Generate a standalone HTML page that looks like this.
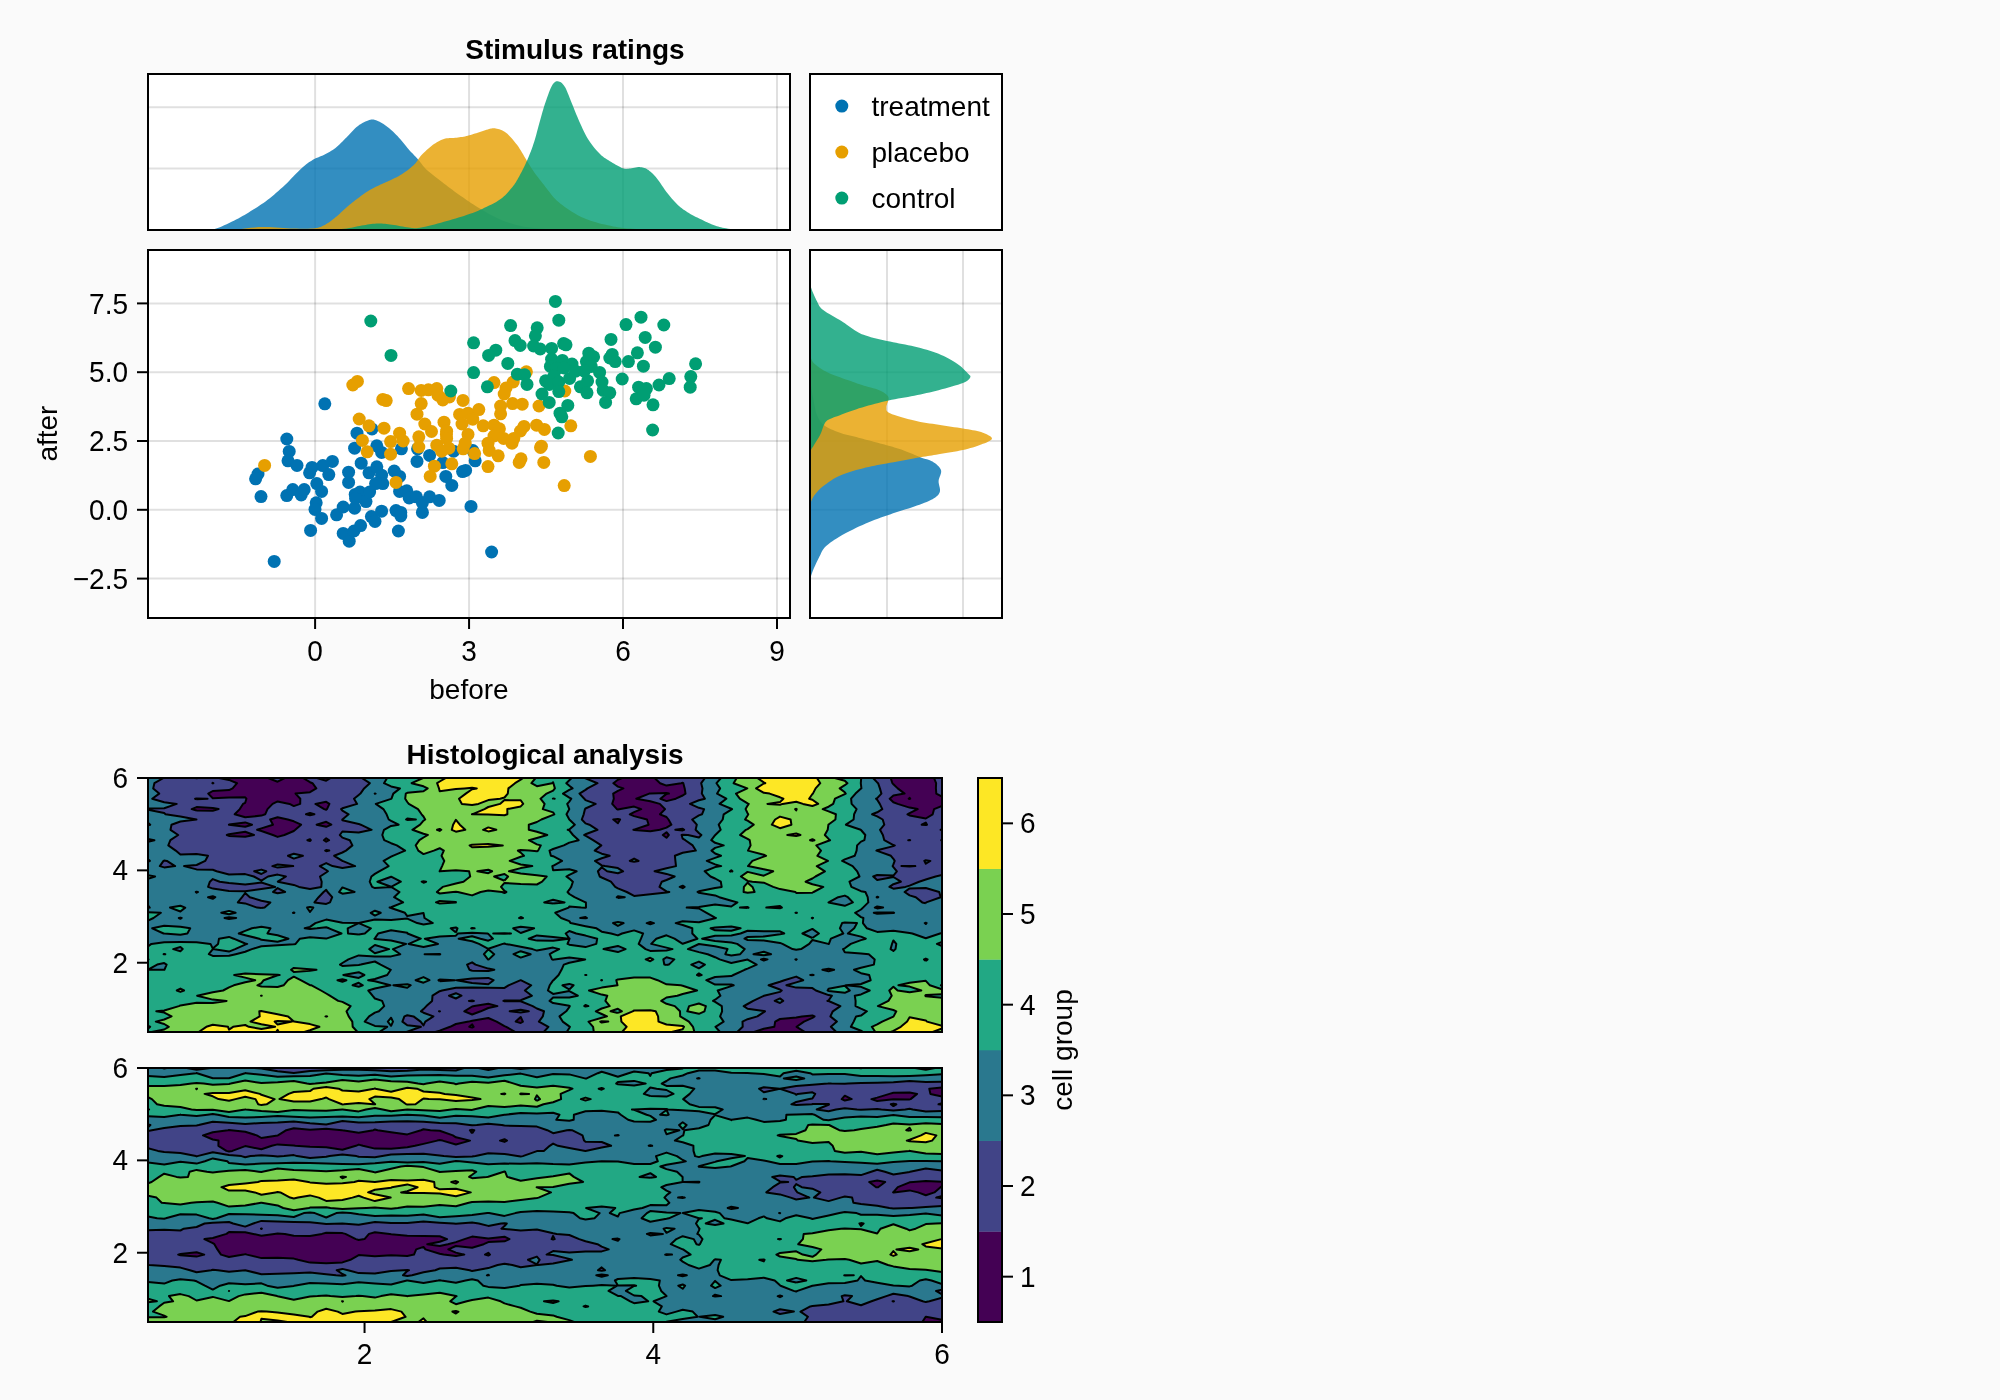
<!DOCTYPE html>
<html><head><meta charset="utf-8"><style>
html,body{margin:0;padding:0;background:#fafafa;}
body{width:2000px;height:1400px;overflow:hidden;}
svg{display:block;}
text{font-family:"Liberation Sans",sans-serif;fill:#000;}
svg{will-change:transform;}
</style></head><body>
<svg width="2000" height="1400" viewBox="0 0 2000 1400">
<rect width="2000" height="1400" fill="#fafafa"/>
<rect x="148" y="74" width="642" height="156" fill="#fff"/>
<rect x="810" y="74" width="192" height="156" fill="#fff"/>
<rect x="148" y="250" width="642" height="368" fill="#fff"/>
<rect x="810" y="250" width="192" height="368" fill="#fff"/>
<line x1="315.10" y1="250" x2="315.10" y2="618" stroke="rgba(0,0,0,0.12)" stroke-width="2"/>
<line x1="315.10" y1="74" x2="315.10" y2="230" stroke="rgba(0,0,0,0.12)" stroke-width="2"/>
<line x1="469.06" y1="250" x2="469.06" y2="618" stroke="rgba(0,0,0,0.12)" stroke-width="2"/>
<line x1="469.06" y1="74" x2="469.06" y2="230" stroke="rgba(0,0,0,0.12)" stroke-width="2"/>
<line x1="623.02" y1="250" x2="623.02" y2="618" stroke="rgba(0,0,0,0.12)" stroke-width="2"/>
<line x1="623.02" y1="74" x2="623.02" y2="230" stroke="rgba(0,0,0,0.12)" stroke-width="2"/>
<line x1="776.98" y1="250" x2="776.98" y2="618" stroke="rgba(0,0,0,0.12)" stroke-width="2"/>
<line x1="776.98" y1="74" x2="776.98" y2="230" stroke="rgba(0,0,0,0.12)" stroke-width="2"/>
<line x1="148" y1="578.60" x2="790" y2="578.60" stroke="rgba(0,0,0,0.12)" stroke-width="2"/>
<line x1="810" y1="578.60" x2="1002" y2="578.60" stroke="rgba(0,0,0,0.12)" stroke-width="2"/>
<line x1="148" y1="509.80" x2="790" y2="509.80" stroke="rgba(0,0,0,0.12)" stroke-width="2"/>
<line x1="810" y1="509.80" x2="1002" y2="509.80" stroke="rgba(0,0,0,0.12)" stroke-width="2"/>
<line x1="148" y1="441.00" x2="790" y2="441.00" stroke="rgba(0,0,0,0.12)" stroke-width="2"/>
<line x1="810" y1="441.00" x2="1002" y2="441.00" stroke="rgba(0,0,0,0.12)" stroke-width="2"/>
<line x1="148" y1="372.20" x2="790" y2="372.20" stroke="rgba(0,0,0,0.12)" stroke-width="2"/>
<line x1="810" y1="372.20" x2="1002" y2="372.20" stroke="rgba(0,0,0,0.12)" stroke-width="2"/>
<line x1="148" y1="303.40" x2="790" y2="303.40" stroke="rgba(0,0,0,0.12)" stroke-width="2"/>
<line x1="810" y1="303.40" x2="1002" y2="303.40" stroke="rgba(0,0,0,0.12)" stroke-width="2"/>
<line x1="148" y1="168.6" x2="790" y2="168.6" stroke="rgba(0,0,0,0.12)" stroke-width="2"/>
<line x1="148" y1="107.3" x2="790" y2="107.3" stroke="rgba(0,0,0,0.12)" stroke-width="2"/>
<line x1="887.0" y1="250" x2="887.0" y2="618" stroke="rgba(0,0,0,0.12)" stroke-width="2"/>
<line x1="963.0" y1="250" x2="963.0" y2="618" stroke="rgba(0,0,0,0.12)" stroke-width="2"/>
<defs><clipPath id="ctop"><rect x="148" y="74" width="642" height="156"/></clipPath><clipPath id="cright"><rect x="810" y="250" width="192" height="368"/></clipPath></defs><g clip-path="url(#ctop)">
<path d="M200 230L200.00 230.00L201.10 229.96L202.54 229.97L204.24 229.98L206.15 229.96L208.21 229.88L210.36 229.70L212.55 229.38L214.70 228.90L216.90 228.22L219.24 227.38L221.67 226.41L224.16 225.33L226.67 224.19L229.16 223.01L231.58 221.84L233.90 220.70L236.12 219.58L238.29 218.44L240.41 217.28L242.49 216.09L244.56 214.89L246.63 213.65L248.70 212.39L250.80 211.10L252.91 209.79L255.02 208.47L257.13 207.13L259.24 205.76L261.36 204.35L263.47 202.90L265.58 201.38L267.70 199.80L269.82 198.15L271.95 196.44L274.07 194.67L276.20 192.86L278.33 191.00L280.45 189.10L282.58 187.16L284.70 185.20L286.86 183.13L289.06 180.92L291.29 178.62L293.51 176.31L295.68 174.05L297.77 171.90L299.76 169.93L301.60 168.20L303.28 166.72L304.82 165.42L306.25 164.28L307.60 163.26L308.91 162.33L310.21 161.47L311.53 160.63L312.90 159.80L314.31 159.02L315.72 158.33L317.14 157.72L318.55 157.15L319.96 156.59L321.37 156.02L322.79 155.40L324.20 154.70L325.61 153.96L327.03 153.21L328.44 152.45L329.86 151.65L331.27 150.81L332.68 149.91L334.09 148.95L335.50 147.90L336.90 146.75L338.30 145.51L339.70 144.20L341.10 142.83L342.50 141.43L343.90 140.01L345.30 138.59L346.70 137.20L348.11 135.78L349.52 134.29L350.93 132.77L352.34 131.25L353.76 129.77L355.17 128.36L356.59 127.06L358.00 125.90L359.44 124.86L360.93 123.90L362.44 123.02L363.93 122.23L365.39 121.52L366.79 120.91L368.10 120.40L369.30 120.00L370.34 119.70L371.24 119.51L372.03 119.43L372.78 119.43L373.51 119.53L374.27 119.71L375.12 119.97L376.10 120.30L377.20 120.71L378.36 121.22L379.59 121.81L380.87 122.48L382.18 123.23L383.51 124.05L384.86 124.94L386.20 125.90L387.56 126.93L388.94 128.05L390.35 129.25L391.77 130.51L393.21 131.84L394.65 133.22L396.08 134.64L397.50 136.10L398.93 137.65L400.38 139.31L401.83 141.05L403.29 142.83L404.72 144.61L406.13 146.34L407.49 147.98L408.80 149.50L410.04 150.88L411.23 152.16L412.38 153.36L413.49 154.52L414.59 155.65L415.68 156.79L416.78 157.96L417.90 159.20L418.98 160.47L419.97 161.74L420.93 163.01L421.91 164.31L422.94 165.63L424.09 167.00L425.39 168.42L426.90 169.90L428.64 171.47L430.59 173.12L432.69 174.84L434.91 176.59L437.18 178.36L439.47 180.12L441.73 181.84L443.90 183.50L446.02 185.11L448.13 186.71L450.24 188.29L452.36 189.84L454.47 191.38L456.58 192.91L458.69 194.41L460.80 195.90L462.87 197.36L464.89 198.78L466.89 200.17L468.89 201.55L470.95 202.93L473.07 204.32L475.31 205.74L477.70 207.20L480.25 208.74L482.95 210.35L485.76 212.02L488.64 213.68L491.57 215.31L494.52 216.87L497.44 218.31L500.30 219.60L503.12 220.75L505.95 221.79L508.78 222.75L511.60 223.62L514.42 224.41L517.25 225.13L520.08 225.79L522.90 226.40L525.75 226.93L528.62 227.36L531.51 227.71L534.39 228.01L537.25 228.25L540.07 228.47L542.82 228.68L545.50 228.90L548.22 229.11L551.05 229.30L553.90 229.46L556.66 229.61L559.25 229.73L561.57 229.84L563.52 229.92L565.00 230.00L565 230Z" fill="#0072b2" fill-opacity="0.8"/>
<path d="M235 230L235.00 230.00L237.08 229.73L239.83 229.34L243.10 228.86L246.75 228.36L250.62 227.86L254.55 227.42L258.39 227.09L262.00 226.90L265.49 226.88L269.05 226.99L272.65 227.19L276.26 227.46L279.83 227.75L283.34 228.02L286.74 228.25L290.00 228.40L293.19 228.49L296.36 228.58L299.47 228.65L302.49 228.69L305.39 228.70L308.11 228.66L310.63 228.56L312.90 228.40L314.87 228.19L316.54 227.94L317.99 227.64L319.27 227.29L320.47 226.88L321.65 226.41L322.87 225.85L324.20 225.20L325.61 224.45L327.03 223.61L328.44 222.68L329.86 221.68L331.27 220.63L332.68 219.54L334.09 218.42L335.50 217.30L336.90 216.14L338.30 214.90L339.70 213.63L341.10 212.32L342.50 211.00L343.90 209.70L345.30 208.42L346.70 207.20L348.11 206.01L349.52 204.85L350.93 203.70L352.34 202.56L353.76 201.45L355.17 200.35L356.59 199.26L358.00 198.20L359.41 197.14L360.82 196.10L362.24 195.06L363.65 194.04L365.06 193.05L366.48 192.09L367.89 191.17L369.30 190.30L370.71 189.48L372.12 188.71L373.54 187.98L374.95 187.28L376.36 186.60L377.78 185.93L379.19 185.27L380.60 184.60L382.01 183.94L383.43 183.31L384.84 182.69L386.25 182.08L387.66 181.47L389.07 180.84L390.49 180.19L391.90 179.50L393.31 178.80L394.72 178.09L396.14 177.38L397.55 176.64L398.96 175.88L400.37 175.07L401.79 174.22L403.20 173.30L404.64 172.31L406.13 171.25L407.64 170.13L409.13 168.98L410.59 167.80L411.99 166.62L413.30 165.44L414.50 164.30L415.53 163.18L416.41 162.08L417.18 160.98L417.90 159.88L418.62 158.76L419.39 157.63L420.27 156.48L421.30 155.30L422.50 154.06L423.81 152.74L425.21 151.39L426.67 150.03L428.16 148.68L429.67 147.40L431.16 146.19L432.60 145.10L434.01 144.10L435.43 143.15L436.84 142.26L438.25 141.43L439.66 140.68L441.07 140.00L442.49 139.40L443.90 138.90L445.31 138.52L446.73 138.28L448.14 138.14L449.56 138.07L450.97 138.03L452.38 138.00L453.79 137.93L455.20 137.80L456.60 137.63L458.00 137.46L459.40 137.28L460.80 137.09L462.20 136.89L463.60 136.66L465.00 136.40L466.40 136.10L467.81 135.76L469.22 135.37L470.63 134.96L472.04 134.52L473.46 134.06L474.87 133.60L476.29 133.15L477.70 132.70L479.14 132.24L480.63 131.75L482.14 131.24L483.63 130.73L485.09 130.25L486.49 129.80L487.80 129.41L489.00 129.10L490.04 128.84L490.94 128.60L491.73 128.41L492.47 128.26L493.20 128.17L493.97 128.16L494.82 128.23L495.80 128.40L496.91 128.64L498.09 128.93L499.33 129.29L500.62 129.73L501.95 130.27L503.30 130.94L504.65 131.74L506.00 132.70L507.37 133.85L508.78 135.18L510.22 136.66L511.67 138.25L513.11 139.93L514.52 141.65L515.89 143.38L517.20 145.10L518.45 146.84L519.65 148.67L520.82 150.55L521.96 152.45L523.07 154.35L524.16 156.23L525.23 158.06L526.30 159.80L527.32 161.44L528.28 163.01L529.20 164.52L530.11 166.00L531.04 167.48L532.01 168.99L533.06 170.56L534.20 172.20L535.45 173.94L536.79 175.74L538.19 177.60L539.64 179.48L541.12 181.37L542.60 183.26L544.07 185.10L545.50 186.90L546.87 188.65L548.17 190.39L549.45 192.10L550.74 193.79L552.08 195.47L553.49 197.13L555.02 198.77L556.70 200.40L558.55 202.03L560.54 203.68L562.65 205.33L564.84 206.95L567.08 208.53L569.32 210.04L571.54 211.47L573.70 212.80L575.78 214.02L577.80 215.14L579.79 216.19L581.80 217.17L583.85 218.10L585.98 218.99L588.22 219.85L590.60 220.70L593.19 221.54L595.99 222.36L598.91 223.15L601.91 223.91L604.90 224.62L607.82 225.27L610.61 225.87L613.20 226.40L615.52 226.85L617.62 227.21L619.56 227.52L621.45 227.77L623.35 227.99L625.36 228.19L627.55 228.39L630.00 228.60L632.90 228.82L636.26 229.04L639.87 229.25L643.55 229.44L647.10 229.61L650.32 229.77L653.02 229.90L655.00 230.00L655 230Z" fill="#e69f00" fill-opacity="0.8"/>
<path d="M325 230L325.00 230.00L326.71 229.89L329.01 229.75L331.75 229.59L334.79 229.40L337.95 229.19L341.10 228.95L344.06 228.69L346.70 228.40L349.07 228.07L351.34 227.68L353.52 227.25L355.64 226.81L357.71 226.36L359.73 225.93L361.72 225.54L363.70 225.20L365.65 224.90L367.54 224.60L369.39 224.33L371.21 224.07L373.00 223.86L374.78 223.69L376.54 223.56L378.30 223.50L380.03 223.50L381.69 223.56L383.33 223.67L384.96 223.82L386.60 224.01L388.29 224.22L390.05 224.45L391.90 224.70L393.89 224.99L396.03 225.35L398.25 225.74L400.50 226.16L402.73 226.56L404.90 226.94L406.94 227.26L408.80 227.50L410.39 227.70L411.70 227.90L412.86 228.07L413.96 228.20L415.12 228.26L416.44 228.23L418.03 228.08L420.00 227.80L422.39 227.36L425.11 226.76L428.09 226.04L431.24 225.24L434.48 224.38L437.73 223.50L440.89 222.63L443.90 221.80L446.83 220.99L449.78 220.16L452.73 219.32L455.66 218.46L458.51 217.61L461.28 216.76L463.92 215.92L466.40 215.10L468.68 214.32L470.77 213.59L472.71 212.89L474.57 212.18L476.40 211.45L478.25 210.68L480.16 209.83L482.20 208.90L484.40 207.87L486.72 206.78L489.12 205.62L491.53 204.42L493.91 203.17L496.20 201.90L498.35 200.60L500.30 199.30L502.07 197.96L503.71 196.57L505.23 195.14L506.66 193.69L507.99 192.23L509.25 190.79L510.45 189.37L511.60 188.00L512.65 186.73L513.56 185.56L514.38 184.44L515.14 183.32L515.89 182.15L516.65 180.87L517.48 179.44L518.40 177.80L519.43 175.92L520.55 173.85L521.71 171.63L522.90 169.29L524.09 166.90L525.25 164.49L526.37 162.11L527.40 159.80L528.36 157.56L529.28 155.33L530.16 153.12L531.01 150.89L531.83 148.65L532.64 146.38L533.42 144.07L534.20 141.70L534.96 139.26L535.68 136.75L536.38 134.20L537.07 131.62L537.75 129.03L538.42 126.45L539.10 123.90L539.80 121.40L540.50 118.93L541.19 116.47L541.89 114.02L542.58 111.59L543.28 109.18L544.00 106.81L544.74 104.48L545.50 102.20L546.30 99.89L547.13 97.51L547.98 95.13L548.85 92.80L549.72 90.59L550.57 88.56L551.40 86.78L552.20 85.30L552.95 84.12L553.67 83.18L554.37 82.46L555.05 81.92L555.73 81.57L556.43 81.36L557.15 81.28L557.90 81.30L558.69 81.43L559.50 81.68L560.33 82.08L561.18 82.61L562.04 83.30L562.89 84.16L563.75 85.19L564.60 86.40L565.44 87.84L566.27 89.52L567.09 91.39L567.92 93.42L568.77 95.56L569.62 97.76L570.50 99.99L571.40 102.20L572.33 104.44L573.27 106.79L574.23 109.20L575.21 111.66L576.21 114.13L577.22 116.60L578.25 119.03L579.30 121.40L580.35 123.74L581.41 126.08L582.48 128.42L583.56 130.74L584.68 133.02L585.83 135.25L587.04 137.41L588.30 139.50L589.64 141.54L591.04 143.55L592.51 145.53L594.01 147.44L595.52 149.27L597.04 151.00L598.54 152.62L600.00 154.10L601.43 155.42L602.85 156.59L604.27 157.63L605.67 158.57L607.08 159.46L608.48 160.30L609.89 161.14L611.30 162.00L612.74 162.90L614.23 163.81L615.74 164.70L617.24 165.57L618.70 166.37L620.10 167.10L621.41 167.71L622.60 168.20L623.63 168.54L624.52 168.75L625.30 168.86L626.02 168.88L626.73 168.84L627.49 168.77L628.33 168.68L629.30 168.60L630.42 168.48L631.66 168.27L632.97 168.01L634.32 167.73L635.69 167.47L637.03 167.25L638.31 167.12L639.50 167.10L640.59 167.16L641.61 167.26L642.58 167.42L643.52 167.63L644.46 167.92L645.40 168.31L646.38 168.79L647.40 169.40L648.46 170.11L649.52 170.90L650.59 171.78L651.69 172.76L652.81 173.84L653.96 175.04L655.16 176.35L656.40 177.80L657.70 179.44L659.06 181.31L660.47 183.33L661.91 185.45L663.36 187.60L664.82 189.72L666.27 191.74L667.70 193.60L669.11 195.34L670.53 197.04L671.94 198.70L673.35 200.29L674.76 201.83L676.18 203.30L677.59 204.69L679.00 206.00L680.41 207.22L681.83 208.34L683.24 209.39L684.66 210.37L686.07 211.30L687.48 212.19L688.89 213.05L690.30 213.90L691.70 214.72L693.10 215.49L694.50 216.23L695.90 216.93L697.30 217.60L698.70 218.27L700.10 218.93L701.50 219.60L702.91 220.28L704.32 220.96L705.73 221.64L707.14 222.30L708.56 222.95L709.97 223.57L711.39 224.15L712.80 224.70L714.18 225.21L715.52 225.68L716.84 226.13L718.16 226.54L719.53 226.94L720.95 227.31L722.47 227.66L724.10 228.00L725.98 228.33L728.12 228.64L730.42 228.93L732.76 229.21L735.00 229.45L737.04 229.67L738.74 229.85L740.00 230.00L740 230Z" fill="#009e73" fill-opacity="0.8"/>
</g><g clip-path="url(#cright)">
<path d="M810 380L810.00 380.00L810.27 381.58L810.63 383.71L811.06 386.25L811.53 389.06L812.03 391.99L812.54 394.88L813.04 397.60L813.50 400.00L813.91 402.15L814.30 404.22L814.66 406.21L815.04 408.12L815.44 409.95L815.89 411.71L816.40 413.39L817.00 415.00L817.64 416.51L818.29 417.93L818.96 419.26L819.71 420.52L820.54 421.72L821.50 422.87L822.61 424.00L823.90 425.10L825.41 426.18L827.11 427.23L828.98 428.23L830.96 429.20L833.03 430.12L835.13 431.00L837.24 431.82L839.30 432.60L841.36 433.31L843.45 433.93L845.58 434.50L847.74 435.03L849.91 435.54L852.08 436.04L854.25 436.55L856.40 437.10L858.55 437.67L860.70 438.24L862.85 438.82L865.00 439.39L867.15 439.97L869.30 440.55L871.45 441.12L873.60 441.70L875.76 442.27L877.95 442.85L880.14 443.43L882.33 444.00L884.50 444.57L886.62 445.15L888.70 445.72L890.70 446.30L892.61 446.86L894.45 447.41L896.22 447.95L897.96 448.49L899.68 449.04L901.41 449.62L903.18 450.24L905.00 450.90L906.89 451.63L908.85 452.42L910.84 453.26L912.84 454.12L914.82 454.97L916.76 455.81L918.63 456.59L920.40 457.30L922.10 457.91L923.74 458.42L925.34 458.88L926.88 459.32L928.37 459.77L929.81 460.28L931.18 460.88L932.50 461.60L933.81 462.45L935.13 463.37L936.43 464.37L937.66 465.44L938.77 466.55L939.73 467.71L940.48 468.89L941.00 470.10L941.20 471.35L941.08 472.66L940.74 474.01L940.26 475.40L939.72 476.81L939.20 478.22L938.80 479.62L938.60 481.00L938.64 482.39L938.85 483.81L939.16 485.25L939.51 486.68L939.81 488.08L940.01 489.43L940.03 490.71L939.80 491.90L939.37 492.98L938.83 493.98L938.16 494.90L937.36 495.77L936.41 496.62L935.29 497.46L933.99 498.31L932.50 499.20L930.79 500.11L928.86 501.01L926.74 501.91L924.46 502.81L922.05 503.72L919.53 504.63L916.94 505.56L914.30 506.50L911.55 507.45L908.65 508.40L905.63 509.37L902.53 510.34L899.38 511.32L896.22 512.33L893.08 513.35L890.00 514.40L886.96 515.46L883.92 516.52L880.89 517.59L877.85 518.69L874.81 519.82L871.77 520.99L868.74 522.21L865.70 523.50L862.60 524.88L859.43 526.34L856.21 527.87L853.02 529.43L849.89 531.01L846.88 532.58L844.03 534.12L841.40 535.60L838.95 537.04L836.62 538.46L834.42 539.86L832.36 541.25L830.43 542.62L828.66 543.97L827.05 545.29L825.60 546.60L824.40 547.81L823.47 548.89L822.74 549.91L822.14 550.92L821.60 552.01L821.05 553.22L820.40 554.63L819.60 556.30L818.61 558.30L817.48 560.59L816.27 563.09L815.04 565.71L813.86 568.37L812.76 570.98L811.83 573.45L811.10 575.70L810.60 577.83L810.28 579.97L810.10 582.06L810.02 584.06L810.01 585.91L810.02 587.55L810.03 588.93L810.00 590.00L810 590Z" fill="#0072b2" fill-opacity="0.8"/>
<path d="M810 345L810.00 345.00L810.05 346.09L810.08 347.59L810.12 349.38L810.17 351.34L810.28 353.36L810.45 355.32L810.72 357.11L811.10 358.60L811.57 359.81L812.11 360.87L812.72 361.80L813.41 362.64L814.18 363.44L815.05 364.22L816.02 365.03L817.10 365.90L818.27 366.81L819.50 367.71L820.82 368.61L822.24 369.51L823.78 370.42L825.46 371.33L827.29 372.26L829.30 373.20L831.60 374.19L834.24 375.22L837.09 376.29L840.05 377.36L843.00 378.40L845.84 379.39L848.44 380.30L850.70 381.10L852.56 381.78L854.12 382.35L855.45 382.83L856.66 383.27L857.84 383.68L859.08 384.11L860.47 384.57L862.10 385.10L864.03 385.68L866.18 386.28L868.48 386.89L870.84 387.53L873.19 388.18L875.43 388.86L877.50 389.57L879.30 390.30L880.90 391.05L882.40 391.81L883.79 392.59L885.05 393.39L886.16 394.24L887.10 395.13L887.85 396.08L888.40 397.10L888.64 398.23L888.55 399.49L888.22 400.82L887.74 402.19L887.23 403.56L886.77 404.88L886.46 406.11L886.40 407.20L886.44 408.15L886.42 408.98L886.43 409.73L886.56 410.43L886.89 411.10L887.51 411.78L888.52 412.51L890.00 413.30L892.05 414.18L894.62 415.11L897.60 416.09L900.86 417.07L904.28 418.04L907.74 418.96L911.12 419.83L914.30 420.60L917.34 421.28L920.38 421.88L923.41 422.42L926.45 422.93L929.49 423.40L932.52 423.86L935.56 424.32L938.60 424.80L941.68 425.29L944.82 425.76L947.98 426.23L951.13 426.69L954.23 427.14L957.25 427.59L960.15 428.05L962.90 428.50L965.52 428.94L968.05 429.34L970.49 429.73L972.84 430.13L975.08 430.55L977.21 431.01L979.22 431.52L981.10 432.10L982.96 432.77L984.85 433.51L986.68 434.31L988.37 435.14L989.83 436.00L990.98 436.86L991.73 437.70L992.00 438.50L991.73 439.28L990.98 440.06L989.83 440.84L988.37 441.61L986.68 442.38L984.85 443.13L982.96 443.87L981.10 444.60L979.22 445.32L977.21 446.03L975.08 446.72L972.84 447.41L970.49 448.09L968.05 448.74L965.52 449.38L962.90 450.00L960.11 450.60L957.11 451.18L953.97 451.75L950.75 452.30L947.53 452.83L944.39 453.34L941.39 453.83L938.60 454.30L936.12 454.72L933.91 455.08L931.86 455.41L929.88 455.73L927.85 456.05L925.66 456.40L923.22 456.81L920.40 457.30L917.14 457.87L913.51 458.52L909.63 459.21L905.58 459.94L901.49 460.68L897.46 461.42L893.59 462.13L890.00 462.80L886.67 463.42L883.50 463.99L880.44 464.54L877.47 465.09L874.54 465.65L871.63 466.24L868.70 466.89L865.70 467.60L862.60 468.38L859.40 469.22L856.16 470.10L852.94 471.02L849.79 471.96L846.79 472.93L843.97 473.91L841.40 474.90L839.09 475.91L836.98 476.94L835.04 478.00L833.24 479.07L831.56 480.16L829.96 481.25L828.42 482.33L826.90 483.40L825.42 484.45L824.03 485.50L822.71 486.53L821.47 487.57L820.29 488.62L819.17 489.69L818.11 490.78L817.10 491.90L816.13 493.03L815.22 494.15L814.36 495.29L813.56 496.44L812.82 497.64L812.17 498.89L811.59 500.20L811.10 501.60L810.72 503.19L810.45 505.00L810.28 506.94L810.18 508.91L810.12 510.79L810.08 512.51L810.05 513.94L810.00 515.00L810 515Z" fill="#e69f00" fill-opacity="0.8"/>
<path d="M810 275L810.00 275.00L810.00 275.80L809.95 276.82L809.88 278.04L809.84 279.41L809.84 280.91L809.93 282.50L810.14 284.14L810.50 285.80L811.04 287.59L811.73 289.57L812.55 291.68L813.45 293.84L814.39 295.99L815.34 298.05L816.26 299.94L817.10 301.60L817.80 303.00L818.38 304.18L818.89 305.22L819.43 306.16L820.05 307.06L820.84 307.98L821.86 308.97L823.20 310.10L824.94 311.36L827.04 312.71L829.40 314.12L831.92 315.55L834.48 316.98L836.99 318.39L839.33 319.74L841.40 321.00L843.21 322.19L844.87 323.35L846.42 324.47L847.88 325.55L849.30 326.59L850.70 327.60L852.12 328.57L853.60 329.50L855.03 330.38L856.35 331.20L857.61 331.97L858.89 332.71L860.27 333.43L861.82 334.14L863.60 334.86L865.70 335.60L868.15 336.36L870.92 337.13L873.92 337.91L877.09 338.68L880.35 339.43L883.64 340.18L886.88 340.90L890.00 341.60L893.04 342.25L896.08 342.85L899.11 343.41L902.15 343.97L905.19 344.54L908.23 345.13L911.26 345.78L914.30 346.50L917.38 347.28L920.52 348.10L923.68 348.96L926.83 349.85L929.93 350.78L932.95 351.75L935.85 352.76L938.60 353.80L941.22 354.90L943.75 356.06L946.19 357.26L948.54 358.50L950.78 359.76L952.91 361.02L954.92 362.27L956.80 363.50L958.57 364.75L960.24 366.05L961.79 367.37L963.23 368.69L964.55 369.96L965.74 371.15L966.79 372.25L967.70 373.20L968.48 373.99L969.15 374.63L969.68 375.16L970.09 375.62L970.35 376.04L970.46 376.47L970.41 376.95L970.20 377.50L969.87 378.11L969.46 378.73L968.93 379.36L968.23 380.01L967.31 380.69L966.15 381.39L964.69 382.13L962.90 382.90L960.68 383.73L958.02 384.63L955.03 385.58L951.81 386.54L948.46 387.51L945.07 388.46L941.75 389.36L938.60 390.20L935.57 390.98L932.56 391.72L929.56 392.43L926.55 393.11L923.53 393.77L920.49 394.42L917.41 395.06L914.30 395.70L911.14 396.32L907.95 396.90L904.72 397.46L901.48 398.01L898.21 398.58L894.94 399.17L891.67 399.80L888.40 400.50L885.11 401.25L881.77 402.05L878.41 402.89L875.06 403.75L871.72 404.64L868.44 405.55L865.22 406.47L862.10 407.40L859.00 408.37L855.89 409.40L852.79 410.47L849.77 411.54L846.86 412.60L844.12 413.61L841.58 414.56L839.30 415.40L837.28 416.13L835.48 416.78L833.86 417.35L832.42 417.88L831.13 418.39L829.96 418.89L828.89 419.42L827.90 420.00L827.04 420.59L826.37 421.14L825.84 421.70L825.41 422.26L825.04 422.87L824.69 423.53L824.33 424.26L823.90 425.10L823.46 426.04L823.07 427.06L822.70 428.15L822.33 429.31L821.93 430.51L821.50 431.75L820.99 433.02L820.40 434.30L819.68 435.66L818.84 437.13L817.92 438.66L816.96 440.22L816.01 441.75L815.10 443.20L814.29 444.53L813.60 445.70L813.04 446.63L812.55 447.34L812.13 447.91L811.77 448.41L811.45 448.93L811.18 449.55L810.93 450.35L810.70 451.40L810.50 452.81L810.35 454.56L810.25 456.52L810.17 458.56L810.11 460.55L810.07 462.37L810.04 463.90L810.00 465.00L810 465Z" fill="#009e73" fill-opacity="0.8"/>
</g>
<defs><clipPath id="cmain"><rect x="148" y="250" width="642" height="368"/></clipPath></defs><g clip-path="url(#cmain)"><g fill="#0072b2"><circle cx="286.8" cy="439" r="6.5"/><circle cx="289.2" cy="451.4" r="6.5"/><circle cx="288" cy="460.8" r="6.5"/><circle cx="297" cy="465.4" r="6.5"/><circle cx="258" cy="474" r="6.5"/><circle cx="255.6" cy="478.8" r="6.5"/><circle cx="261" cy="496.6" r="6.5"/><circle cx="274.2" cy="561.4" r="6.5"/><circle cx="309.6" cy="472.8" r="6.5"/><circle cx="312" cy="467.4" r="6.5"/><circle cx="322.8" cy="465.6" r="6.5"/><circle cx="332.4" cy="461.4" r="6.5"/><circle cx="328.8" cy="474.6" r="6.5"/><circle cx="316.8" cy="483.6" r="6.5"/><circle cx="321.6" cy="491.4" r="6.5"/><circle cx="286.8" cy="495.6" r="6.5"/><circle cx="292.8" cy="489.6" r="6.5"/><circle cx="301.2" cy="495" r="6.5"/><circle cx="304.2" cy="489.6" r="6.5"/><circle cx="316.2" cy="502.8" r="6.5"/><circle cx="315" cy="509.4" r="6.5"/><circle cx="321.6" cy="518.4" r="6.5"/><circle cx="310.6" cy="530.4" r="6.5"/><circle cx="348.6" cy="472.2" r="6.5"/><circle cx="348.6" cy="482.4" r="6.5"/><circle cx="336.6" cy="514.8" r="6.5"/><circle cx="343.2" cy="507" r="6.5"/><circle cx="354.6" cy="508.2" r="6.5"/><circle cx="355.2" cy="494.4" r="6.5"/><circle cx="360" cy="492" r="6.5"/><circle cx="366" cy="501.6" r="6.5"/><circle cx="369.6" cy="492" r="6.5"/><circle cx="361.2" cy="463.2" r="6.5"/><circle cx="369" cy="472.8" r="6.5"/><circle cx="376.8" cy="466.8" r="6.5"/><circle cx="381.6" cy="475.2" r="6.5"/><circle cx="382.8" cy="483.6" r="6.5"/><circle cx="375.6" cy="483.6" r="6.5"/><circle cx="343.2" cy="533.4" r="6.5"/><circle cx="349.2" cy="541.2" r="6.5"/><circle cx="354" cy="531" r="6.5"/><circle cx="360.6" cy="525.6" r="6.5"/><circle cx="371.4" cy="516.6" r="6.5"/><circle cx="375" cy="521.4" r="6.5"/><circle cx="381.6" cy="511.2" r="6.5"/><circle cx="396" cy="510.6" r="6.5"/><circle cx="400.8" cy="512.4" r="6.5"/><circle cx="400.8" cy="516" r="6.5"/><circle cx="398.4" cy="531" r="6.5"/><circle cx="394.2" cy="471" r="6.5"/><circle cx="399.6" cy="476.4" r="6.5"/><circle cx="399.6" cy="491.4" r="6.5"/><circle cx="406.8" cy="490.8" r="6.5"/><circle cx="409.2" cy="498" r="6.5"/><circle cx="416.4" cy="496.8" r="6.5"/><circle cx="422.4" cy="512.4" r="6.5"/><circle cx="429.6" cy="496.8" r="6.5"/><circle cx="439.2" cy="500.4" r="6.5"/><circle cx="422.4" cy="502.8" r="6.5"/><circle cx="445.8" cy="476.4" r="6.5"/><circle cx="451.8" cy="485.4" r="6.5"/><circle cx="462.6" cy="471.6" r="6.5"/><circle cx="465.6" cy="470.4" r="6.5"/><circle cx="471" cy="506.4" r="6.5"/><circle cx="417" cy="461.4" r="6.5"/><circle cx="429.6" cy="455.4" r="6.5"/><circle cx="442.8" cy="462.6" r="6.5"/><circle cx="475.2" cy="460.8" r="6.5"/><circle cx="357" cy="433.2" r="6.5"/><circle cx="372" cy="429" r="6.5"/><circle cx="354.6" cy="448.2" r="6.5"/><circle cx="376.8" cy="445.8" r="6.5"/><circle cx="381.6" cy="452.4" r="6.5"/><circle cx="401.4" cy="448.8" r="6.5"/><circle cx="417.6" cy="448.8" r="6.5"/><circle cx="453.6" cy="451.2" r="6.5"/><circle cx="472.8" cy="450.6" r="6.5"/><circle cx="324.8" cy="403.8" r="6.5"/><circle cx="491.6" cy="552" r="6.5"/><circle cx="355.6" cy="498.5" r="6.5"/></g><g fill="#e69f00"><circle cx="352.8" cy="385" r="6.5"/><circle cx="357.4" cy="381.4" r="6.5"/><circle cx="382.8" cy="399.4" r="6.5"/><circle cx="386.2" cy="400.6" r="6.5"/><circle cx="408.6" cy="388.6" r="6.5"/><circle cx="421.2" cy="390.4" r="6.5"/><circle cx="428.4" cy="389.8" r="6.5"/><circle cx="436.8" cy="388.6" r="6.5"/><circle cx="438" cy="395.2" r="6.5"/><circle cx="442.8" cy="400" r="6.5"/><circle cx="449.4" cy="397" r="6.5"/><circle cx="463" cy="400.4" r="6.5"/><circle cx="421.2" cy="403.6" r="6.5"/><circle cx="417" cy="414.2" r="6.5"/><circle cx="359.2" cy="419" r="6.5"/><circle cx="369" cy="425.8" r="6.5"/><circle cx="384" cy="428.2" r="6.5"/><circle cx="424.8" cy="424" r="6.5"/><circle cx="444" cy="422.2" r="6.5"/><circle cx="459.6" cy="414.4" r="6.5"/><circle cx="468" cy="413.2" r="6.5"/><circle cx="472.8" cy="419.2" r="6.5"/><circle cx="478.8" cy="409.6" r="6.5"/><circle cx="462" cy="424" r="6.5"/><circle cx="264.6" cy="465.4" r="6.5"/><circle cx="362.4" cy="440.4" r="6.5"/><circle cx="367.2" cy="451.8" r="6.5"/><circle cx="390.6" cy="441.6" r="6.5"/><circle cx="399.6" cy="433.2" r="6.5"/><circle cx="403.2" cy="441" r="6.5"/><circle cx="390.6" cy="454.2" r="6.5"/><circle cx="396" cy="482.4" r="6.5"/><circle cx="418.8" cy="436.8" r="6.5"/><circle cx="418.8" cy="447" r="6.5"/><circle cx="436.8" cy="445.2" r="6.5"/><circle cx="434.4" cy="466.2" r="6.5"/><circle cx="430.2" cy="476.4" r="6.5"/><circle cx="446.4" cy="434.4" r="6.5"/><circle cx="448.8" cy="448.2" r="6.5"/><circle cx="451.8" cy="463.8" r="6.5"/><circle cx="468" cy="434.4" r="6.5"/><circle cx="463.2" cy="448.8" r="6.5"/><circle cx="474.6" cy="453.6" r="6.5"/><circle cx="441.6" cy="451.2" r="6.5"/><circle cx="526.4" cy="371.8" r="6.5"/><circle cx="494" cy="382.6" r="6.5"/><circle cx="513.2" cy="382" r="6.5"/><circle cx="506" cy="388" r="6.5"/><circle cx="504.2" cy="394" r="6.5"/><circle cx="500.6" cy="406" r="6.5"/><circle cx="500.6" cy="413.8" r="6.5"/><circle cx="512.6" cy="403.6" r="6.5"/><circle cx="522.2" cy="404.2" r="6.5"/><circle cx="539" cy="406" r="6.5"/><circle cx="564.8" cy="391" r="6.5"/><circle cx="483.2" cy="425.8" r="6.5"/><circle cx="494" cy="425.2" r="6.5"/><circle cx="499.4" cy="428.8" r="6.5"/><circle cx="524" cy="426.4" r="6.5"/><circle cx="536.6" cy="425.2" r="6.5"/><circle cx="544.4" cy="429.4" r="6.5"/><circle cx="570.8" cy="425.8" r="6.5"/><circle cx="520.5" cy="431" r="6.5"/><circle cx="446.6" cy="431.2" r="6.5"/><circle cx="446.6" cy="438.4" r="6.5"/><circle cx="494" cy="436" r="6.5"/><circle cx="503.6" cy="438.4" r="6.5"/><circle cx="513.8" cy="438.4" r="6.5"/><circle cx="512" cy="443.2" r="6.5"/><circle cx="488" cy="443.2" r="6.5"/><circle cx="465.2" cy="443.2" r="6.5"/><circle cx="489.2" cy="450.4" r="6.5"/><circle cx="498.2" cy="455.8" r="6.5"/><circle cx="541.4" cy="446.2" r="6.5"/><circle cx="540.5" cy="447.5" r="6.5"/><circle cx="521" cy="458.8" r="6.5"/><circle cx="519.2" cy="462.4" r="6.5"/><circle cx="543.8" cy="462.4" r="6.5"/><circle cx="590.4" cy="456.4" r="6.5"/><circle cx="488" cy="466.6" r="6.5"/><circle cx="564.2" cy="485.6" r="6.5"/><circle cx="431.5" cy="431.5" r="6.5"/></g><g fill="#009e73"><circle cx="370.8" cy="321" r="6.5"/><circle cx="391" cy="355.4" r="6.5"/><circle cx="450.8" cy="391" r="6.5"/><circle cx="555.4" cy="301.4" r="6.5"/><circle cx="558.8" cy="320.2" r="6.5"/><circle cx="510.6" cy="325.6" r="6.5"/><circle cx="537.2" cy="327.8" r="6.5"/><circle cx="535.4" cy="335.8" r="6.5"/><circle cx="473.6" cy="342.8" r="6.5"/><circle cx="515" cy="340.6" r="6.5"/><circle cx="520.2" cy="345.4" r="6.5"/><circle cx="533.6" cy="346" r="6.5"/><circle cx="540.2" cy="349" r="6.5"/><circle cx="551.6" cy="348.4" r="6.5"/><circle cx="563.6" cy="343.6" r="6.5"/><circle cx="566" cy="344.8" r="6.5"/><circle cx="495.8" cy="350.2" r="6.5"/><circle cx="488.6" cy="355.4" r="6.5"/><circle cx="507.8" cy="363.4" r="6.5"/><circle cx="473.6" cy="372.6" r="6.5"/><circle cx="517.4" cy="374.2" r="6.5"/><circle cx="524.6" cy="374.8" r="6.5"/><circle cx="527" cy="384.4" r="6.5"/><circle cx="487.4" cy="386.8" r="6.5"/><circle cx="551.6" cy="359.2" r="6.5"/><circle cx="562.4" cy="360.4" r="6.5"/><circle cx="550.4" cy="366.4" r="6.5"/><circle cx="556.4" cy="368.8" r="6.5"/><circle cx="572" cy="364" r="6.5"/><circle cx="575.6" cy="371.2" r="6.5"/><circle cx="588.8" cy="353.2" r="6.5"/><circle cx="593.6" cy="356.8" r="6.5"/><circle cx="586.4" cy="361.6" r="6.5"/><circle cx="591.2" cy="366.4" r="6.5"/><circle cx="599.6" cy="372.4" r="6.5"/><circle cx="611" cy="339.4" r="6.5"/><circle cx="612.2" cy="354.4" r="6.5"/><circle cx="609.8" cy="358" r="6.5"/><circle cx="615.2" cy="361.6" r="6.5"/><circle cx="626" cy="324.6" r="6.5"/><circle cx="641" cy="317.2" r="6.5"/><circle cx="663.8" cy="325" r="6.5"/><circle cx="645.2" cy="337.4" r="6.5"/><circle cx="655.4" cy="347.2" r="6.5"/><circle cx="637.4" cy="352.8" r="6.5"/><circle cx="628.4" cy="361.6" r="6.5"/><circle cx="643.4" cy="366.2" r="6.5"/><circle cx="695.6" cy="363.8" r="6.5"/><circle cx="690.8" cy="376.6" r="6.5"/><circle cx="690.2" cy="387.2" r="6.5"/><circle cx="669.2" cy="378.6" r="6.5"/><circle cx="659" cy="385" r="6.5"/><circle cx="622.2" cy="379" r="6.5"/><circle cx="638.6" cy="387.2" r="6.5"/><circle cx="646.4" cy="388.6" r="6.5"/><circle cx="636.2" cy="398.8" r="6.5"/><circle cx="644" cy="395.2" r="6.5"/><circle cx="653" cy="404.8" r="6.5"/><circle cx="545.6" cy="380.8" r="6.5"/><circle cx="554" cy="376" r="6.5"/><circle cx="549.2" cy="384.4" r="6.5"/><circle cx="558.8" cy="382" r="6.5"/><circle cx="569.6" cy="378.4" r="6.5"/><circle cx="580.4" cy="386.8" r="6.5"/><circle cx="587.6" cy="380.8" r="6.5"/><circle cx="587" cy="392.8" r="6.5"/><circle cx="602" cy="382" r="6.5"/><circle cx="603.2" cy="390.4" r="6.5"/><circle cx="609.8" cy="392.8" r="6.5"/><circle cx="605.6" cy="402.4" r="6.5"/><circle cx="542" cy="394" r="6.5"/><circle cx="549.2" cy="402.4" r="6.5"/><circle cx="558.8" cy="391.6" r="6.5"/><circle cx="567.8" cy="405.4" r="6.5"/><circle cx="560" cy="413.2" r="6.5"/><circle cx="561.8" cy="416.8" r="6.5"/><circle cx="558.2" cy="433" r="6.5"/><circle cx="652.6" cy="430" r="6.5"/><circle cx="564" cy="368" r="6.5"/><circle cx="584.3" cy="371.1" r="6.5"/></g></g>
<rect x="148" y="74" width="642" height="156" fill="none" stroke="#000" stroke-width="2"/>
<rect x="810" y="74" width="192" height="156" fill="none" stroke="#000" stroke-width="2"/>
<rect x="148" y="250" width="642" height="368" fill="none" stroke="#000" stroke-width="2"/>
<rect x="810" y="250" width="192" height="368" fill="none" stroke="#000" stroke-width="2"/>
<line x1="315.10" y1="618" x2="315.10" y2="629" stroke="#000" stroke-width="2"/>
<text transform="translate(315.1 660.5) scale(1 1.05)" font-size="28" text-anchor="middle" font-weight="normal" >0</text>
<line x1="469.06" y1="618" x2="469.06" y2="629" stroke="#000" stroke-width="2"/>
<text transform="translate(469.1 660.5) scale(1 1.05)" font-size="28" text-anchor="middle" font-weight="normal" >3</text>
<line x1="623.02" y1="618" x2="623.02" y2="629" stroke="#000" stroke-width="2"/>
<text transform="translate(623.0 660.5) scale(1 1.05)" font-size="28" text-anchor="middle" font-weight="normal" >6</text>
<line x1="776.98" y1="618" x2="776.98" y2="629" stroke="#000" stroke-width="2"/>
<text transform="translate(777.0 660.5) scale(1 1.05)" font-size="28" text-anchor="middle" font-weight="normal" >9</text>
<line x1="137" y1="578.60" x2="148" y2="578.60" stroke="#000" stroke-width="2"/>
<text transform="translate(128 588.8) scale(1 1.05)" font-size="28" text-anchor="end" font-weight="normal" >−2.5</text>
<line x1="137" y1="509.80" x2="148" y2="509.80" stroke="#000" stroke-width="2"/>
<text transform="translate(128 520.0) scale(1 1.05)" font-size="28" text-anchor="end" font-weight="normal" >0.0</text>
<line x1="137" y1="441.00" x2="148" y2="441.00" stroke="#000" stroke-width="2"/>
<text transform="translate(128 451.2) scale(1 1.05)" font-size="28" text-anchor="end" font-weight="normal" >2.5</text>
<line x1="137" y1="372.20" x2="148" y2="372.20" stroke="#000" stroke-width="2"/>
<text transform="translate(128 382.4) scale(1 1.05)" font-size="28" text-anchor="end" font-weight="normal" >5.0</text>
<line x1="137" y1="303.40" x2="148" y2="303.40" stroke="#000" stroke-width="2"/>
<text transform="translate(128 313.6) scale(1 1.05)" font-size="28" text-anchor="end" font-weight="normal" >7.5</text>
<text transform="translate(469 699.4) scale(1 1.0)" font-size="28" text-anchor="middle" font-weight="normal" >before</text>
<text transform="translate(56.6 433.6) rotate(-90)" font-size="28" text-anchor="middle">after</text>
<text transform="translate(575 58.6) scale(1 1.0)" font-size="28" text-anchor="middle" font-weight="bold" >Stimulus ratings</text>
<circle cx="841.8" cy="106.1" r="6.5" fill="#0072b2"/>
<text transform="translate(871.5 116.2) scale(1 1.0)" font-size="28" text-anchor="start" font-weight="normal" >treatment</text>
<circle cx="841.8" cy="152.1" r="6.5" fill="#e69f00"/>
<text transform="translate(871.5 162.2) scale(1 1.0)" font-size="28" text-anchor="start" font-weight="normal" >placebo</text>
<circle cx="841.8" cy="198.1" r="6.5" fill="#009e73"/>
<text transform="translate(871.5 208.2) scale(1 1.0)" font-size="28" text-anchor="start" font-weight="normal" >control</text>
<defs><clipPath id="c1"><rect x="148" y="778" width="794" height="254"/></clipPath><clipPath id="c2"><rect x="148" y="1068" width="794" height="254"/></clipPath></defs>
<g clip-path="url(#c1)">
<path d="M439.7 1032.0L455.9 1032.0L472.1 1032.0L488.3 1032.0L504.5 1032.0L515.4 1032.0L506.2 1026.8L504.5 1026.1L496.6 1021.6L488.3 1018.0L472.1 1020.8L468.6 1021.6L455.9 1024.0L450.1 1026.8L439.7 1030.6L435.4 1032.0ZM469.3 1026.8L472.1 1024.4L473.6 1026.8L472.1 1027.6ZM763.8 1032.0L780.0 1032.0L796.2 1032.0L805.0 1032.0L796.6 1026.8L804.0 1021.6L812.4 1017.9L814.6 1016.4L812.4 1015.4L802.0 1016.4L796.2 1017.4L780.0 1019.0L775.2 1021.6L774.3 1026.8L763.8 1028.8L754.1 1032.0ZM520.7 1023.0L522.9 1021.6L520.7 1017.0L515.7 1021.6ZM472.1 1014.5L480.7 1011.3L488.3 1008.0L497.4 1006.1L488.3 1003.8L474.3 1006.1L472.1 1006.5L464.3 1011.3ZM326.2 841.7L329.1 840.2L326.2 838.2L323.9 840.2ZM909.6 840.3L910.2 840.2L909.6 840.1L908.2 840.2ZM229.0 835.9L245.2 836.8L254.0 835.0L245.2 831.8L229.0 834.2L226.8 835.0ZM277.6 836.9L284.4 835.0L293.8 831.0L295.3 829.8L301.1 824.7L293.8 821.3L287.8 819.5L277.6 817.3L270.2 819.5L273.0 824.7L261.4 828.4L257.1 829.8L261.4 831.0L272.9 835.0ZM666.5 837.8L668.8 835.0L666.5 832.2L662.8 835.0ZM634.1 829.9L650.3 831.2L659.8 829.8L666.5 827.6L671.4 824.7L668.5 819.5L666.5 817.0L660.0 814.3L665.1 809.1L659.8 803.9L650.3 801.3L636.3 798.7L649.2 793.6L650.3 793.4L666.5 793.1L668.9 793.6L666.5 793.9L660.4 798.7L666.5 801.1L675.8 798.7L682.7 795.5L685.5 793.6L684.7 788.4L683.3 783.2L682.7 782.8L681.1 783.2L666.5 785.6L660.1 783.2L654.6 778.0L650.3 778.0L634.1 778.0L622.1 778.0L617.9 779.7L613.4 783.2L617.9 786.6L623.4 788.4L617.9 790.8L613.2 793.6L613.8 798.7L612.2 803.9L616.9 809.1L617.9 809.6L620.5 809.1L634.1 806.6L641.2 809.1L634.1 812.1L629.8 814.3L634.1 816.1L647.0 819.5L648.6 824.7L634.1 829.6L633.4 829.8ZM682.7 830.4L684.1 829.8L682.7 828.7L675.3 829.8ZM942.0 830.3L942.0 829.8L942.0 829.5L940.6 829.8ZM229.0 824.7L245.2 826.8L252.0 824.7L245.2 822.4L229.0 824.6L228.9 824.7ZM326.2 826.8L331.3 824.7L326.2 821.8L316.6 824.7ZM925.8 825.1L927.0 824.7L925.8 822.6L921.7 824.7ZM617.9 823.2L620.1 819.5L617.9 819.0L613.3 819.5ZM245.2 817.3L261.4 815.6L265.2 814.3L267.5 809.1L272.6 803.9L277.6 801.4L289.6 803.9L293.8 806.1L300.2 803.9L300.3 798.7L295.5 793.6L310.0 792.2L316.3 788.4L312.5 783.2L310.0 782.2L303.0 778.0L293.8 778.0L284.7 778.0L277.6 781.7L268.2 778.0L261.4 778.0L245.2 778.0L229.0 778.0L219.1 778.0L229.0 779.9L237.1 783.2L232.6 788.4L229.0 790.1L212.8 791.0L208.2 793.6L212.8 798.3L229.0 797.4L245.2 797.3L246.4 798.7L245.2 802.8L243.0 803.9L239.8 809.1L234.7 814.3ZM310.0 815.2L314.4 814.3L310.0 813.0L306.0 814.3ZM909.6 815.5L925.8 818.5L932.7 814.3L934.1 809.1L942.0 805.9L942.0 803.9L942.0 798.7L942.0 796.6L936.3 793.6L935.9 788.4L936.1 783.2L934.0 778.0L925.8 778.0L909.6 778.0L893.4 778.0L890.7 778.0L892.4 783.2L893.4 784.3L897.7 788.4L904.6 793.6L893.4 795.6L889.7 798.7L893.4 802.3L897.6 803.9L909.6 807.6L917.7 809.1L909.6 813.1L907.5 814.3ZM908.7 798.7L909.6 797.9L910.2 798.7L909.6 799.0ZM196.6 810.5L212.8 810.8L218.6 809.1L212.8 808.1L196.6 807.1L191.7 809.1ZM326.2 809.8L327.0 809.1L329.4 803.9L326.2 801.8L315.4 803.9L324.2 809.1ZM196.6 799.3L207.6 798.7L196.6 798.4L195.1 798.7ZM212.8 783.4L213.4 783.2L212.8 782.7L212.4 783.2ZM196.6 778.2L198.5 778.0L196.6 778.0L195.3 778.0ZM326.2 780.7L330.7 778.0L326.2 778.0L316.9 778.0Z" fill="#440154" stroke="#440154" stroke-width="0.6"/>
<path d="M407.3 1032.0L423.5 1032.0L435.4 1032.0L439.7 1030.6L450.1 1026.8L455.9 1024.0L468.6 1021.6L472.1 1020.8L488.3 1018.0L496.6 1021.6L504.5 1026.1L506.2 1026.8L515.4 1032.0L520.7 1032.0L536.9 1032.0L543.8 1032.0L548.4 1026.8L538.9 1021.6L542.8 1016.4L544.0 1011.3L536.9 1008.5L532.7 1006.1L520.7 1001.2L504.5 1001.2L503.4 1000.9L504.5 1000.5L520.7 1000.2L531.9 995.7L524.9 990.5L531.2 985.3L520.7 980.2L508.5 985.3L504.5 987.9L488.3 987.7L472.1 987.4L455.9 987.7L442.1 990.5L439.7 991.2L432.5 995.7L432.1 1000.9L426.4 1006.1L423.5 1009.1L421.0 1011.3L423.5 1012.7L433.4 1016.4L425.3 1021.6L423.5 1025.4L420.6 1021.6L413.5 1016.4L407.3 1015.3L404.4 1016.4L402.4 1021.6L407.3 1025.2L420.9 1026.8L407.3 1031.7L406.7 1032.0ZM515.7 1021.6L520.7 1017.0L522.9 1021.6L520.7 1023.0ZM439.0 1011.3L439.7 1011.2L439.9 1011.3L439.7 1011.4ZM464.3 1011.3L472.1 1006.5L474.3 1006.1L488.3 1003.8L497.4 1006.1L488.3 1008.0L480.7 1011.3L472.1 1014.5ZM509.7 1011.3L520.7 1009.8L528.8 1011.3L520.7 1012.5ZM468.9 1000.9L472.1 1000.4L473.9 1000.9L472.1 1001.3ZM449.0 995.7L455.9 993.2L461.5 995.7L455.9 998.5ZM472.1 1027.6L473.6 1026.8L472.1 1024.4L469.3 1026.8ZM747.6 1032.0L754.1 1032.0L763.8 1028.8L774.3 1026.8L775.2 1021.6L780.0 1019.0L796.2 1017.4L802.0 1016.4L812.4 1015.4L814.6 1016.4L812.4 1017.9L804.0 1021.6L796.6 1026.8L805.0 1032.0L812.4 1032.0L828.6 1032.0L836.3 1032.0L830.9 1026.8L836.9 1021.6L830.4 1016.4L832.8 1011.3L840.4 1006.1L828.6 1001.0L827.4 1000.9L828.6 1000.4L831.9 995.7L828.6 995.1L815.9 990.5L812.4 988.1L796.2 987.6L786.4 985.3L796.2 982.4L803.2 980.2L796.2 976.6L784.3 980.2L780.0 981.7L768.6 985.3L780.0 989.5L781.7 990.5L780.0 991.9L764.0 995.7L763.8 995.8L753.2 1000.9L747.6 1004.0L743.7 1006.1L747.6 1008.8L763.8 1010.9L765.0 1011.3L763.8 1012.1L757.4 1016.4L747.6 1019.2L742.5 1021.6L742.7 1026.8L737.2 1032.0ZM774.7 1000.9L780.0 998.4L783.2 1000.9L780.0 1003.0ZM439.7 981.3L454.9 980.2L439.7 979.5L438.5 980.2ZM472.1 982.9L488.3 984.2L493.6 980.2L488.3 977.9L472.1 978.6L456.6 980.2ZM812.4 975.3L813.6 975.0L812.4 974.7L810.2 975.0ZM472.1 970.8L488.3 971.0L494.3 969.8L488.3 968.6L475.5 964.6L472.1 962.3L467.1 964.6L469.5 969.8ZM763.8 960.6L767.5 959.4L763.8 958.7L761.0 959.4ZM650.3 924.2L653.9 923.1L650.3 922.0L646.7 923.1ZM180.4 918.8L181.7 918.0L180.4 917.6L178.8 918.0ZM229.0 919.0L236.2 918.0L229.0 917.3L224.5 918.0ZM293.8 913.1L294.4 912.8L293.8 912.4L292.9 912.8ZM149.7 907.6L148.0 905.5L148.0 907.6L148.0 908.0ZM261.4 908.1L264.6 907.6L270.4 902.4L261.4 900.7L249.8 897.2L245.2 893.0L242.1 897.2L237.8 902.4L245.2 903.4L257.1 907.6ZM877.2 908.4L883.1 907.6L877.2 906.4L874.8 907.6ZM326.2 903.9L330.0 902.4L332.2 897.2L327.6 892.0L326.2 889.9L323.6 892.0L318.6 897.2L314.4 902.4ZM925.8 903.2L926.2 902.4L940.7 897.2L939.2 892.0L925.8 888.0L909.6 888.4L904.6 892.0L909.6 895.4L915.8 897.2L922.2 902.4ZM212.8 898.8L215.3 897.2L212.8 896.3L208.0 897.2ZM617.9 898.1L624.8 897.2L617.9 896.3L616.8 897.2ZM877.2 897.6L878.3 897.2L877.2 896.7L876.7 897.2ZM196.6 892.7L197.9 892.0L196.6 891.7L195.8 892.0ZM277.6 893.3L285.1 892.0L277.6 888.1L273.0 892.0ZM634.1 895.9L650.3 894.2L666.5 892.5L669.3 892.0L666.5 891.4L659.5 886.9L661.8 881.7L666.5 880.0L674.7 876.5L666.5 873.9L654.6 871.3L666.5 868.3L676.0 866.1L675.4 860.9L674.9 855.8L682.7 852.7L695.8 850.6L692.7 845.4L685.3 840.2L682.7 838.7L681.6 835.0L682.7 834.7L688.0 835.0L698.9 837.5L701.4 835.0L698.9 833.0L695.6 829.8L696.8 824.7L692.2 819.5L698.9 815.4L702.0 814.3L704.1 809.1L698.9 807.8L690.0 803.9L698.9 800.3L704.9 798.7L701.8 793.6L702.5 788.4L701.2 783.2L705.0 778.0L698.9 778.0L682.7 778.0L666.5 778.0L654.6 778.0L660.1 783.2L666.5 785.6L681.1 783.2L682.7 782.8L683.3 783.2L684.7 788.4L685.5 793.6L682.7 795.5L675.8 798.7L666.5 801.1L660.4 798.7L666.5 793.9L668.9 793.6L666.5 793.1L650.3 793.4L649.2 793.6L636.3 798.7L650.3 801.3L659.8 803.9L665.1 809.1L660.0 814.3L666.5 817.0L668.5 819.5L671.4 824.7L666.5 827.6L659.8 829.8L650.3 831.2L634.1 829.9L633.4 829.8L634.1 829.6L648.6 824.7L647.0 819.5L634.1 816.1L629.8 814.3L634.1 812.1L641.2 809.1L634.1 806.6L620.5 809.1L617.9 809.6L616.9 809.1L612.2 803.9L613.8 798.7L613.2 793.6L617.9 790.8L623.4 788.4L617.9 786.6L613.4 783.2L617.9 779.7L622.1 778.0L617.9 778.0L601.7 778.0L585.5 778.0L584.8 778.0L585.5 778.4L597.5 783.2L587.5 788.4L585.5 789.9L579.5 793.6L584.3 798.7L585.5 800.1L595.7 803.9L585.5 808.5L585.0 809.1L583.7 814.3L581.8 819.5L585.5 823.4L589.4 824.7L597.5 829.8L585.5 834.3L584.2 835.0L585.5 835.7L593.1 840.2L601.3 845.4L594.7 850.6L601.7 853.7L609.7 855.8L601.7 858.2L595.0 860.9L601.7 865.4L605.0 866.1L617.9 868.1L623.1 871.3L617.9 873.2L607.1 871.3L601.7 867.3L597.9 871.3L599.7 876.5L601.7 877.5L610.9 881.7L615.2 886.9L617.9 888.3L626.8 892.0ZM629.8 860.9L634.1 858.6L638.6 860.9L634.1 861.8ZM662.8 835.0L666.5 832.2L668.8 835.0L666.5 837.8ZM675.3 829.8L682.7 828.7L684.1 829.8L682.7 830.4ZM613.3 819.5L617.9 819.0L620.1 819.5L617.9 823.2ZM212.8 888.6L229.0 890.9L245.2 891.3L261.4 889.0L275.1 886.9L261.4 882.5L245.2 884.6L229.0 883.1L219.7 881.7L212.8 879.1L209.9 881.7L208.1 886.9ZM310.0 888.9L321.3 886.9L321.7 881.7L320.0 876.5L326.2 872.5L327.9 871.3L326.2 870.0L319.8 866.1L326.2 863.1L332.5 866.1L342.4 867.9L355.1 866.1L342.5 860.9L342.4 860.9L334.2 855.8L342.4 852.5L346.0 850.6L352.4 845.4L349.8 840.2L342.4 837.6L339.8 835.0L342.4 831.5L358.7 832.5L371.6 829.8L360.7 824.7L358.7 823.9L342.4 820.3L342.3 819.5L342.4 819.4L348.6 814.3L342.4 810.7L341.1 809.1L342.4 808.3L357.1 803.9L354.0 798.7L358.7 795.0L360.4 793.6L364.1 788.4L369.8 783.2L361.8 778.0L358.7 778.0L342.4 778.0L330.7 778.0L326.2 780.7L316.9 778.0L310.0 778.0L303.0 778.0L310.0 782.2L312.5 783.2L316.3 788.4L310.0 792.2L295.5 793.6L300.3 798.7L300.2 803.9L293.8 806.1L289.6 803.9L277.6 801.4L272.6 803.9L267.5 809.1L265.2 814.3L261.4 815.6L245.2 817.3L234.7 814.3L239.8 809.1L243.0 803.9L245.2 802.8L246.4 798.7L245.2 797.3L229.0 797.4L212.8 798.3L208.2 793.6L212.8 791.0L229.0 790.1L232.6 788.4L237.1 783.2L229.0 779.9L219.1 778.0L212.8 778.0L198.5 778.0L196.6 778.2L195.3 778.0L180.4 778.0L164.2 778.0L163.6 778.0L154.4 783.2L153.2 788.4L159.2 793.6L152.2 798.7L164.2 802.3L176.7 803.9L164.2 808.3L148.0 808.4L148.0 809.1L148.0 809.7L164.2 813.1L165.5 814.3L180.4 816.4L196.5 819.5L180.4 821.5L171.5 824.7L170.5 829.8L178.2 835.0L170.4 840.2L168.3 845.4L175.7 850.6L180.4 854.6L196.6 854.1L208.0 855.8L205.2 860.9L196.6 865.0L184.1 866.1L196.6 869.4L212.8 869.8L216.6 871.3L229.0 874.5L245.2 874.1L253.8 876.5L261.4 880.6L268.0 876.5L277.6 874.6L285.9 876.5L277.8 881.7L293.8 884.9L299.0 886.9ZM254.2 871.3L261.4 869.6L266.2 871.3L261.4 874.0ZM272.4 866.1L277.6 864.5L293.2 866.1L277.6 867.6ZM288.0 855.8L293.8 853.8L302.9 855.8L293.8 858.6ZM325.2 850.6L326.2 850.1L329.3 850.6L326.2 851.2ZM307.4 840.2L310.0 839.2L310.8 840.2L310.0 841.0ZM323.9 840.2L326.2 838.2L329.1 840.2L326.2 841.7ZM226.8 835.0L229.0 834.2L245.2 831.8L254.0 835.0L245.2 836.8L229.0 835.9ZM272.9 835.0L261.4 831.0L257.1 829.8L261.4 828.4L273.0 824.7L270.2 819.5L277.6 817.3L287.8 819.5L293.8 821.3L301.1 824.7L295.3 829.8L293.8 831.0L284.4 835.0L277.6 836.9ZM228.9 824.7L229.0 824.6L245.2 822.4L252.0 824.7L245.2 826.8L229.0 824.7ZM316.6 824.7L326.2 821.8L331.3 824.7L326.2 826.8ZM306.0 814.3L310.0 813.0L314.4 814.3L310.0 815.2ZM191.7 809.1L196.6 807.1L212.8 808.1L218.6 809.1L212.8 810.8L196.6 810.5ZM324.2 809.1L315.4 803.9L326.2 801.8L329.4 803.9L327.0 809.1L326.2 809.8ZM195.1 798.7L196.6 798.4L207.6 798.7L196.6 799.3ZM212.4 783.2L212.8 782.7L213.4 783.2L212.8 783.4ZM682.7 888.2L684.6 886.9L682.7 885.7L679.7 886.9ZM893.4 888.7L905.4 886.9L909.6 885.6L919.1 881.7L925.8 879.5L935.6 876.5L942.0 875.0L942.0 871.3L942.0 866.1L942.0 860.9L942.0 855.8L942.0 850.6L942.0 845.4L942.0 840.4L941.2 840.2L942.0 839.9L942.0 835.0L942.0 830.3L940.6 829.8L942.0 829.5L942.0 824.7L942.0 819.5L942.0 814.3L942.0 809.1L942.0 805.9L934.1 809.1L932.7 814.3L925.8 818.5L909.6 815.5L907.5 814.3L909.6 813.1L917.7 809.1L909.6 807.6L897.6 803.9L893.4 802.3L889.7 798.7L893.4 795.6L904.6 793.6L897.7 788.4L893.4 784.3L892.4 783.2L890.7 778.0L877.2 778.0L873.0 778.0L877.2 782.4L878.1 783.2L879.9 788.4L881.4 793.6L877.2 798.1L876.1 798.7L877.2 799.8L879.8 803.9L882.3 809.1L877.2 812.3L872.1 814.3L877.2 816.4L882.7 819.5L884.3 824.7L880.0 829.8L882.9 835.0L884.3 840.2L893.4 845.1L894.8 845.4L893.4 846.1L877.2 850.2L876.4 850.6L877.2 850.9L890.9 855.8L893.4 858.8L894.7 860.9L893.4 864.4L892.6 866.1L893.4 867.1L896.9 871.3L893.4 875.6L877.2 875.0L873.2 876.5L877.2 880.0L893.4 877.0L900.9 881.7L893.4 884.2L889.4 886.9ZM901.4 866.1L909.6 865.9L915.3 866.1L909.6 866.5ZM924.3 860.9L925.8 860.2L930.3 860.9L925.8 863.7ZM908.2 840.2L909.6 840.1L910.2 840.2L909.6 840.3ZM921.7 824.7L925.8 822.6L927.0 824.7L925.8 825.1ZM164.2 867.4L175.1 866.1L166.9 860.9L164.2 860.5L163.5 860.9L159.8 866.1ZM154.4 840.2L148.0 839.0L148.0 840.2L148.0 841.9ZM150.2 824.7L148.0 822.6L148.0 824.7L148.0 825.4ZM909.6 799.0L910.2 798.7L909.6 797.9L908.7 798.7ZM942.0 796.6L942.0 793.6L942.0 788.4L942.0 783.2L942.0 778.0L934.0 778.0L936.1 783.2L935.9 788.4L936.3 793.6ZM277.6 781.7L284.7 778.0L277.6 778.0L268.2 778.0Z" fill="#414487" stroke="#414487" stroke-width="0.6"/>
<path d="M391.1 1032.0L406.7 1032.0L407.3 1031.7L420.9 1026.8L407.3 1025.2L402.4 1021.6L404.4 1016.4L407.3 1015.3L413.5 1016.4L420.6 1021.6L423.5 1025.4L425.3 1021.6L433.4 1016.4L423.5 1012.7L421.0 1011.3L423.5 1009.1L426.4 1006.1L432.1 1000.9L432.5 995.7L439.7 991.2L442.1 990.5L455.9 987.7L472.1 987.4L488.3 987.7L504.5 987.9L508.5 985.3L520.7 980.2L531.2 985.3L524.9 990.5L531.9 995.7L520.7 1000.2L504.5 1000.5L503.4 1000.9L504.5 1001.2L520.7 1001.2L532.7 1006.1L536.9 1008.5L544.0 1011.3L542.8 1016.4L538.9 1021.6L548.4 1026.8L543.8 1032.0L553.1 1032.0L566.7 1032.0L569.3 1028.0L569.9 1026.8L569.3 1026.4L562.7 1021.6L559.5 1016.4L566.2 1011.3L569.3 1007.2L569.8 1006.1L569.3 1005.8L553.1 1003.1L549.5 1000.9L553.1 997.5L569.3 997.5L577.8 995.7L569.3 991.1L553.1 993.9L547.9 990.5L549.7 985.3L553.1 980.4L553.5 980.2L558.6 975.0L561.5 969.8L563.8 964.6L569.3 962.7L585.2 959.4L569.3 957.4L554.6 959.4L553.1 959.8L552.0 959.4L549.7 954.2L553.1 952.2L559.2 949.1L553.1 947.6L545.3 949.1L536.9 950.6L532.4 949.1L520.7 946.7L505.6 943.9L504.5 943.5L502.8 943.9L488.3 948.8L479.0 943.9L472.1 941.2L458.7 938.7L472.1 936.3L480.5 938.7L488.3 940.7L492.9 938.7L488.3 933.9L487.4 933.5L472.1 932.8L457.9 933.5L455.9 935.7L439.7 936.4L424.9 938.7L438.0 943.9L423.5 946.9L408.7 943.9L420.8 938.7L407.5 933.5L407.3 932.7L391.1 930.2L378.2 933.5L374.9 938.4L374.5 938.7L374.9 939.1L391.1 940.6L406.1 943.9L393.0 949.1L400.3 954.2L391.1 956.4L374.9 956.5L358.7 955.4L348.4 959.4L342.4 963.0L340.0 964.6L342.4 965.9L358.7 965.0L360.8 964.6L374.9 961.5L380.6 964.6L390.8 969.8L387.2 975.0L374.9 979.0L368.1 980.2L374.9 981.2L390.4 985.3L374.9 988.5L368.3 990.5L372.5 995.7L374.9 998.5L382.1 1000.9L384.2 1006.1L378.9 1011.3L374.9 1012.6L369.1 1016.4L364.7 1021.6L374.9 1025.9L387.2 1026.8L379.2 1032.0ZM387.8 1021.6L391.1 1017.7L393.0 1021.6L391.1 1025.8ZM393.4 985.3L407.3 984.2L410.7 985.3L407.3 987.7ZM415.6 980.2L423.5 977.1L429.5 980.2L423.5 982.7ZM438.5 980.2L439.7 979.5L454.9 980.2L439.7 981.3ZM456.6 980.2L472.1 978.6L488.3 977.9L493.6 980.2L488.3 984.2L472.1 982.9ZM469.5 969.8L467.1 964.6L472.1 962.3L475.5 964.6L488.3 968.6L494.3 969.8L488.3 971.0L472.1 970.8ZM487.9 959.4L483.9 954.2L488.3 949.3L494.2 954.2L488.9 959.4L488.3 959.6ZM424.6 954.2L439.7 954.0L440.2 954.2L439.7 954.6ZM513.5 954.2L520.7 951.2L530.7 954.2L520.7 957.6ZM731.3 1032.0L737.2 1032.0L742.7 1026.8L742.5 1021.6L747.6 1019.2L757.4 1016.4L763.8 1012.1L765.0 1011.3L763.8 1010.9L747.6 1008.8L743.7 1006.1L747.6 1004.0L753.2 1000.9L763.8 995.8L764.0 995.7L780.0 991.9L781.7 990.5L780.0 989.5L768.6 985.3L780.0 981.7L784.3 980.2L796.2 976.6L803.2 980.2L796.2 982.4L786.4 985.3L796.2 987.6L812.4 988.1L815.9 990.5L828.6 995.1L831.9 995.7L828.6 1000.4L827.4 1000.9L828.6 1001.0L840.4 1006.1L832.8 1011.3L830.4 1016.4L836.9 1021.6L830.9 1026.8L836.3 1032.0L844.8 1032.0L861.0 1032.0L863.2 1032.0L861.0 1030.7L850.9 1026.8L853.7 1021.6L856.1 1016.4L861.0 1015.6L866.9 1011.3L861.0 1008.7L855.5 1006.1L855.6 1000.9L854.8 995.7L861.0 994.4L869.7 990.5L861.0 986.8L845.9 985.3L861.0 984.0L870.7 980.2L869.2 975.0L861.0 973.2L854.0 969.8L861.0 967.7L873.9 964.6L874.7 959.4L868.8 954.2L861.0 953.4L844.8 952.2L843.0 949.1L844.8 948.3L850.8 943.9L861.0 940.1L865.8 938.7L861.0 936.6L847.9 933.5L854.2 928.3L857.0 923.1L844.8 922.5L842.1 923.1L839.9 928.3L843.3 933.5L830.9 938.7L828.9 943.9L828.6 943.9L828.2 943.9L812.4 940.0L809.2 943.9L801.1 949.1L796.2 949.8L792.5 949.1L782.5 943.9L780.0 942.9L763.8 940.4L747.6 940.0L744.5 938.7L747.6 937.0L763.8 936.4L780.0 934.2L784.2 933.5L780.0 931.3L763.8 931.2L747.6 930.7L740.5 933.5L731.3 935.5L715.1 935.7L702.1 938.7L715.1 940.9L731.3 942.5L737.2 943.9L744.7 949.1L740.2 954.2L731.3 955.4L725.3 954.2L727.5 949.1L715.1 946.3L698.9 944.0L687.9 949.1L698.9 952.1L707.7 954.2L715.1 957.2L719.6 959.4L731.3 963.0L747.6 959.6L756.7 964.6L747.6 968.6L744.6 969.8L733.4 975.0L731.3 976.1L715.1 977.0L706.3 980.2L715.1 984.6L731.3 984.5L733.7 985.3L731.3 986.1L717.7 990.5L720.4 995.7L715.1 999.7L713.0 1000.9L715.1 1001.9L721.8 1006.1L722.1 1011.3L720.1 1016.4L723.6 1021.6L715.5 1026.8L720.0 1032.0ZM827.6 990.5L828.6 988.7L844.8 985.7L849.8 990.5L844.8 992.8L828.6 990.9ZM810.2 975.0L812.4 974.7L813.6 975.0L812.4 975.3ZM822.4 969.8L828.6 968.7L834.1 969.8L828.6 971.2ZM761.0 959.4L763.8 958.7L767.5 959.4L763.8 960.6ZM795.4 959.4L796.2 959.2L796.7 959.4L796.2 959.9ZM753.5 954.2L763.8 951.7L771.1 954.2L763.8 955.2ZM439.7 1011.4L439.9 1011.3L439.7 1011.2L439.0 1011.3ZM520.7 1012.5L528.8 1011.3L520.7 1009.8L509.7 1011.3ZM472.1 1001.3L473.9 1000.9L472.1 1000.4L468.9 1000.9ZM780.0 1003.0L783.2 1000.9L780.0 998.4L774.7 1000.9ZM455.9 998.5L461.5 995.7L455.9 993.2L449.0 995.7ZM358.7 986.7L362.8 985.3L358.7 982.8L352.6 985.3ZM569.3 989.5L573.6 985.3L569.3 983.9L562.5 985.3ZM942.0 985.7L942.0 985.3L942.0 984.4L940.9 985.3ZM601.7 980.4L602.0 980.2L601.7 980.0L601.2 980.2ZM358.7 977.9L364.4 975.0L358.7 972.2L343.3 975.0ZM698.9 975.7L701.7 975.0L698.9 973.4L696.9 975.0ZM164.2 969.8L164.4 969.8L166.6 964.6L164.2 963.1L157.2 964.6L148.0 969.7L148.0 969.8L148.0 969.8ZM666.5 965.1L668.9 964.6L674.3 959.4L666.5 957.2L663.3 959.4L664.3 964.6ZM698.9 968.3L704.9 964.6L698.9 961.6L691.3 964.6ZM148.5 959.4L148.0 959.3L148.0 959.4L148.0 959.7ZM925.8 961.1L927.6 959.4L925.8 958.6L924.0 959.4ZM164.2 954.5L165.3 954.2L164.2 953.9L163.6 954.2ZM212.8 955.9L229.0 955.8L235.7 954.2L245.2 951.8L251.8 949.1L261.4 946.2L277.6 945.3L293.8 944.3L295.6 943.9L299.9 938.7L310.0 937.2L326.2 938.6L341.5 933.5L329.0 928.3L326.2 927.3L317.0 928.3L310.0 928.9L304.7 928.3L310.0 926.9L315.4 923.1L326.2 919.6L342.4 922.8L358.7 923.0L374.9 919.5L391.1 919.9L407.3 918.6L417.2 923.1L423.5 924.5L432.8 923.1L424.5 918.0L423.5 913.0L407.3 916.1L404.9 912.8L391.1 908.0L389.6 907.6L391.1 907.3L403.1 902.4L394.1 897.2L399.5 892.0L391.1 886.9L374.9 888.1L372.1 886.9L369.7 881.7L371.4 876.5L374.9 873.9L379.2 871.3L388.7 866.1L383.6 860.9L391.1 856.7L392.8 855.8L405.1 850.6L396.8 845.4L391.1 843.2L384.2 840.2L382.3 835.0L384.0 829.8L391.1 825.9L398.6 824.7L391.1 820.9L388.7 819.5L386.6 814.3L383.4 809.1L375.8 803.9L391.1 798.9L391.5 798.7L393.3 793.6L400.0 788.4L391.1 786.4L384.0 783.2L387.1 778.0L374.9 778.0L361.8 778.0L369.8 783.2L364.1 788.4L360.4 793.6L358.7 795.0L354.0 798.7L357.1 803.9L342.4 808.3L341.1 809.1L342.4 810.7L348.6 814.3L342.4 819.4L342.3 819.5L342.4 820.3L358.7 823.9L360.7 824.7L371.6 829.8L358.7 832.5L342.4 831.5L339.8 835.0L342.4 837.6L349.8 840.2L352.4 845.4L346.0 850.6L342.4 852.5L334.2 855.8L342.4 860.9L342.5 860.9L355.1 866.1L342.4 867.9L332.5 866.1L326.2 863.1L319.8 866.1L326.2 870.0L327.9 871.3L326.2 872.5L320.0 876.5L321.7 881.7L321.3 886.9L310.0 888.9L299.0 886.9L293.8 884.9L277.8 881.7L285.9 876.5L277.6 874.6L268.0 876.5L261.4 880.6L253.8 876.5L245.2 874.1L229.0 874.5L216.6 871.3L212.8 869.8L196.6 869.4L184.1 866.1L196.6 865.0L205.2 860.9L208.0 855.8L196.6 854.1L180.4 854.6L175.7 850.6L168.3 845.4L170.4 840.2L178.2 835.0L170.5 829.8L171.5 824.7L180.4 821.5L196.5 819.5L180.4 816.4L165.5 814.3L164.2 813.1L148.0 809.7L148.0 814.3L148.0 819.5L148.0 822.6L150.2 824.7L148.0 825.4L148.0 829.8L148.0 835.0L148.0 839.0L154.4 840.2L148.0 841.9L148.0 845.4L148.0 850.6L148.0 855.8L148.0 859.4L149.9 860.9L148.0 861.9L148.0 866.1L148.0 871.3L148.0 875.3L155.1 876.5L148.0 878.7L148.0 881.7L148.0 886.9L148.0 892.0L148.0 897.2L148.0 902.4L148.0 905.5L149.7 907.6L148.0 908.0L148.0 912.3L160.9 912.8L153.5 918.0L148.0 920.7L148.0 923.1L148.0 928.3L148.0 933.5L148.0 938.7L148.0 943.9L148.0 946.4L151.4 943.9L164.2 942.2L180.4 942.1L196.6 942.2L210.5 943.9L212.8 948.6L218.1 943.9L219.0 938.7L229.0 936.9L233.7 938.7L245.2 943.5L247.2 943.9L245.2 944.6L235.1 949.1L229.0 951.6L212.8 949.1L208.8 954.2ZM259.2 938.7L245.2 935.2L238.8 933.5L245.2 930.9L251.9 928.3L261.4 926.7L270.5 928.3L267.4 933.5L277.6 935.3L288.5 938.7L277.6 941.7L261.4 939.8ZM163.6 933.5L152.2 928.3L164.2 925.8L180.4 926.7L190.2 928.3L187.4 933.5L180.4 934.8L164.2 933.6ZM178.8 918.0L180.4 917.6L181.7 918.0L180.4 918.8ZM224.5 918.0L229.0 917.3L236.2 918.0L229.0 919.0ZM221.3 912.8L229.0 910.9L235.6 912.8L229.0 914.2ZM292.9 912.8L293.8 912.4L294.4 912.8L293.8 913.1ZM370.7 912.8L374.9 910.7L380.7 912.8L374.9 915.6ZM170.0 907.6L180.4 905.8L185.2 907.6L180.4 911.5ZM257.1 907.6L245.2 903.4L237.8 902.4L242.1 897.2L245.2 893.0L249.8 897.2L261.4 900.7L270.4 902.4L264.6 907.6L261.4 908.1ZM307.1 907.6L310.0 907.0L313.3 907.6L310.0 912.0ZM314.4 902.4L318.6 897.2L323.6 892.0L326.2 889.9L327.6 892.0L332.2 897.2L330.0 902.4L326.2 903.9ZM208.0 897.2L212.8 896.3L215.3 897.2L212.8 898.8ZM195.8 892.0L196.6 891.7L197.9 892.0L196.6 892.7ZM273.0 892.0L277.6 888.1L285.1 892.0L277.6 893.3ZM339.1 892.0L342.4 887.4L354.6 892.0L342.4 893.7ZM208.1 886.9L209.9 881.7L212.8 879.1L219.7 881.7L229.0 883.1L245.2 884.6L261.4 882.5L275.1 886.9L261.4 889.0L245.2 891.3L229.0 890.9L212.8 888.6ZM159.8 866.1L163.5 860.9L164.2 860.5L166.9 860.9L175.1 866.1L164.2 867.4ZM374.7 793.6L374.9 793.4L375.6 793.6L374.9 793.8ZM180.4 951.2L182.7 949.1L180.4 947.0L173.2 949.1ZM374.9 953.2L389.0 949.1L374.9 945.0L369.3 949.1ZM617.9 952.1L625.6 949.1L617.9 945.9L603.5 949.1ZM650.3 950.9L666.5 950.4L672.5 949.1L666.5 947.6L651.2 943.9L656.3 938.7L666.5 935.3L674.5 938.7L682.7 943.8L697.4 938.7L692.3 933.5L692.3 928.3L682.7 925.0L675.7 923.1L682.7 921.3L698.9 922.3L715.1 918.2L715.9 918.0L715.1 917.7L706.6 912.8L698.9 908.5L686.7 907.6L698.9 906.9L715.1 904.4L731.3 906.5L737.4 902.4L731.3 900.7L719.3 897.2L715.1 895.4L698.9 892.8L697.6 892.0L698.9 891.3L715.1 888.0L721.7 886.9L720.8 881.7L715.1 878.5L710.5 876.5L704.7 871.3L715.1 867.1L721.2 866.1L715.1 864.4L706.8 860.9L715.1 857.9L721.0 855.8L715.1 853.5L711.5 850.6L715.1 847.9L723.7 845.4L715.1 842.8L711.3 840.2L715.1 835.2L715.3 835.0L720.7 829.8L718.7 824.7L722.7 819.5L723.7 814.3L731.3 809.6L732.1 809.1L731.3 808.7L719.6 803.9L726.3 798.7L717.1 793.6L720.1 788.4L716.5 783.2L721.0 778.0L715.1 778.0L705.0 778.0L701.2 783.2L702.5 788.4L701.8 793.6L704.9 798.7L698.9 800.3L690.0 803.9L698.9 807.8L704.1 809.1L702.0 814.3L698.9 815.4L692.2 819.5L696.8 824.7L695.6 829.8L698.9 833.0L701.4 835.0L698.9 837.5L688.0 835.0L682.7 834.7L681.6 835.0L682.7 838.7L685.3 840.2L692.7 845.4L695.8 850.6L682.7 852.7L674.9 855.8L675.4 860.9L676.0 866.1L666.5 868.3L654.6 871.3L666.5 873.9L674.7 876.5L666.5 880.0L661.8 881.7L659.5 886.9L666.5 891.4L669.3 892.0L666.5 892.5L650.3 894.2L634.1 895.9L626.8 892.0L617.9 888.3L615.2 886.9L610.9 881.7L601.7 877.5L599.7 876.5L597.9 871.3L601.7 867.3L607.1 871.3L617.9 873.2L623.1 871.3L617.9 868.1L605.0 866.1L601.7 865.4L595.0 860.9L601.7 858.2L609.7 855.8L601.7 853.7L594.7 850.6L601.3 845.4L593.1 840.2L585.5 835.7L584.2 835.0L585.5 834.3L597.5 829.8L589.4 824.7L585.5 823.4L581.8 819.5L583.7 814.3L585.0 809.1L585.5 808.5L595.7 803.9L585.5 800.1L584.3 798.7L579.5 793.6L585.5 789.9L587.5 788.4L597.5 783.2L585.5 778.4L584.8 778.0L571.7 778.0L569.3 780.3L566.3 783.2L569.3 785.8L572.6 788.4L569.3 789.9L563.0 793.6L569.3 797.6L571.3 798.7L569.3 801.6L567.2 803.9L569.3 809.1L566.5 814.3L569.3 819.4L569.3 819.5L574.8 824.7L569.3 829.4L567.7 829.8L569.3 830.4L573.0 835.0L578.7 840.2L569.3 842.6L563.8 845.4L553.1 849.0L549.5 850.6L550.9 855.8L553.1 856.2L562.1 860.9L553.1 865.8L552.3 866.1L553.1 870.2L569.3 869.3L576.6 871.3L569.3 874.8L566.4 876.5L569.3 878.6L572.9 881.7L571.2 886.9L569.3 889.7L567.5 892.0L569.3 894.0L574.5 897.2L585.5 902.3L585.9 902.4L586.0 907.6L585.5 907.8L581.2 907.6L569.3 906.4L568.7 907.6L555.2 912.8L561.1 918.0L569.3 921.1L570.6 923.1L585.5 926.2L596.5 928.3L601.7 931.7L611.1 933.5L617.9 935.4L622.0 933.5L634.1 930.4L643.1 933.5L641.0 938.7L638.7 943.9L645.6 949.1ZM613.1 923.1L617.9 922.1L623.6 923.1L617.9 925.9ZM646.7 923.1L650.3 922.0L653.9 923.1L650.3 924.2ZM580.2 918.0L585.5 917.0L587.0 918.0L585.5 918.3ZM616.8 897.2L617.9 896.3L624.8 897.2L617.9 898.1ZM679.7 886.9L682.7 885.7L684.6 886.9L682.7 888.2ZM893.4 950.9L895.5 949.1L896.3 943.9L893.4 940.5L892.0 943.9L890.6 949.1ZM925.8 949.1L925.8 949.1L925.8 949.1L925.8 949.1ZM569.3 944.7L585.5 947.1L596.3 943.9L597.2 938.7L585.5 935.6L576.2 933.5L569.3 931.0L565.7 933.5L569.3 938.5L569.6 938.7L569.3 939.4L567.5 943.9ZM942.0 946.2L942.0 943.9L942.0 942.0L936.9 943.9ZM536.9 940.6L553.1 940.8L568.9 938.7L553.1 937.1L536.9 935.4L528.7 938.7ZM358.7 934.5L364.8 933.5L370.9 928.3L358.7 923.2L347.7 928.3L348.0 933.5ZM504.5 933.8L511.0 933.5L504.5 933.2L493.2 933.5ZM812.4 938.0L818.9 933.5L812.4 928.9L802.4 933.5ZM925.8 938.2L940.0 933.5L942.0 933.0L942.0 928.3L942.0 923.1L942.0 918.0L942.0 912.8L942.0 907.6L942.0 902.4L942.0 897.2L942.0 892.0L942.0 886.9L942.0 881.7L942.0 876.5L942.0 875.0L935.6 876.5L925.8 879.5L919.1 881.7L909.6 885.6L905.4 886.9L893.4 888.7L889.4 886.9L893.4 884.2L900.9 881.7L893.4 877.0L877.2 880.0L873.2 876.5L877.2 875.0L893.4 875.6L896.9 871.3L893.4 867.1L892.6 866.1L893.4 864.4L894.7 860.9L893.4 858.8L890.9 855.8L877.2 850.9L876.4 850.6L877.2 850.2L893.4 846.1L894.8 845.4L893.4 845.1L884.3 840.2L882.9 835.0L880.0 829.8L884.3 824.7L882.7 819.5L877.2 816.4L872.1 814.3L877.2 812.3L882.3 809.1L879.8 803.9L877.2 799.8L876.1 798.7L877.2 798.1L881.4 793.6L879.9 788.4L878.1 783.2L877.2 782.4L873.0 778.0L861.2 778.0L861.0 780.9L860.8 783.2L861.0 784.9L861.4 788.4L861.0 788.6L855.5 793.6L851.1 798.7L851.6 803.9L856.6 809.1L854.1 814.3L853.6 819.5L845.9 824.7L860.7 829.8L861.0 830.0L865.3 835.0L864.4 840.2L861.0 841.6L857.1 845.4L856.6 850.6L854.7 855.8L844.8 859.4L842.1 860.9L844.8 862.1L852.6 866.1L857.2 871.3L859.5 876.5L849.5 881.7L851.4 886.9L861.0 891.2L865.4 892.0L867.7 897.2L868.3 902.4L863.0 907.6L861.0 909.5L855.1 912.8L861.0 917.1L863.4 918.0L862.9 923.1L866.9 928.3L877.2 931.9L893.4 930.8L909.6 932.9L912.3 933.5ZM924.7 923.1L925.8 922.8L926.6 923.1L925.8 924.0ZM873.8 912.8L877.2 912.5L893.4 912.4L894.1 912.8L893.4 913.0L877.2 913.8ZM874.8 907.6L877.2 906.4L883.1 907.6L877.2 908.4ZM922.2 902.4L915.8 897.2L909.6 895.4L904.6 892.0L909.6 888.4L925.8 888.0L939.2 892.0L940.7 897.2L926.2 902.4L925.8 903.2ZM876.7 897.2L877.2 896.7L878.3 897.2L877.2 897.6ZM455.9 932.6L457.5 928.3L455.9 927.4L450.7 928.3ZM520.7 933.0L534.1 928.3L520.7 926.8L513.2 928.3ZM715.1 930.3L731.3 930.7L740.6 928.3L731.3 926.6L715.1 927.5L710.6 928.3ZM520.7 918.4L522.9 918.0L520.7 917.0L519.0 918.0ZM812.4 918.4L813.1 918.0L812.4 917.8L811.8 918.0ZM747.6 908.1L748.5 907.6L747.6 907.0L740.0 907.6ZM553.1 903.6L564.6 902.4L553.1 899.8L544.2 902.4ZM828.6 902.5L844.8 905.8L852.9 902.4L847.9 897.2L844.8 895.6L838.2 897.2L828.6 902.4L828.5 902.4ZM391.1 886.8L400.8 881.7L391.1 876.7L377.4 881.7ZM261.4 874.0L266.2 871.3L261.4 869.6L254.2 871.3ZM731.3 871.9L732.4 871.3L731.3 870.3L730.0 871.3ZM277.6 867.6L293.2 866.1L277.6 864.5L272.4 866.1ZM909.6 866.5L915.3 866.1L909.6 865.9L901.4 866.1ZM634.1 861.8L638.6 860.9L634.1 858.6L629.8 860.9ZM925.8 863.7L930.3 860.9L925.8 860.2L924.3 860.9ZM293.8 858.6L302.9 855.8L293.8 853.8L288.0 855.8ZM326.2 851.2L329.3 850.6L326.2 850.1L325.2 850.6ZM310.0 841.0L310.8 840.2L310.0 839.2L307.4 840.2ZM942.0 840.4L942.0 840.2L942.0 839.9L941.2 840.2ZM164.2 808.3L176.7 803.9L164.2 802.3L152.2 798.7L159.2 793.6L153.2 788.4L154.4 783.2L163.6 778.0L148.0 778.0L148.0 783.2L148.0 788.4L148.0 793.6L148.0 798.7L148.0 803.9L148.0 808.4ZM553.1 798.8L554.7 798.7L553.1 798.6L552.9 798.7Z" fill="#2a788e" stroke="#2a788e" stroke-width="0.6"/>
<path d="M164.2 1029.5L168.8 1026.8L164.2 1024.0L155.8 1021.6L164.2 1019.5L171.6 1016.4L164.2 1012.6L156.3 1011.3L164.2 1010.5L178.9 1006.1L180.4 1005.4L196.6 1002.7L212.8 1003.1L226.6 1000.9L212.8 999.6L197.2 995.7L212.8 992.3L223.1 990.5L229.0 987.4L233.8 985.3L245.2 982.3L255.2 980.2L245.2 977.6L234.2 975.0L245.2 973.6L261.4 974.2L277.6 974.8L279.7 975.0L277.6 975.2L263.7 980.2L261.4 983.1L257.4 985.3L261.4 986.5L277.6 987.0L283.6 985.3L288.0 980.2L293.8 976.7L300.7 980.2L310.0 985.2L311.6 985.3L321.0 990.5L326.2 993.5L329.8 995.7L338.2 1000.9L342.4 1001.9L350.6 1006.1L346.5 1011.3L348.7 1016.4L352.3 1021.6L352.7 1026.8L357.5 1032.0L358.7 1032.0L374.9 1032.0L379.2 1032.0L387.2 1026.8L374.9 1025.9L364.7 1021.6L369.1 1016.4L374.9 1012.6L378.9 1011.3L384.2 1006.1L382.1 1000.9L374.9 998.5L372.5 995.7L368.3 990.5L374.9 988.5L390.4 985.3L374.9 981.2L368.1 980.2L374.9 979.0L387.2 975.0L390.8 969.8L380.6 964.6L374.9 961.5L360.8 964.6L358.7 965.0L342.4 965.9L340.0 964.6L342.4 963.0L348.4 959.4L358.7 955.4L374.9 956.5L391.1 956.4L400.3 954.2L393.0 949.1L406.1 943.9L391.1 940.6L374.9 939.1L374.5 938.7L374.9 938.4L378.2 933.5L391.1 930.2L407.3 932.7L407.5 933.5L420.8 938.7L408.7 943.9L423.5 946.9L438.0 943.9L424.9 938.7L439.7 936.4L455.9 935.7L457.9 933.5L472.1 932.8L487.4 933.5L488.3 933.9L492.9 938.7L488.3 940.7L480.5 938.7L472.1 936.3L458.7 938.7L472.1 941.2L479.0 943.9L488.3 948.8L502.8 943.9L504.5 943.5L505.6 943.9L520.7 946.7L532.4 949.1L536.9 950.6L545.3 949.1L553.1 947.6L559.2 949.1L553.1 952.2L549.7 954.2L552.0 959.4L553.1 959.8L554.6 959.4L569.3 957.4L585.2 959.4L569.3 962.7L563.8 964.6L561.5 969.8L558.6 975.0L553.5 980.2L553.1 980.4L549.7 985.3L547.9 990.5L553.1 993.9L569.3 991.1L577.8 995.7L569.3 997.5L553.1 997.5L549.5 1000.9L553.1 1003.1L569.3 1005.8L569.8 1006.1L569.3 1007.2L566.2 1011.3L559.5 1016.4L562.7 1021.6L569.3 1026.4L569.9 1026.8L569.3 1028.0L566.7 1032.0L569.3 1032.0L585.5 1032.0L593.8 1032.0L593.1 1026.8L588.5 1021.6L601.7 1017.8L607.0 1016.4L601.7 1014.0L595.8 1011.3L601.7 1008.5L609.7 1006.1L605.4 1000.9L607.3 995.7L601.7 994.6L589.0 990.5L601.7 987.6L617.5 985.3L616.3 980.2L617.9 979.4L634.1 977.6L650.3 977.6L657.6 980.2L666.5 984.3L680.8 985.3L682.7 985.7L697.1 990.5L682.7 994.0L677.3 995.7L666.5 997.5L661.2 1000.9L666.5 1003.8L674.8 1006.1L680.0 1011.3L680.2 1016.4L682.7 1017.8L688.9 1021.6L693.0 1026.8L694.4 1032.0L698.9 1032.0L715.1 1032.0L720.0 1032.0L715.5 1026.8L723.6 1021.6L720.1 1016.4L722.1 1011.3L721.8 1006.1L715.1 1001.9L713.0 1000.9L715.1 999.7L720.4 995.7L717.7 990.5L731.3 986.1L733.7 985.3L731.3 984.5L715.1 984.6L706.3 980.2L715.1 977.0L731.3 976.1L733.4 975.0L744.6 969.8L747.6 968.6L756.7 964.6L747.6 959.6L731.3 963.0L719.6 959.4L715.1 957.2L707.7 954.2L698.9 952.1L687.9 949.1L698.9 944.0L715.1 946.3L727.5 949.1L725.3 954.2L731.3 955.4L740.2 954.2L744.7 949.1L737.2 943.9L731.3 942.5L715.1 940.9L702.1 938.7L715.1 935.7L731.3 935.5L740.5 933.5L747.6 930.7L763.8 931.2L780.0 931.3L784.2 933.5L780.0 934.2L763.8 936.4L747.6 937.0L744.5 938.7L747.6 940.0L763.8 940.4L780.0 942.9L782.5 943.9L792.5 949.1L796.2 949.8L801.1 949.1L809.2 943.9L812.4 940.0L828.2 943.9L828.6 943.9L828.9 943.9L830.9 938.7L843.3 933.5L839.9 928.3L842.1 923.1L844.8 922.5L857.0 923.1L854.2 928.3L847.9 933.5L861.0 936.6L865.8 938.7L861.0 940.1L850.8 943.9L844.8 948.3L843.0 949.1L844.8 952.2L861.0 953.4L868.8 954.2L874.7 959.4L873.9 964.6L861.0 967.7L854.0 969.8L861.0 973.2L869.2 975.0L870.7 980.2L861.0 984.0L845.9 985.3L861.0 986.8L869.7 990.5L861.0 994.4L854.8 995.7L855.6 1000.9L855.5 1006.1L861.0 1008.7L866.9 1011.3L861.0 1015.6L856.1 1016.4L853.7 1021.6L850.9 1026.8L861.0 1030.7L863.2 1032.0L875.4 1032.0L871.8 1026.8L877.2 1024.4L882.2 1021.6L893.4 1016.6L893.6 1016.4L896.3 1011.3L893.4 1010.0L877.9 1006.1L888.4 1000.9L891.7 995.7L889.3 990.5L893.4 986.8L897.6 990.5L909.6 992.2L921.3 990.5L909.6 986.6L898.4 985.3L909.6 982.7L925.8 980.8L929.9 985.3L942.0 989.4L942.0 985.7L940.9 985.3L942.0 984.4L942.0 980.2L942.0 975.0L942.0 969.8L942.0 964.6L942.0 959.4L942.0 954.2L942.0 949.1L942.0 946.2L936.9 943.9L942.0 942.0L942.0 938.7L942.0 933.5L942.0 933.0L940.0 933.5L925.8 938.2L912.3 933.5L909.6 932.9L893.4 930.8L877.2 931.9L866.9 928.3L862.9 923.1L863.4 918.0L861.0 917.1L855.1 912.8L861.0 909.5L863.0 907.6L868.3 902.4L867.7 897.2L865.4 892.0L861.0 891.2L851.4 886.9L849.5 881.7L859.5 876.5L857.2 871.3L852.6 866.1L844.8 862.1L842.1 860.9L844.8 859.4L854.7 855.8L856.6 850.6L857.1 845.4L861.0 841.6L864.4 840.2L865.3 835.0L861.0 830.0L860.7 829.8L845.9 824.7L853.6 819.5L854.1 814.3L856.6 809.1L851.6 803.9L851.1 798.7L855.5 793.6L861.0 788.6L861.4 788.4L861.0 784.9L860.8 783.2L861.0 780.9L861.2 778.0L861.0 778.0L844.8 778.0L834.8 778.0L844.8 780.7L847.4 783.2L844.8 785.2L839.7 788.4L844.8 792.3L845.7 793.6L844.8 794.1L835.0 798.7L833.2 803.9L828.6 806.7L822.7 809.1L828.6 811.4L835.9 814.3L835.4 819.5L828.6 824.5L828.4 824.7L827.7 829.8L824.8 835.0L828.6 838.9L830.1 840.2L828.6 840.7L816.3 845.4L821.0 850.6L817.4 855.8L828.0 860.9L816.8 866.1L824.9 871.3L815.5 876.5L812.4 878.5L805.6 881.7L812.4 884.3L823.3 886.9L813.6 892.0L812.4 892.7L796.2 892.9L795.5 892.0L780.0 889.1L773.2 886.9L763.8 882.7L752.4 881.7L747.6 880.9L740.9 876.5L747.6 871.9L763.8 875.7L773.2 871.3L763.8 869.3L748.0 866.1L752.4 860.9L763.8 856.6L766.1 855.8L763.8 854.7L748.0 850.6L750.6 845.4L749.7 840.2L747.6 838.8L740.1 835.0L745.9 829.8L747.6 829.1L753.7 824.7L747.6 820.7L745.1 819.5L747.6 815.5L748.3 814.3L747.6 813.3L745.6 809.1L747.6 805.6L748.7 803.9L747.6 803.4L739.8 798.7L736.0 793.6L747.3 788.4L733.6 783.2L736.7 778.0L731.3 778.0L721.0 778.0L716.5 783.2L720.1 788.4L717.1 793.6L726.3 798.7L719.6 803.9L731.3 808.7L732.1 809.1L731.3 809.6L723.7 814.3L722.7 819.5L718.7 824.7L720.7 829.8L715.3 835.0L715.1 835.2L711.3 840.2L715.1 842.8L723.7 845.4L715.1 847.9L711.5 850.6L715.1 853.5L721.0 855.8L715.1 857.9L706.8 860.9L715.1 864.4L721.2 866.1L715.1 867.1L704.7 871.3L710.5 876.5L715.1 878.5L720.8 881.7L721.7 886.9L715.1 888.0L698.9 891.3L697.6 892.0L698.9 892.8L715.1 895.4L719.3 897.2L731.3 900.7L737.4 902.4L731.3 906.5L715.1 904.4L698.9 906.9L686.7 907.6L698.9 908.5L706.6 912.8L715.1 917.7L715.9 918.0L715.1 918.2L698.9 922.3L682.7 921.3L675.7 923.1L682.7 925.0L692.3 928.3L692.3 933.5L697.4 938.7L682.7 943.8L674.5 938.7L666.5 935.3L656.3 938.7L651.2 943.9L666.5 947.6L672.5 949.1L666.5 950.4L650.3 950.9L645.6 949.1L638.7 943.9L641.0 938.7L643.1 933.5L634.1 930.4L622.0 933.5L617.9 935.4L611.1 933.5L601.7 931.7L596.5 928.3L585.5 926.2L570.6 923.1L569.3 921.1L561.1 918.0L555.2 912.8L568.7 907.6L569.3 906.4L581.2 907.6L585.5 907.8L586.0 907.6L585.9 902.4L585.5 902.3L574.5 897.2L569.3 894.0L567.5 892.0L569.3 889.7L571.2 886.9L572.9 881.7L569.3 878.6L566.4 876.5L569.3 874.8L576.6 871.3L569.3 869.3L553.1 870.2L552.3 866.1L553.1 865.8L562.1 860.9L553.1 856.2L550.9 855.8L549.5 850.6L553.1 849.0L563.8 845.4L569.3 842.6L578.7 840.2L573.0 835.0L569.3 830.4L567.7 829.8L569.3 829.4L574.8 824.7L569.3 819.5L569.3 819.4L566.5 814.3L569.3 809.1L567.2 803.9L569.3 801.6L571.3 798.7L569.3 797.6L563.0 793.6L569.3 789.9L572.6 788.4L569.3 785.8L566.3 783.2L569.3 780.3L571.7 778.0L569.3 778.0L553.1 778.0L536.9 778.0L535.6 778.0L531.4 783.2L536.9 786.2L551.9 783.2L553.1 782.2L553.4 783.2L554.9 788.4L553.1 790.6L546.6 793.6L540.5 798.7L544.6 803.9L542.8 809.1L553.1 812.4L554.3 814.3L553.1 814.9L541.4 819.5L536.9 822.0L528.8 824.7L528.8 829.8L536.9 831.7L547.3 835.0L536.9 838.0L528.9 840.2L536.9 844.4L540.8 845.4L538.1 850.6L536.9 851.3L529.2 850.6L520.7 850.0L517.9 850.6L520.7 852.6L524.0 855.8L520.7 856.7L509.7 860.9L520.7 864.5L532.3 866.1L520.7 868.1L509.0 871.3L520.7 873.6L536.9 875.3L546.7 876.5L542.1 881.7L536.9 884.5L520.7 884.1L504.5 882.9L501.0 886.9L504.5 891.0L506.4 892.0L504.5 893.0L502.0 892.0L488.3 890.6L480.6 892.0L472.1 895.4L457.8 892.0L455.9 891.8L453.0 892.0L439.7 893.5L436.9 892.0L439.7 889.5L442.7 886.9L455.9 883.5L463.5 881.7L470.2 876.5L469.1 871.3L455.9 870.2L440.0 871.3L439.7 871.4L439.6 871.3L439.7 871.2L442.1 866.1L444.3 860.9L441.5 855.8L443.8 850.6L439.7 848.2L433.8 850.6L423.5 854.1L418.3 850.6L415.7 845.4L419.4 840.2L423.5 837.5L427.9 835.0L423.5 833.8L412.4 829.8L420.1 824.7L423.5 820.7L425.2 819.5L423.5 816.5L421.6 814.3L418.0 809.1L408.8 803.9L407.3 802.0L405.2 798.7L405.8 793.6L407.3 792.8L423.5 791.3L427.7 788.4L423.5 786.3L411.6 783.2L423.0 778.0L407.3 778.0L391.1 778.0L387.1 778.0L384.0 783.2L391.1 786.4L400.0 788.4L393.3 793.6L391.5 798.7L391.1 798.9L375.8 803.9L383.4 809.1L386.6 814.3L388.7 819.5L391.1 820.9L398.6 824.7L391.1 825.9L384.0 829.8L382.3 835.0L384.2 840.2L391.1 843.2L396.8 845.4L405.1 850.6L392.8 855.8L391.1 856.7L383.6 860.9L388.7 866.1L379.2 871.3L374.9 873.9L371.4 876.5L369.7 881.7L372.1 886.9L374.9 888.1L391.1 886.9L399.5 892.0L394.1 897.2L403.1 902.4L391.1 907.3L389.6 907.6L391.1 908.0L404.9 912.8L407.3 916.1L423.5 913.0L424.5 918.0L432.8 923.1L423.5 924.5L417.2 923.1L407.3 918.6L391.1 919.9L374.9 919.5L358.7 923.0L342.4 922.8L326.2 919.6L315.4 923.1L310.0 926.9L304.7 928.3L310.0 928.9L317.0 928.3L326.2 927.3L329.0 928.3L341.5 933.5L326.2 938.6L310.0 937.2L299.9 938.7L295.6 943.9L293.8 944.3L277.6 945.3L261.4 946.2L251.8 949.1L245.2 951.8L235.7 954.2L229.0 955.8L212.8 955.9L208.8 954.2L212.8 949.1L229.0 951.6L235.1 949.1L245.2 944.6L247.2 943.9L245.2 943.5L233.7 938.7L229.0 936.9L219.0 938.7L218.1 943.9L212.8 948.6L210.5 943.9L196.6 942.2L180.4 942.1L164.2 942.2L151.4 943.9L148.0 946.4L148.0 949.1L148.0 954.2L148.0 959.3L148.5 959.4L148.0 959.7L148.0 964.6L148.0 969.7L157.2 964.6L164.2 963.1L166.6 964.6L164.4 969.8L164.2 969.8L148.0 969.8L148.0 975.0L148.0 980.2L148.0 985.3L148.0 990.5L148.0 995.7L148.0 1000.9L148.0 1006.1L148.0 1011.3L148.0 1016.4L148.0 1021.6L148.0 1026.0L150.2 1026.8L148.0 1028.7L148.0 1032.0L151.6 1032.0ZM687.3 1011.3L689.1 1006.1L698.9 1003.5L705.9 1006.1L704.5 1011.3L698.9 1013.8ZM584.3 1006.1L585.5 1005.0L588.4 1006.1L585.5 1006.6ZM176.8 990.5L180.4 988.6L184.1 990.5L180.4 991.9ZM352.6 985.3L358.7 982.8L362.8 985.3L358.7 986.7ZM562.5 985.3L569.3 983.9L573.6 985.3L569.3 989.5ZM337.5 980.2L342.4 979.2L346.4 980.2L342.4 981.7ZM601.2 980.2L601.7 980.0L602.0 980.2L601.7 980.4ZM343.3 975.0L358.7 972.2L364.4 975.0L358.7 977.9ZM585.3 975.0L585.5 974.9L586.4 975.0L585.5 975.1ZM696.9 975.0L698.9 973.4L701.7 975.0L698.9 975.7ZM291.1 969.8L293.8 967.9L310.0 969.2L316.5 969.8L310.0 970.8L293.8 971.9ZM664.3 964.6L663.3 959.4L666.5 957.2L674.3 959.4L668.9 964.6L666.5 965.1ZM691.3 964.6L698.9 961.6L704.9 964.6L698.9 968.3ZM645.7 959.4L650.3 957.8L653.3 959.4L650.3 961.2ZM924.0 959.4L925.8 958.6L927.6 959.4L925.8 961.1ZM163.6 954.2L164.2 953.9L165.3 954.2L164.2 954.5ZM173.2 949.1L180.4 947.0L182.7 949.1L180.4 951.2ZM369.3 949.1L374.9 945.0L389.0 949.1L374.9 953.2ZM603.5 949.1L617.9 945.9L625.6 949.1L617.9 952.1ZM890.6 949.1L892.0 943.9L893.4 940.5L896.3 943.9L895.5 949.1L893.4 950.9ZM925.8 949.1L925.8 949.1L925.8 949.1L925.8 949.1ZM567.5 943.9L569.3 939.4L569.6 938.7L569.3 938.5L565.7 933.5L569.3 931.0L576.2 933.5L585.5 935.6L597.2 938.7L596.3 943.9L585.5 947.1L569.3 944.7ZM528.7 938.7L536.9 935.4L553.1 937.1L568.9 938.7L553.1 940.8L536.9 940.6ZM348.0 933.5L347.7 928.3L358.7 923.2L370.9 928.3L364.8 933.5L358.7 934.5ZM493.2 933.5L504.5 933.2L511.0 933.5L504.5 933.8ZM802.4 933.5L812.4 928.9L818.9 933.5L812.4 938.0ZM450.7 928.3L455.9 927.4L457.5 928.3L455.9 932.6ZM471.2 928.3L472.1 927.9L474.6 928.3L472.1 928.6ZM513.2 928.3L520.7 926.8L534.1 928.3L520.7 933.0ZM710.6 928.3L715.1 927.5L731.3 926.6L740.6 928.3L731.3 930.7L715.1 930.3ZM519.0 918.0L520.7 917.0L522.9 918.0L520.7 918.4ZM811.8 918.0L812.4 917.8L813.1 918.0L812.4 918.4ZM795.5 912.8L796.2 912.6L796.9 912.8L796.2 913.0ZM740.0 907.6L747.6 907.0L748.5 907.6L747.6 908.1ZM766.3 907.6L780.0 906.0L781.9 907.6L780.0 908.3ZM436.0 902.4L439.7 900.9L455.9 901.9L455.9 902.4L455.9 902.5L439.7 903.5ZM544.2 902.4L553.1 899.8L564.6 902.4L553.1 903.6ZM828.5 902.4L828.6 902.4L838.2 897.2L844.8 895.6L847.9 897.2L852.9 902.4L844.8 905.8L828.6 902.5ZM743.6 892.0L743.9 886.9L747.6 882.7L752.5 886.9L754.6 892.0L747.6 892.8ZM377.4 881.7L391.1 876.7L400.8 881.7L391.1 886.8ZM421.7 881.7L423.5 881.2L426.1 881.7L423.5 882.7ZM730.0 871.3L731.3 870.3L732.4 871.3L731.3 871.9ZM406.1 819.5L407.3 818.6L415.9 819.5L407.3 819.9ZM552.9 798.7L553.1 798.6L554.7 798.7L553.1 798.8ZM391.1 1025.8L393.0 1021.6L391.1 1017.7L387.8 1021.6ZM326.2 1016.7L327.2 1016.4L326.2 1016.3L325.5 1016.4ZM617.9 1012.9L621.9 1011.3L617.9 1008.8L610.6 1011.3ZM261.4 995.8L261.7 995.7L261.4 995.6L261.0 995.7ZM925.8 996.2L942.0 997.7L942.0 995.7L942.0 994.3L925.8 994.9L925.3 995.7ZM828.6 990.9L844.8 992.8L849.8 990.5L844.8 985.7L828.6 988.7L827.6 990.5ZM407.3 987.7L410.7 985.3L407.3 984.2L393.4 985.3ZM423.5 982.7L429.5 980.2L423.5 977.1L415.6 980.2ZM828.6 971.2L834.1 969.8L828.6 968.7L822.4 969.8ZM488.3 959.6L488.9 959.4L494.2 954.2L488.3 949.3L483.9 954.2L487.9 959.4ZM796.2 959.9L796.7 959.4L796.2 959.2L795.4 959.4ZM439.7 954.6L440.2 954.2L439.7 954.0L424.6 954.2ZM520.7 957.6L530.7 954.2L520.7 951.2L513.5 954.2ZM763.8 955.2L771.1 954.2L763.8 951.7L753.5 954.2ZM261.4 939.8L277.6 941.7L288.5 938.7L277.6 935.3L267.4 933.5L270.5 928.3L261.4 926.7L251.9 928.3L245.2 930.9L238.8 933.5L245.2 935.2L259.2 938.7ZM164.2 933.6L180.4 934.8L187.4 933.5L190.2 928.3L180.4 926.7L164.2 925.8L152.2 928.3L163.6 933.5ZM617.9 925.9L623.6 923.1L617.9 922.1L613.1 923.1ZM925.8 924.0L926.6 923.1L925.8 922.8L924.7 923.1ZM153.5 918.0L160.9 912.8L148.0 912.3L148.0 912.8L148.0 918.0L148.0 920.7ZM585.5 918.3L587.0 918.0L585.5 917.0L580.2 918.0ZM229.0 914.2L235.6 912.8L229.0 910.9L221.3 912.8ZM374.9 915.6L380.7 912.8L374.9 910.7L370.7 912.8ZM877.2 913.8L893.4 913.0L894.1 912.8L893.4 912.4L877.2 912.5L873.8 912.8ZM180.4 911.5L185.2 907.6L180.4 905.8L170.0 907.6ZM310.0 912.0L313.3 907.6L310.0 907.0L307.1 907.6ZM342.4 893.7L354.6 892.0L342.4 887.4L339.1 892.0ZM155.1 876.5L148.0 875.3L148.0 876.5L148.0 878.7ZM504.5 880.7L508.1 876.5L504.5 874.0L494.1 876.5ZM488.3 873.2L492.1 871.3L488.3 869.8L477.3 871.3ZM149.9 860.9L148.0 859.4L148.0 860.9L148.0 861.9ZM439.7 830.9L441.3 829.8L439.7 828.9L437.0 829.8ZM374.9 793.8L375.6 793.6L374.9 793.4L374.7 793.6Z" fill="#22a884" stroke="#22a884" stroke-width="0.6"/>
<path d="M164.2 1032.0L180.4 1032.0L196.6 1032.0L198.7 1032.0L206.3 1026.8L212.8 1024.8L228.0 1026.8L229.0 1029.6L233.1 1026.8L245.2 1025.0L248.9 1026.8L261.4 1029.1L275.1 1026.8L261.4 1024.3L250.5 1021.6L259.7 1016.4L259.3 1011.3L261.4 1010.9L262.2 1011.3L277.6 1014.2L288.1 1016.4L293.8 1021.5L294.1 1021.6L310.0 1024.1L319.4 1026.8L310.0 1030.3L304.3 1032.0L310.0 1032.0L326.2 1032.0L342.4 1032.0L357.5 1032.0L352.7 1026.8L352.3 1021.6L348.7 1016.4L346.5 1011.3L350.6 1006.1L342.4 1001.9L338.2 1000.9L329.8 995.7L326.2 993.5L321.0 990.5L311.6 985.3L310.0 985.2L300.7 980.2L293.8 976.7L288.0 980.2L283.6 985.3L277.6 987.0L261.4 986.5L257.4 985.3L261.4 983.1L263.7 980.2L277.6 975.2L279.7 975.0L277.6 974.8L261.4 974.2L245.2 973.6L234.2 975.0L245.2 977.6L255.2 980.2L245.2 982.3L233.8 985.3L229.0 987.4L223.1 990.5L212.8 992.3L197.2 995.7L212.8 999.6L226.6 1000.9L212.8 1003.1L196.6 1002.7L180.4 1005.4L178.9 1006.1L164.2 1010.5L156.3 1011.3L164.2 1012.6L171.6 1016.4L164.2 1019.5L155.8 1021.6L164.2 1024.0L168.8 1026.8L164.2 1029.5L151.6 1032.0ZM325.5 1016.4L326.2 1016.3L327.2 1016.4L326.2 1016.7ZM261.0 995.7L261.4 995.6L261.7 995.7L261.4 995.8ZM150.2 1026.8L148.0 1026.0L148.0 1026.8L148.0 1028.7ZM277.6 1032.0L278.7 1032.0L277.6 1029.9L276.1 1032.0ZM601.7 1032.0L617.9 1032.0L622.1 1032.0L626.6 1026.8L621.4 1021.6L620.8 1016.4L632.6 1011.3L634.1 1010.5L650.3 1010.2L655.7 1011.3L658.1 1016.4L658.5 1021.6L666.5 1024.5L682.7 1025.9L684.0 1026.8L682.7 1029.2L671.7 1032.0L682.7 1032.0L694.4 1032.0L693.0 1026.8L688.9 1021.6L682.7 1017.8L680.2 1016.4L680.0 1011.3L674.8 1006.1L666.5 1003.8L661.2 1000.9L666.5 997.5L677.3 995.7L682.7 994.0L697.1 990.5L682.7 985.7L680.8 985.3L666.5 984.3L657.6 980.2L650.3 977.6L634.1 977.6L617.9 979.4L616.3 980.2L617.5 985.3L601.7 987.6L589.0 990.5L601.7 994.6L607.3 995.7L605.4 1000.9L609.7 1006.1L601.7 1008.5L595.8 1011.3L601.7 1014.0L607.0 1016.4L601.7 1017.8L588.5 1021.6L593.1 1026.8L593.8 1032.0ZM600.2 1021.6L601.7 1021.2L608.3 1021.6L601.7 1022.6ZM610.6 1011.3L617.9 1008.8L621.9 1011.3L617.9 1012.9ZM877.2 1032.0L890.8 1032.0L893.4 1030.9L900.8 1026.8L907.1 1021.6L909.6 1017.3L925.8 1020.4L927.0 1021.6L942.0 1025.9L942.0 1021.6L942.0 1016.4L942.0 1011.3L942.0 1006.1L942.0 1000.9L942.0 997.7L925.8 996.2L925.3 995.7L925.8 994.9L942.0 994.3L942.0 990.5L942.0 989.4L929.9 985.3L925.8 980.8L909.6 982.7L898.4 985.3L909.6 986.6L921.3 990.5L909.6 992.2L897.6 990.5L893.4 986.8L889.3 990.5L891.7 995.7L888.4 1000.9L877.9 1006.1L893.4 1010.0L896.3 1011.3L893.6 1016.4L893.4 1016.6L882.2 1021.6L877.2 1024.4L871.8 1026.8L875.4 1032.0ZM942.0 1032.0L942.0 1028.5L932.7 1032.0ZM277.6 1024.6L292.1 1021.6L277.6 1021.0L274.6 1021.6ZM698.9 1013.8L704.5 1011.3L705.9 1006.1L698.9 1003.5L689.1 1006.1L687.3 1011.3ZM585.5 1006.6L588.4 1006.1L585.5 1005.0L584.3 1006.1ZM180.4 991.9L184.1 990.5L180.4 988.6L176.8 990.5ZM342.4 981.7L346.4 980.2L342.4 979.2L337.5 980.2ZM585.5 975.1L586.4 975.0L585.5 974.9L585.3 975.0ZM293.8 971.9L310.0 970.8L316.5 969.8L310.0 969.2L293.8 967.9L291.1 969.8ZM650.3 961.2L653.3 959.4L650.3 957.8L645.7 959.4ZM472.1 928.6L474.6 928.3L472.1 927.9L471.2 928.3ZM796.2 913.0L796.9 912.8L796.2 912.6L795.5 912.8ZM780.0 908.3L781.9 907.6L780.0 906.0L766.3 907.6ZM439.7 903.5L455.9 902.5L455.9 902.4L455.9 901.9L439.7 900.9L436.0 902.4ZM439.7 893.5L453.0 892.0L455.9 891.8L457.8 892.0L472.1 895.4L480.6 892.0L488.3 890.6L502.0 892.0L504.5 893.0L506.4 892.0L504.5 891.0L501.0 886.9L504.5 882.9L520.7 884.1L536.9 884.5L542.1 881.7L546.7 876.5L536.9 875.3L520.7 873.6L509.0 871.3L520.7 868.1L532.3 866.1L520.7 864.5L509.7 860.9L520.7 856.7L524.0 855.8L520.7 852.6L517.9 850.6L520.7 850.0L529.2 850.6L536.9 851.3L538.1 850.6L540.8 845.4L536.9 844.4L528.9 840.2L536.9 838.0L547.3 835.0L536.9 831.7L528.8 829.8L528.8 824.7L536.9 822.0L541.4 819.5L553.1 814.9L554.3 814.3L553.1 812.4L542.8 809.1L544.6 803.9L540.5 798.7L546.6 793.6L553.1 790.6L554.9 788.4L553.4 783.2L553.1 782.2L551.9 783.2L536.9 786.2L531.4 783.2L535.6 778.0L523.1 778.0L520.7 779.7L515.0 783.2L508.4 788.4L507.8 793.6L504.5 797.5L500.1 798.7L488.3 800.1L478.4 803.9L472.1 805.1L461.9 803.9L459.0 798.7L465.8 793.6L472.1 789.2L476.8 788.4L472.1 787.8L464.4 788.4L455.9 788.9L439.7 791.3L439.0 788.4L437.1 783.2L439.7 781.5L445.9 778.0L439.7 778.0L423.5 778.0L423.0 778.0L411.6 783.2L423.5 786.3L427.7 788.4L423.5 791.3L407.3 792.8L405.8 793.6L405.2 798.7L407.3 802.0L408.8 803.9L418.0 809.1L421.6 814.3L423.5 816.5L425.2 819.5L423.5 820.7L420.1 824.7L412.4 829.8L423.5 833.8L427.9 835.0L423.5 837.5L419.4 840.2L415.7 845.4L418.3 850.6L423.5 854.1L433.8 850.6L439.7 848.2L443.8 850.6L441.5 855.8L444.3 860.9L442.1 866.1L439.7 871.2L439.6 871.3L439.7 871.4L440.0 871.3L455.9 870.2L469.1 871.3L470.2 876.5L463.5 881.7L455.9 883.5L442.7 886.9L439.7 889.5L436.9 892.0ZM494.1 876.5L504.5 874.0L508.1 876.5L504.5 880.7ZM477.3 871.3L488.3 869.8L492.1 871.3L488.3 873.2ZM469.6 845.4L472.1 844.7L488.3 843.9L502.8 845.4L488.3 846.8L472.1 847.2ZM437.0 829.8L439.7 828.9L441.3 829.8L439.7 830.9ZM451.8 829.8L453.1 824.7L455.9 819.8L459.8 824.7L465.3 829.8L455.9 831.7ZM483.1 829.8L488.3 827.4L496.3 829.8L488.3 831.4ZM471.9 814.3L472.1 814.3L484.5 809.1L488.3 807.0L500.0 803.9L504.5 800.1L520.7 800.3L523.2 803.9L520.7 806.4L507.3 809.1L507.4 814.3L504.5 815.2L488.3 814.5L472.1 814.3ZM747.6 892.8L754.6 892.0L752.5 886.9L747.6 882.7L743.9 886.9L743.6 892.0ZM796.2 892.9L812.4 892.7L813.6 892.0L823.3 886.9L812.4 884.3L805.6 881.7L812.4 878.5L815.5 876.5L824.9 871.3L816.8 866.1L828.0 860.9L817.4 855.8L821.0 850.6L816.3 845.4L828.6 840.7L830.1 840.2L828.6 838.9L824.8 835.0L827.7 829.8L828.4 824.7L828.6 824.5L835.4 819.5L835.9 814.3L828.6 811.4L822.7 809.1L828.6 806.7L833.2 803.9L835.0 798.7L844.8 794.1L845.7 793.6L844.8 792.3L839.7 788.4L844.8 785.2L847.4 783.2L844.8 780.7L834.8 778.0L828.6 778.0L816.9 778.0L820.3 783.2L815.6 788.4L812.9 793.6L812.4 794.0L809.1 798.7L812.4 799.7L818.2 803.9L812.4 806.0L803.0 803.9L796.2 801.7L782.6 803.9L780.0 804.8L767.4 803.9L780.0 802.1L783.4 798.7L780.0 797.3L769.6 793.6L763.8 792.8L756.1 788.4L763.8 783.5L765.3 783.2L763.8 782.3L757.3 778.0L747.6 778.0L736.7 778.0L733.6 783.2L747.3 788.4L736.0 793.6L739.8 798.7L747.6 803.4L748.7 803.9L747.6 805.6L745.6 809.1L747.6 813.3L748.3 814.3L747.6 815.5L745.1 819.5L747.6 820.7L753.7 824.7L747.6 829.1L745.9 829.8L740.1 835.0L747.6 838.8L749.7 840.2L750.6 845.4L748.0 850.6L763.8 854.7L766.1 855.8L763.8 856.6L752.4 860.9L748.0 866.1L763.8 869.3L773.2 871.3L763.8 875.7L747.6 871.9L740.9 876.5L747.6 880.9L752.4 881.7L763.8 882.7L773.2 886.9L780.0 889.1L795.5 892.0ZM810.0 840.2L812.4 839.2L814.5 840.2L812.4 840.9ZM787.3 835.0L796.2 833.5L800.5 835.0L796.2 836.1ZM771.8 824.7L775.1 819.5L780.0 816.6L790.6 819.5L791.4 824.7L780.0 828.2ZM795.1 809.1L796.2 808.8L796.7 809.1L796.2 810.5ZM423.5 882.7L426.1 881.7L423.5 881.2L421.7 881.7ZM407.3 819.9L415.9 819.5L407.3 818.6L406.1 819.5Z" fill="#7ad151" stroke="#7ad151" stroke-width="0.6"/>
<path d="M212.8 1032.0L229.0 1032.0L245.2 1032.0L261.4 1032.0L276.1 1032.0L277.6 1029.9L278.7 1032.0L293.8 1032.0L304.3 1032.0L310.0 1030.3L319.4 1026.8L310.0 1024.1L294.1 1021.6L293.8 1021.5L288.1 1016.4L277.6 1014.2L262.2 1011.3L261.4 1010.9L259.3 1011.3L259.7 1016.4L250.5 1021.6L261.4 1024.3L275.1 1026.8L261.4 1029.1L248.9 1026.8L245.2 1025.0L233.1 1026.8L229.0 1029.6L228.0 1026.8L212.8 1024.8L206.3 1026.8L198.7 1032.0ZM274.6 1021.6L277.6 1021.0L292.1 1021.6L277.6 1024.6ZM634.1 1032.0L650.3 1032.0L666.5 1032.0L671.7 1032.0L682.7 1029.2L684.0 1026.8L682.7 1025.9L666.5 1024.5L658.5 1021.6L658.1 1016.4L655.7 1011.3L650.3 1010.2L634.1 1010.5L632.6 1011.3L620.8 1016.4L621.4 1021.6L626.6 1026.8L622.1 1032.0ZM893.4 1032.0L909.6 1032.0L925.8 1032.0L932.7 1032.0L942.0 1028.5L942.0 1026.8L942.0 1025.9L927.0 1021.6L925.8 1020.4L909.6 1017.3L907.1 1021.6L900.8 1026.8L893.4 1030.9L890.8 1032.0ZM601.7 1022.6L608.3 1021.6L601.7 1021.2L600.2 1021.6ZM472.1 847.2L488.3 846.8L502.8 845.4L488.3 843.9L472.1 844.7L469.6 845.4ZM812.4 840.9L814.5 840.2L812.4 839.2L810.0 840.2ZM796.2 836.1L800.5 835.0L796.2 833.5L787.3 835.0ZM455.9 831.7L465.3 829.8L459.8 824.7L455.9 819.8L453.1 824.7L451.8 829.8ZM488.3 831.4L496.3 829.8L488.3 827.4L483.1 829.8ZM780.0 828.2L791.4 824.7L790.6 819.5L780.0 816.6L775.1 819.5L771.8 824.7ZM472.1 814.3L488.3 814.5L504.5 815.2L507.4 814.3L507.3 809.1L520.7 806.4L523.2 803.9L520.7 800.3L504.5 800.1L500.0 803.9L488.3 807.0L484.5 809.1L472.1 814.3L471.9 814.3ZM796.2 810.5L796.7 809.1L796.2 808.8L795.1 809.1ZM472.1 805.1L478.4 803.9L488.3 800.1L500.1 798.7L504.5 797.5L507.8 793.6L508.4 788.4L515.0 783.2L520.7 779.7L523.1 778.0L520.7 778.0L504.5 778.0L488.3 778.0L472.1 778.0L455.9 778.0L445.9 778.0L439.7 781.5L437.1 783.2L439.0 788.4L439.7 791.3L455.9 788.9L464.4 788.4L472.1 787.8L476.8 788.4L472.1 789.2L465.8 793.6L459.0 798.7L461.9 803.9ZM780.0 804.8L782.6 803.9L796.2 801.7L803.0 803.9L812.4 806.0L818.2 803.9L812.4 799.7L809.1 798.7L812.4 794.0L812.9 793.6L815.6 788.4L820.3 783.2L816.9 778.0L812.4 778.0L796.2 778.0L780.0 778.0L763.8 778.0L757.3 778.0L763.8 782.3L765.3 783.2L763.8 783.5L756.1 788.4L763.8 792.8L769.6 793.6L780.0 797.3L783.4 798.7L780.0 802.1L767.4 803.9Z" fill="#fde725" stroke="#fde725" stroke-width="0.6"/>
<path d="M435.4 1032.0L439.7 1030.6L450.1 1026.8L455.9 1024.0L468.6 1021.6L472.1 1020.8L488.3 1018.0L496.6 1021.6L504.5 1026.1L506.2 1026.8L515.4 1032.0M754.1 1032.0L763.8 1028.8L774.3 1026.8L775.2 1021.6L780.0 1019.0L796.2 1017.4L802.0 1016.4L812.4 1015.4L814.6 1016.4L812.4 1017.9L804.0 1021.6L796.6 1026.8L805.0 1032.0M942.0 830.3L940.6 829.8L942.0 829.5M942.0 805.9L934.1 809.1L932.7 814.3L925.8 818.5L909.6 815.5L907.5 814.3L909.6 813.1L917.7 809.1L909.6 807.6L897.6 803.9L893.4 802.3L889.7 798.7L893.4 795.6L904.6 793.6L897.7 788.4L893.4 784.3L892.4 783.2L890.7 778.0M198.5 778.0L196.6 778.2L195.3 778.0M268.2 778.0L277.6 781.7L284.7 778.0M303.0 778.0L310.0 782.2L312.5 783.2L316.3 788.4L310.0 792.2L295.5 793.6L300.3 798.7L300.2 803.9L293.8 806.1L289.6 803.9L277.6 801.4L272.6 803.9L267.5 809.1L265.2 814.3L261.4 815.6L245.2 817.3L234.7 814.3L239.8 809.1L243.0 803.9L245.2 802.8L246.4 798.7L245.2 797.3L229.0 797.4L212.8 798.3L208.2 793.6L212.8 791.0L229.0 790.1L232.6 788.4L237.1 783.2L229.0 779.9L219.1 778.0M330.7 778.0L326.2 780.7L316.9 778.0M654.6 778.0L660.1 783.2L666.5 785.6L681.1 783.2L682.7 782.8L683.3 783.2L684.7 788.4L685.5 793.6L682.7 795.5L675.8 798.7L666.5 801.1L660.4 798.7L666.5 793.9L668.9 793.6L666.5 793.1L650.3 793.4L649.2 793.6L636.3 798.7L650.3 801.3L659.8 803.9L665.1 809.1L660.0 814.3L666.5 817.0L668.5 819.5L671.4 824.7L666.5 827.6L659.8 829.8L650.3 831.2L634.1 829.9L633.4 829.8L634.1 829.6L648.6 824.7L647.0 819.5L634.1 816.1L629.8 814.3L634.1 812.1L641.2 809.1L634.1 806.6L620.5 809.1L617.9 809.6L616.9 809.1L612.2 803.9L613.8 798.7L613.2 793.6L617.9 790.8L623.4 788.4L617.9 786.6L613.4 783.2L617.9 779.7L622.1 778.0M934.0 778.0L936.1 783.2L935.9 788.4L936.3 793.6L942.0 796.6M472.1 1027.6L473.6 1026.8L472.1 1024.4L469.3 1026.8ZM520.7 1023.0L515.7 1021.6L520.7 1017.0L522.9 1021.6ZM472.1 1014.5L464.3 1011.3L472.1 1006.5L474.3 1006.1L488.3 1003.8L497.4 1006.1L488.3 1008.0L480.7 1011.3ZM326.2 841.7L323.9 840.2L326.2 838.2L329.1 840.2ZM909.6 840.3L908.2 840.2L909.6 840.1L910.2 840.2ZM229.0 835.9L226.8 835.0L229.0 834.2L245.2 831.8L254.0 835.0L245.2 836.8ZM277.6 836.9L272.9 835.0L261.4 831.0L257.1 829.8L261.4 828.4L273.0 824.7L270.2 819.5L277.6 817.3L287.8 819.5L293.8 821.3L301.1 824.7L295.3 829.8L293.8 831.0L284.4 835.0ZM666.5 837.8L662.8 835.0L666.5 832.2L668.8 835.0ZM682.7 830.4L675.3 829.8L682.7 828.7L684.1 829.8ZM229.0 824.7L228.9 824.7L229.0 824.6L245.2 822.4L252.0 824.7L245.2 826.8L229.0 824.7M326.2 826.8L316.6 824.7L326.2 821.8L331.3 824.7ZM925.8 825.1L921.7 824.7L925.8 822.6L927.0 824.7ZM617.9 823.2L613.3 819.5L617.9 819.0L620.1 819.5ZM310.0 815.2L306.0 814.3L310.0 813.0L314.4 814.3ZM196.6 810.5L191.7 809.1L196.6 807.1L212.8 808.1L218.6 809.1L212.8 810.8L196.6 810.5M326.2 809.8L324.2 809.1L315.4 803.9L326.2 801.8L329.4 803.9L327.0 809.1ZM196.6 799.3L195.1 798.7L196.6 798.4L207.6 798.7L196.6 799.3M909.6 799.0L910.2 798.7L909.6 797.9L908.7 798.7ZM212.8 783.4L212.4 783.2L212.8 782.7L213.4 783.2ZM406.7 1032.0L407.3 1031.7L420.9 1026.8L407.3 1025.2L402.4 1021.6L404.4 1016.4L407.3 1015.3L413.5 1016.4L420.6 1021.6L423.5 1025.4L425.3 1021.6L433.4 1016.4L423.5 1012.7L421.0 1011.3L423.5 1009.1L426.4 1006.1L432.1 1000.9L432.5 995.7L439.7 991.2L442.1 990.5L455.9 987.7L472.1 987.4L488.3 987.7L504.5 987.9L508.5 985.3L520.7 980.2L531.2 985.3L524.9 990.5L531.9 995.7L520.7 1000.2L504.5 1000.5L503.4 1000.9L504.5 1001.2L520.7 1001.2L532.7 1006.1L536.9 1008.5L544.0 1011.3L542.8 1016.4L538.9 1021.6L548.4 1026.8L543.8 1032.0M737.2 1032.0L742.7 1026.8L742.5 1021.6L747.6 1019.2L757.4 1016.4L763.8 1012.1L765.0 1011.3L763.8 1010.9L747.6 1008.8L743.7 1006.1L747.6 1004.0L753.2 1000.9L763.8 995.8L764.0 995.7L780.0 991.9L781.7 990.5L780.0 989.5L768.6 985.3L780.0 981.7L784.3 980.2L796.2 976.6L803.2 980.2L796.2 982.4L786.4 985.3L796.2 987.6L812.4 988.1L815.9 990.5L828.6 995.1L831.9 995.7L828.6 1000.4L827.4 1000.9L828.6 1001.0L840.4 1006.1L832.8 1011.3L830.4 1016.4L836.9 1021.6L830.9 1026.8L836.3 1032.0M148.0 905.5L149.7 907.6L148.0 908.0M942.0 875.0L935.6 876.5L925.8 879.5L919.1 881.7L909.6 885.6L905.4 886.9L893.4 888.7L889.4 886.9L893.4 884.2L900.9 881.7L893.4 877.0L877.2 880.0L873.2 876.5L877.2 875.0L893.4 875.6L896.9 871.3L893.4 867.1L892.6 866.1L893.4 864.4L894.7 860.9L893.4 858.8L890.9 855.8L877.2 850.9L876.4 850.6L877.2 850.2L893.4 846.1L894.8 845.4L893.4 845.1L884.3 840.2L882.9 835.0L880.0 829.8L884.3 824.7L882.7 819.5L877.2 816.4L872.1 814.3L877.2 812.3L882.3 809.1L879.8 803.9L877.2 799.8L876.1 798.7L877.2 798.1L881.4 793.6L879.9 788.4L878.1 783.2L877.2 782.4L873.0 778.0M148.0 839.0L154.4 840.2L148.0 841.9M942.0 839.9L941.2 840.2L942.0 840.4M148.0 822.6L150.2 824.7L148.0 825.4M148.0 808.4L164.2 808.3L176.7 803.9L164.2 802.3L152.2 798.7L159.2 793.6L153.2 788.4L154.4 783.2L163.6 778.0M361.8 778.0L369.8 783.2L364.1 788.4L360.4 793.6L358.7 795.0L354.0 798.7L357.1 803.9L342.4 808.3L341.1 809.1L342.4 810.7L348.6 814.3L342.4 819.4L342.3 819.5L342.4 820.3L358.7 823.9L360.7 824.7L371.6 829.8L358.7 832.5L342.4 831.5L339.8 835.0L342.4 837.6L349.8 840.2L352.4 845.4L346.0 850.6L342.4 852.5L334.2 855.8L342.4 860.9L342.5 860.9L355.1 866.1L342.4 867.9L332.5 866.1L326.2 863.1L319.8 866.1L326.2 870.0L327.9 871.3L326.2 872.5L320.0 876.5L321.7 881.7L321.3 886.9L310.0 888.9L299.0 886.9L293.8 884.9L277.8 881.7L285.9 876.5L277.6 874.6L268.0 876.5L261.4 880.6L253.8 876.5L245.2 874.1L229.0 874.5L216.6 871.3L212.8 869.8L196.6 869.4L184.1 866.1L196.6 865.0L205.2 860.9L208.0 855.8L196.6 854.1L180.4 854.6L175.7 850.6L168.3 845.4L170.4 840.2L178.2 835.0L170.5 829.8L171.5 824.7L180.4 821.5L196.5 819.5L180.4 816.4L165.5 814.3L164.2 813.1L148.0 809.7M705.0 778.0L701.2 783.2L702.5 788.4L701.8 793.6L704.9 798.7L698.9 800.3L690.0 803.9L698.9 807.8L704.1 809.1L702.0 814.3L698.9 815.4L692.2 819.5L696.8 824.7L695.6 829.8L698.9 833.0L701.4 835.0L698.9 837.5L688.0 835.0L682.7 834.7L681.6 835.0L682.7 838.7L685.3 840.2L692.7 845.4L695.8 850.6L682.7 852.7L674.9 855.8L675.4 860.9L676.0 866.1L666.5 868.3L654.6 871.3L666.5 873.9L674.7 876.5L666.5 880.0L661.8 881.7L659.5 886.9L666.5 891.4L669.3 892.0L666.5 892.5L650.3 894.2L634.1 895.9L626.8 892.0L617.9 888.3L615.2 886.9L610.9 881.7L601.7 877.5L599.7 876.5L597.9 871.3L601.7 867.3L607.1 871.3L617.9 873.2L623.1 871.3L617.9 868.1L605.0 866.1L601.7 865.4L595.0 860.9L601.7 858.2L609.7 855.8L601.7 853.7L594.7 850.6L601.3 845.4L593.1 840.2L585.5 835.7L584.2 835.0L585.5 834.3L597.5 829.8L589.4 824.7L585.5 823.4L581.8 819.5L583.7 814.3L585.0 809.1L585.5 808.5L595.7 803.9L585.5 800.1L584.3 798.7L579.5 793.6L585.5 789.9L587.5 788.4L597.5 783.2L585.5 778.4L584.8 778.0M439.7 1011.4L439.9 1011.3L439.7 1011.2L439.0 1011.3ZM520.7 1012.5L528.8 1011.3L520.7 1009.8L509.7 1011.3ZM472.1 1001.3L473.9 1000.9L472.1 1000.4L468.9 1000.9ZM780.0 1003.0L783.2 1000.9L780.0 998.4L774.7 1000.9ZM455.9 998.5L461.5 995.7L455.9 993.2L449.0 995.7ZM439.7 981.3L438.5 980.2L439.7 979.5L454.9 980.2L439.7 981.3M472.1 982.9L456.6 980.2L472.1 978.6L488.3 977.9L493.6 980.2L488.3 984.2ZM812.4 975.3L810.2 975.0L812.4 974.7L813.6 975.0L812.4 975.3M472.1 970.8L469.5 969.8L467.1 964.6L472.1 962.3L475.5 964.6L488.3 968.6L494.3 969.8L488.3 971.0L472.1 970.8M763.8 960.6L761.0 959.4L763.8 958.7L767.5 959.4ZM650.3 924.2L646.7 923.1L650.3 922.0L653.9 923.1ZM180.4 918.8L178.8 918.0L180.4 917.6L181.7 918.0ZM229.0 919.0L224.5 918.0L229.0 917.3L236.2 918.0ZM293.8 913.1L292.9 912.8L293.8 912.4L294.4 912.8ZM261.4 908.1L257.1 907.6L245.2 903.4L237.8 902.4L242.1 897.2L245.2 893.0L249.8 897.2L261.4 900.7L270.4 902.4L264.6 907.6L261.4 908.1M877.2 908.4L874.8 907.6L877.2 906.4L883.1 907.6ZM326.2 903.9L314.4 902.4L318.6 897.2L323.6 892.0L326.2 889.9L327.6 892.0L332.2 897.2L330.0 902.4ZM925.8 903.2L922.2 902.4L915.8 897.2L909.6 895.4L904.6 892.0L909.6 888.4L925.8 888.0L939.2 892.0L940.7 897.2L926.2 902.4L925.8 903.2M212.8 898.8L208.0 897.2L212.8 896.3L215.3 897.2ZM617.9 898.1L616.8 897.2L617.9 896.3L624.8 897.2L617.9 898.1M877.2 897.6L876.7 897.2L877.2 896.7L878.3 897.2ZM196.6 892.7L195.8 892.0L196.6 891.7L197.9 892.0ZM277.6 893.3L273.0 892.0L277.6 888.1L285.1 892.0ZM212.8 888.6L208.1 886.9L209.9 881.7L212.8 879.1L219.7 881.7L229.0 883.1L245.2 884.6L261.4 882.5L275.1 886.9L261.4 889.0L245.2 891.3L229.0 890.9L212.8 888.6M682.7 888.2L679.7 886.9L682.7 885.7L684.6 886.9ZM261.4 874.0L266.2 871.3L261.4 869.6L254.2 871.3ZM164.2 867.4L159.8 866.1L163.5 860.9L164.2 860.5L166.9 860.9L175.1 866.1ZM277.6 867.6L293.2 866.1L277.6 864.5L272.4 866.1ZM909.6 866.5L915.3 866.1L909.6 865.9L901.4 866.1ZM634.1 861.8L638.6 860.9L634.1 858.6L629.8 860.9ZM925.8 863.7L930.3 860.9L925.8 860.2L924.3 860.9ZM293.8 858.6L302.9 855.8L293.8 853.8L288.0 855.8ZM326.2 851.2L329.3 850.6L326.2 850.1L325.2 850.6ZM310.0 841.0L310.8 840.2L310.0 839.2L307.4 840.2ZM379.2 1032.0L387.2 1026.8L374.9 1025.9L364.7 1021.6L369.1 1016.4L374.9 1012.6L378.9 1011.3L384.2 1006.1L382.1 1000.9L374.9 998.5L372.5 995.7L368.3 990.5L374.9 988.5L390.4 985.3L374.9 981.2L368.1 980.2L374.9 979.0L387.2 975.0L390.8 969.8L380.6 964.6L374.9 961.5L360.8 964.6L358.7 965.0L342.4 965.9L340.0 964.6L342.4 963.0L348.4 959.4L358.7 955.4L374.9 956.5L391.1 956.4L400.3 954.2L393.0 949.1L406.1 943.9L391.1 940.6L374.9 939.1L374.5 938.7L374.9 938.4L378.2 933.5L391.1 930.2L407.3 932.7L407.5 933.5L420.8 938.7L408.7 943.9L423.5 946.9L438.0 943.9L424.9 938.7L439.7 936.4L455.9 935.7L457.9 933.5L472.1 932.8L487.4 933.5L488.3 933.9L492.9 938.7L488.3 940.7L480.5 938.7L472.1 936.3L458.7 938.7L472.1 941.2L479.0 943.9L488.3 948.8L502.8 943.9L504.5 943.5L505.6 943.9L520.7 946.7L532.4 949.1L536.9 950.6L545.3 949.1L553.1 947.6L559.2 949.1L553.1 952.2L549.7 954.2L552.0 959.4L553.1 959.8L554.6 959.4L569.3 957.4L585.2 959.4L569.3 962.7L563.8 964.6L561.5 969.8L558.6 975.0L553.5 980.2L553.1 980.4L549.7 985.3L547.9 990.5L553.1 993.9L569.3 991.1L577.8 995.7L569.3 997.5L553.1 997.5L549.5 1000.9L553.1 1003.1L569.3 1005.8L569.8 1006.1L569.3 1007.2L566.2 1011.3L559.5 1016.4L562.7 1021.6L569.3 1026.4L569.9 1026.8L569.3 1028.0L566.7 1032.0M720.0 1032.0L715.5 1026.8L723.6 1021.6L720.1 1016.4L722.1 1011.3L721.8 1006.1L715.1 1001.9L713.0 1000.9L715.1 999.7L720.4 995.7L717.7 990.5L731.3 986.1L733.7 985.3L731.3 984.5L715.1 984.6L706.3 980.2L715.1 977.0L731.3 976.1L733.4 975.0L744.6 969.8L747.6 968.6L756.7 964.6L747.6 959.6L731.3 963.0L719.6 959.4L715.1 957.2L707.7 954.2L698.9 952.1L687.9 949.1L698.9 944.0L715.1 946.3L727.5 949.1L725.3 954.2L731.3 955.4L740.2 954.2L744.7 949.1L737.2 943.9L731.3 942.5L715.1 940.9L702.1 938.7L715.1 935.7L731.3 935.5L740.5 933.5L747.6 930.7L763.8 931.2L780.0 931.3L784.2 933.5L780.0 934.2L763.8 936.4L747.6 937.0L744.5 938.7L747.6 940.0L763.8 940.4L780.0 942.9L782.5 943.9L792.5 949.1L796.2 949.8L801.1 949.1L809.2 943.9L812.4 940.0L828.2 943.9L828.6 943.9L828.9 943.9L830.9 938.7L843.3 933.5L839.9 928.3L842.1 923.1L844.8 922.5L857.0 923.1L854.2 928.3L847.9 933.5L861.0 936.6L865.8 938.7L861.0 940.1L850.8 943.9L844.8 948.3L843.0 949.1L844.8 952.2L861.0 953.4L868.8 954.2L874.7 959.4L873.9 964.6L861.0 967.7L854.0 969.8L861.0 973.2L869.2 975.0L870.7 980.2L861.0 984.0L845.9 985.3L861.0 986.8L869.7 990.5L861.0 994.4L854.8 995.7L855.6 1000.9L855.5 1006.1L861.0 1008.7L866.9 1011.3L861.0 1015.6L856.1 1016.4L853.7 1021.6L850.9 1026.8L861.0 1030.7L863.2 1032.0M942.0 985.7L940.9 985.3L942.0 984.4M148.0 969.7L157.2 964.6L164.2 963.1L166.6 964.6L164.4 969.8L164.2 969.8L148.0 969.8M148.0 959.3L148.5 959.4L148.0 959.7M942.0 946.2L936.9 943.9L942.0 942.0M942.0 933.0L940.0 933.5L925.8 938.2L912.3 933.5L909.6 932.9L893.4 930.8L877.2 931.9L866.9 928.3L862.9 923.1L863.4 918.0L861.0 917.1L855.1 912.8L861.0 909.5L863.0 907.6L868.3 902.4L867.7 897.2L865.4 892.0L861.0 891.2L851.4 886.9L849.5 881.7L859.5 876.5L857.2 871.3L852.6 866.1L844.8 862.1L842.1 860.9L844.8 859.4L854.7 855.8L856.6 850.6L857.1 845.4L861.0 841.6L864.4 840.2L865.3 835.0L861.0 830.0L860.7 829.8L845.9 824.7L853.6 819.5L854.1 814.3L856.6 809.1L851.6 803.9L851.1 798.7L855.5 793.6L861.0 788.6L861.4 788.4L861.0 784.9L860.8 783.2L861.0 780.9L861.2 778.0M148.0 920.7L153.5 918.0L160.9 912.8L148.0 912.3M148.0 878.7L155.1 876.5L148.0 875.3M148.0 861.9L149.9 860.9L148.0 859.4M387.1 778.0L384.0 783.2L391.1 786.4L400.0 788.4L393.3 793.6L391.5 798.7L391.1 798.9L375.8 803.9L383.4 809.1L386.6 814.3L388.7 819.5L391.1 820.9L398.6 824.7L391.1 825.9L384.0 829.8L382.3 835.0L384.2 840.2L391.1 843.2L396.8 845.4L405.1 850.6L392.8 855.8L391.1 856.7L383.6 860.9L388.7 866.1L379.2 871.3L374.9 873.9L371.4 876.5L369.7 881.7L372.1 886.9L374.9 888.1L391.1 886.9L399.5 892.0L394.1 897.2L403.1 902.4L391.1 907.3L389.6 907.6L391.1 908.0L404.9 912.8L407.3 916.1L423.5 913.0L424.5 918.0L432.8 923.1L423.5 924.5L417.2 923.1L407.3 918.6L391.1 919.9L374.9 919.5L358.7 923.0L342.4 922.8L326.2 919.6L315.4 923.1L310.0 926.9L304.7 928.3L310.0 928.9L317.0 928.3L326.2 927.3L329.0 928.3L341.5 933.5L326.2 938.6L310.0 937.2L299.9 938.7L295.6 943.9L293.8 944.3L277.6 945.3L261.4 946.2L251.8 949.1L245.2 951.8L235.7 954.2L229.0 955.8L212.8 955.9L208.8 954.2L212.8 949.1L229.0 951.6L235.1 949.1L245.2 944.6L247.2 943.9L245.2 943.5L233.7 938.7L229.0 936.9L219.0 938.7L218.1 943.9L212.8 948.6L210.5 943.9L196.6 942.2L180.4 942.1L164.2 942.2L151.4 943.9L148.0 946.4M721.0 778.0L716.5 783.2L720.1 788.4L717.1 793.6L726.3 798.7L719.6 803.9L731.3 808.7L732.1 809.1L731.3 809.6L723.7 814.3L722.7 819.5L718.7 824.7L720.7 829.8L715.3 835.0L715.1 835.2L711.3 840.2L715.1 842.8L723.7 845.4L715.1 847.9L711.5 850.6L715.1 853.5L721.0 855.8L715.1 857.9L706.8 860.9L715.1 864.4L721.2 866.1L715.1 867.1L704.7 871.3L710.5 876.5L715.1 878.5L720.8 881.7L721.7 886.9L715.1 888.0L698.9 891.3L697.6 892.0L698.9 892.8L715.1 895.4L719.3 897.2L731.3 900.7L737.4 902.4L731.3 906.5L715.1 904.4L698.9 906.9L686.7 907.6L698.9 908.5L706.6 912.8L715.1 917.7L715.9 918.0L715.1 918.2L698.9 922.3L682.7 921.3L675.7 923.1L682.7 925.0L692.3 928.3L692.3 933.5L697.4 938.7L682.7 943.8L674.5 938.7L666.5 935.3L656.3 938.7L651.2 943.9L666.5 947.6L672.5 949.1L666.5 950.4L650.3 950.9L645.6 949.1L638.7 943.9L641.0 938.7L643.1 933.5L634.1 930.4L622.0 933.5L617.9 935.4L611.1 933.5L601.7 931.7L596.5 928.3L585.5 926.2L570.6 923.1L569.3 921.1L561.1 918.0L555.2 912.8L568.7 907.6L569.3 906.4L581.2 907.6L585.5 907.8L586.0 907.6L585.9 902.4L585.5 902.3L574.5 897.2L569.3 894.0L567.5 892.0L569.3 889.7L571.2 886.9L572.9 881.7L569.3 878.6L566.4 876.5L569.3 874.8L576.6 871.3L569.3 869.3L553.1 870.2L552.3 866.1L553.1 865.8L562.1 860.9L553.1 856.2L550.9 855.8L549.5 850.6L553.1 849.0L563.8 845.4L569.3 842.6L578.7 840.2L573.0 835.0L569.3 830.4L567.7 829.8L569.3 829.4L574.8 824.7L569.3 819.5L569.3 819.4L566.5 814.3L569.3 809.1L567.2 803.9L569.3 801.6L571.3 798.7L569.3 797.6L563.0 793.6L569.3 789.9L572.6 788.4L569.3 785.8L566.3 783.2L569.3 780.3L571.7 778.0M391.1 1025.8L393.0 1021.6L391.1 1017.7L387.8 1021.6ZM828.6 990.9L844.8 992.8L849.8 990.5L844.8 985.7L828.6 988.7L827.6 990.5ZM358.7 986.7L352.6 985.3L358.7 982.8L362.8 985.3ZM407.3 987.7L410.7 985.3L407.3 984.2L393.4 985.3ZM569.3 989.5L562.5 985.3L569.3 983.9L573.6 985.3L569.3 989.5M423.5 982.7L429.5 980.2L423.5 977.1L415.6 980.2ZM601.7 980.4L601.2 980.2L601.7 980.0L602.0 980.2ZM358.7 977.9L343.3 975.0L358.7 972.2L364.4 975.0ZM698.9 975.7L696.9 975.0L698.9 973.4L701.7 975.0ZM828.6 971.2L834.1 969.8L828.6 968.7L822.4 969.8ZM666.5 965.1L664.3 964.6L663.3 959.4L666.5 957.2L674.3 959.4L668.9 964.6L666.5 965.1M698.9 968.3L691.3 964.6L698.9 961.6L704.9 964.6ZM488.3 959.6L488.9 959.4L494.2 954.2L488.3 949.3L483.9 954.2L487.9 959.4ZM796.2 959.9L796.7 959.4L796.2 959.2L795.4 959.4ZM925.8 961.1L924.0 959.4L925.8 958.6L927.6 959.4L925.8 961.1M164.2 954.5L163.6 954.2L164.2 953.9L165.3 954.2L164.2 954.5M439.7 954.6L440.2 954.2L439.7 954.0L424.6 954.2ZM520.7 957.6L530.7 954.2L520.7 951.2L513.5 954.2ZM763.8 955.2L771.1 954.2L763.8 951.7L753.5 954.2ZM180.4 951.2L173.2 949.1L180.4 947.0L182.7 949.1ZM374.9 953.2L369.3 949.1L374.9 945.0L389.0 949.1ZM617.9 952.1L603.5 949.1L617.9 945.9L625.6 949.1ZM893.4 950.9L890.6 949.1L892.0 943.9L893.4 940.5L896.3 943.9L895.5 949.1ZM925.8 949.1L925.8 949.1L925.8 949.1L925.8 949.1ZM569.3 944.7L567.5 943.9L569.3 939.4L569.6 938.7L569.3 938.5L565.7 933.5L569.3 931.0L576.2 933.5L585.5 935.6L597.2 938.7L596.3 943.9L585.5 947.1ZM261.4 939.8L277.6 941.7L288.5 938.7L277.6 935.3L267.4 933.5L270.5 928.3L261.4 926.7L251.9 928.3L245.2 930.9L238.8 933.5L245.2 935.2L259.2 938.7ZM536.9 940.6L528.7 938.7L536.9 935.4L553.1 937.1L568.9 938.7L553.1 940.8L536.9 940.6M164.2 933.6L180.4 934.8L187.4 933.5L190.2 928.3L180.4 926.7L164.2 925.8L152.2 928.3L163.6 933.5ZM358.7 934.5L348.0 933.5L347.7 928.3L358.7 923.2L370.9 928.3L364.8 933.5L358.7 934.5M504.5 933.8L493.2 933.5L504.5 933.2L511.0 933.5L504.5 933.8M812.4 938.0L802.4 933.5L812.4 928.9L818.9 933.5L812.4 938.0M455.9 932.6L450.7 928.3L455.9 927.4L457.5 928.3L455.9 932.6M520.7 933.0L513.2 928.3L520.7 926.8L534.1 928.3ZM715.1 930.3L710.6 928.3L715.1 927.5L731.3 926.6L740.6 928.3L731.3 930.7ZM617.9 925.9L623.6 923.1L617.9 922.1L613.1 923.1ZM925.8 924.0L926.6 923.1L925.8 922.8L924.7 923.1ZM520.7 918.4L519.0 918.0L520.7 917.0L522.9 918.0ZM585.5 918.3L587.0 918.0L585.5 917.0L580.2 918.0ZM812.4 918.4L811.8 918.0L812.4 917.8L813.1 918.0ZM229.0 914.2L235.6 912.8L229.0 910.9L221.3 912.8ZM374.9 915.6L380.7 912.8L374.9 910.7L370.7 912.8ZM877.2 913.8L893.4 913.0L894.1 912.8L893.4 912.4L877.2 912.5L873.8 912.8ZM180.4 911.5L185.2 907.6L180.4 905.8L170.0 907.6ZM310.0 912.0L313.3 907.6L310.0 907.0L307.1 907.6ZM747.6 908.1L740.0 907.6L747.6 907.0L748.5 907.6L747.6 908.1M553.1 903.6L544.2 902.4L553.1 899.8L564.6 902.4L553.1 903.6M828.6 902.5L828.5 902.4L828.6 902.4L838.2 897.2L844.8 895.6L847.9 897.2L852.9 902.4L844.8 905.8ZM342.4 893.7L354.6 892.0L342.4 887.4L339.1 892.0ZM391.1 886.8L377.4 881.7L391.1 876.7L400.8 881.7ZM731.3 871.9L730.0 871.3L731.3 870.3L732.4 871.3L731.3 871.9M553.1 798.8L552.9 798.7L553.1 798.6L554.7 798.7L553.1 798.8M374.9 793.8L375.6 793.6L374.9 793.4L374.7 793.6ZM148.0 1028.7L150.2 1026.8L148.0 1026.0M357.5 1032.0L352.7 1026.8L352.3 1021.6L348.7 1016.4L346.5 1011.3L350.6 1006.1L342.4 1001.9L338.2 1000.9L329.8 995.7L326.2 993.5L321.0 990.5L311.6 985.3L310.0 985.2L300.7 980.2L293.8 976.7L288.0 980.2L283.6 985.3L277.6 987.0L261.4 986.5L257.4 985.3L261.4 983.1L263.7 980.2L277.6 975.2L279.7 975.0L277.6 974.8L261.4 974.2L245.2 973.6L234.2 975.0L245.2 977.6L255.2 980.2L245.2 982.3L233.8 985.3L229.0 987.4L223.1 990.5L212.8 992.3L197.2 995.7L212.8 999.6L226.6 1000.9L212.8 1003.1L196.6 1002.7L180.4 1005.4L178.9 1006.1L164.2 1010.5L156.3 1011.3L164.2 1012.6L171.6 1016.4L164.2 1019.5L155.8 1021.6L164.2 1024.0L168.8 1026.8L164.2 1029.5L151.6 1032.0M694.4 1032.0L693.0 1026.8L688.9 1021.6L682.7 1017.8L680.2 1016.4L680.0 1011.3L674.8 1006.1L666.5 1003.8L661.2 1000.9L666.5 997.5L677.3 995.7L682.7 994.0L697.1 990.5L682.7 985.7L680.8 985.3L666.5 984.3L657.6 980.2L650.3 977.6L634.1 977.6L617.9 979.4L616.3 980.2L617.5 985.3L601.7 987.6L589.0 990.5L601.7 994.6L607.3 995.7L605.4 1000.9L609.7 1006.1L601.7 1008.5L595.8 1011.3L601.7 1014.0L607.0 1016.4L601.7 1017.8L588.5 1021.6L593.1 1026.8L593.8 1032.0M942.0 997.7L925.8 996.2L925.3 995.7L925.8 994.9L942.0 994.3M942.0 989.4L929.9 985.3L925.8 980.8L909.6 982.7L898.4 985.3L909.6 986.6L921.3 990.5L909.6 992.2L897.6 990.5L893.4 986.8L889.3 990.5L891.7 995.7L888.4 1000.9L877.9 1006.1L893.4 1010.0L896.3 1011.3L893.6 1016.4L893.4 1016.6L882.2 1021.6L877.2 1024.4L871.8 1026.8L875.4 1032.0M423.0 778.0L411.6 783.2L423.5 786.3L427.7 788.4L423.5 791.3L407.3 792.8L405.8 793.6L405.2 798.7L407.3 802.0L408.8 803.9L418.0 809.1L421.6 814.3L423.5 816.5L425.2 819.5L423.5 820.7L420.1 824.7L412.4 829.8L423.5 833.8L427.9 835.0L423.5 837.5L419.4 840.2L415.7 845.4L418.3 850.6L423.5 854.1L433.8 850.6L439.7 848.2L443.8 850.6L441.5 855.8L444.3 860.9L442.1 866.1L439.7 871.2L439.6 871.3L439.7 871.4L440.0 871.3L455.9 870.2L469.1 871.3L470.2 876.5L463.5 881.7L455.9 883.5L442.7 886.9L439.7 889.5L436.9 892.0L439.7 893.5L453.0 892.0L455.9 891.8L457.8 892.0L472.1 895.4L480.6 892.0L488.3 890.6L502.0 892.0L504.5 893.0L506.4 892.0L504.5 891.0L501.0 886.9L504.5 882.9L520.7 884.1L536.9 884.5L542.1 881.7L546.7 876.5L536.9 875.3L520.7 873.6L509.0 871.3L520.7 868.1L532.3 866.1L520.7 864.5L509.7 860.9L520.7 856.7L524.0 855.8L520.7 852.6L517.9 850.6L520.7 850.0L529.2 850.6L536.9 851.3L538.1 850.6L540.8 845.4L536.9 844.4L528.9 840.2L536.9 838.0L547.3 835.0L536.9 831.7L528.8 829.8L528.8 824.7L536.9 822.0L541.4 819.5L553.1 814.9L554.3 814.3L553.1 812.4L542.8 809.1L544.6 803.9L540.5 798.7L546.6 793.6L553.1 790.6L554.9 788.4L553.4 783.2L553.1 782.2L551.9 783.2L536.9 786.2L531.4 783.2L535.6 778.0M736.7 778.0L733.6 783.2L747.3 788.4L736.0 793.6L739.8 798.7L747.6 803.4L748.7 803.9L747.6 805.6L745.6 809.1L747.6 813.3L748.3 814.3L747.6 815.5L745.1 819.5L747.6 820.7L753.7 824.7L747.6 829.1L745.9 829.8L740.1 835.0L747.6 838.8L749.7 840.2L750.6 845.4L748.0 850.6L763.8 854.7L766.1 855.8L763.8 856.6L752.4 860.9L748.0 866.1L763.8 869.3L773.2 871.3L763.8 875.7L747.6 871.9L740.9 876.5L747.6 880.9L752.4 881.7L763.8 882.7L773.2 886.9L780.0 889.1L795.5 892.0L796.2 892.9L812.4 892.7L813.6 892.0L823.3 886.9L812.4 884.3L805.6 881.7L812.4 878.5L815.5 876.5L824.9 871.3L816.8 866.1L828.0 860.9L817.4 855.8L821.0 850.6L816.3 845.4L828.6 840.7L830.1 840.2L828.6 838.9L824.8 835.0L827.7 829.8L828.4 824.7L828.6 824.5L835.4 819.5L835.9 814.3L828.6 811.4L822.7 809.1L828.6 806.7L833.2 803.9L835.0 798.7L844.8 794.1L845.7 793.6L844.8 792.3L839.7 788.4L844.8 785.2L847.4 783.2L844.8 780.7L834.8 778.0M326.2 1016.7L325.5 1016.4L326.2 1016.3L327.2 1016.4L326.2 1016.7M617.9 1012.9L610.6 1011.3L617.9 1008.8L621.9 1011.3L617.9 1012.9M698.9 1013.8L704.5 1011.3L705.9 1006.1L698.9 1003.5L689.1 1006.1L687.3 1011.3ZM585.5 1006.6L588.4 1006.1L585.5 1005.0L584.3 1006.1ZM261.4 995.8L261.0 995.7L261.4 995.6L261.7 995.7L261.4 995.8M180.4 991.9L184.1 990.5L180.4 988.6L176.8 990.5ZM342.4 981.7L346.4 980.2L342.4 979.2L337.5 980.2ZM585.5 975.1L586.4 975.0L585.5 974.9L585.3 975.0ZM293.8 971.9L310.0 970.8L316.5 969.8L310.0 969.2L293.8 967.9L291.1 969.8ZM650.3 961.2L653.3 959.4L650.3 957.8L645.7 959.4ZM472.1 928.6L474.6 928.3L472.1 927.9L471.2 928.3ZM796.2 913.0L796.9 912.8L796.2 912.6L795.5 912.8ZM780.0 908.3L781.9 907.6L780.0 906.0L766.3 907.6ZM439.7 903.5L455.9 902.5L455.9 902.4L455.9 901.9L439.7 900.9L436.0 902.4ZM747.6 892.8L754.6 892.0L752.5 886.9L747.6 882.7L743.9 886.9L743.6 892.0ZM423.5 882.7L426.1 881.7L423.5 881.2L421.7 881.7ZM504.5 880.7L494.1 876.5L504.5 874.0L508.1 876.5L504.5 880.7M488.3 873.2L477.3 871.3L488.3 869.8L492.1 871.3ZM439.7 830.9L437.0 829.8L439.7 828.9L441.3 829.8ZM407.3 819.9L415.9 819.5L407.3 818.6L406.1 819.5ZM276.1 1032.0L277.6 1029.9L278.7 1032.0M304.3 1032.0L310.0 1030.3L319.4 1026.8L310.0 1024.1L294.1 1021.6L293.8 1021.5L288.1 1016.4L277.6 1014.2L262.2 1011.3L261.4 1010.9L259.3 1011.3L259.7 1016.4L250.5 1021.6L261.4 1024.3L275.1 1026.8L261.4 1029.1L248.9 1026.8L245.2 1025.0L233.1 1026.8L229.0 1029.6L228.0 1026.8L212.8 1024.8L206.3 1026.8L198.7 1032.0M671.7 1032.0L682.7 1029.2L684.0 1026.8L682.7 1025.9L666.5 1024.5L658.5 1021.6L658.1 1016.4L655.7 1011.3L650.3 1010.2L634.1 1010.5L632.6 1011.3L620.8 1016.4L621.4 1021.6L626.6 1026.8L622.1 1032.0M932.7 1032.0L942.0 1028.5M942.0 1025.9L927.0 1021.6L925.8 1020.4L909.6 1017.3L907.1 1021.6L900.8 1026.8L893.4 1030.9L890.8 1032.0M445.9 778.0L439.7 781.5L437.1 783.2L439.0 788.4L439.7 791.3L455.9 788.9L464.4 788.4L472.1 787.8L476.8 788.4L472.1 789.2L465.8 793.6L459.0 798.7L461.9 803.9L472.1 805.1L478.4 803.9L488.3 800.1L500.1 798.7L504.5 797.5L507.8 793.6L508.4 788.4L515.0 783.2L520.7 779.7L523.1 778.0M757.3 778.0L763.8 782.3L765.3 783.2L763.8 783.5L756.1 788.4L763.8 792.8L769.6 793.6L780.0 797.3L783.4 798.7L780.0 802.1L767.4 803.9L780.0 804.8L782.6 803.9L796.2 801.7L803.0 803.9L812.4 806.0L818.2 803.9L812.4 799.7L809.1 798.7L812.4 794.0L812.9 793.6L815.6 788.4L820.3 783.2L816.9 778.0M277.6 1024.6L274.6 1021.6L277.6 1021.0L292.1 1021.6ZM601.7 1022.6L608.3 1021.6L601.7 1021.2L600.2 1021.6ZM472.1 847.2L488.3 846.8L502.8 845.4L488.3 843.9L472.1 844.7L469.6 845.4ZM812.4 840.9L814.5 840.2L812.4 839.2L810.0 840.2ZM796.2 836.1L800.5 835.0L796.2 833.5L787.3 835.0ZM455.9 831.7L465.3 829.8L459.8 824.7L455.9 819.8L453.1 824.7L451.8 829.8ZM488.3 831.4L496.3 829.8L488.3 827.4L483.1 829.8ZM780.0 828.2L791.4 824.7L790.6 819.5L780.0 816.6L775.1 819.5L771.8 824.7ZM472.1 814.3L488.3 814.5L504.5 815.2L507.4 814.3L507.3 809.1L520.7 806.4L523.2 803.9L520.7 800.3L504.5 800.1L500.0 803.9L488.3 807.0L484.5 809.1L472.1 814.3L471.9 814.3ZM796.2 810.5L796.7 809.1L796.2 808.8L795.1 809.1Z" fill="none" stroke="#000" stroke-width="2" stroke-linejoin="round"/>
</g>
<g clip-path="url(#c2)">
<path d="M925.8 1322.0L942.0 1322.0L942.0 1319.8L926.0 1316.8L925.8 1316.8L925.7 1316.8L922.3 1322.0ZM310.0 1262.6L326.2 1263.3L342.4 1262.4L350.4 1259.8L358.7 1255.1L374.9 1256.3L391.1 1255.3L407.3 1255.9L414.0 1254.6L416.2 1249.4L423.5 1246.9L425.4 1249.4L439.7 1253.8L443.6 1254.6L455.9 1256.1L464.3 1254.6L455.9 1252.6L448.3 1249.4L455.9 1246.0L472.1 1247.7L483.7 1244.2L488.3 1242.1L504.5 1241.3L509.5 1239.1L504.5 1236.7L488.3 1238.5L472.1 1236.6L464.5 1239.1L455.9 1242.1L447.9 1244.2L439.7 1245.9L427.3 1244.2L439.7 1241.8L447.1 1239.1L439.7 1236.3L423.5 1236.0L407.3 1235.8L391.1 1234.3L389.7 1233.9L374.9 1232.3L369.0 1233.9L364.5 1239.1L358.7 1240.0L355.9 1239.1L345.4 1233.9L342.4 1233.1L326.2 1232.7L321.9 1233.9L310.0 1235.9L293.8 1235.8L284.9 1233.9L277.6 1233.4L274.3 1233.9L261.4 1235.7L253.3 1233.9L245.2 1232.2L229.0 1232.0L226.5 1233.9L212.8 1238.0L204.4 1239.1L212.8 1243.2L214.4 1244.2L217.4 1249.4L221.0 1254.6L229.0 1257.0L243.6 1254.6L245.2 1254.1L247.0 1254.6L261.4 1258.1L277.6 1257.7L293.8 1258.6L298.1 1259.8ZM180.4 1255.2L196.6 1256.6L204.2 1254.6L196.6 1252.2L180.4 1253.9L178.2 1254.6ZM488.3 1255.5L490.0 1254.6L488.3 1252.8L485.0 1254.6ZM261.4 1229.0L261.8 1228.7L261.4 1228.5L261.0 1228.7ZM942.0 1198.3L942.0 1197.6L942.0 1195.9L936.2 1197.6ZM893.4 1192.5L893.8 1192.4L909.6 1190.4L918.0 1192.4L925.8 1195.3L934.4 1192.4L940.5 1187.2L942.0 1186.3L942.0 1182.0L942.0 1181.7L925.8 1181.1L913.3 1182.0L909.6 1182.3L897.8 1187.2L893.4 1192.2L893.1 1192.4ZM877.2 1187.3L878.1 1187.2L885.2 1182.0L877.2 1180.6L869.2 1182.0L876.1 1187.2ZM229.0 1151.5L232.3 1150.9L245.2 1146.1L261.4 1149.3L271.8 1145.8L277.6 1144.4L293.8 1145.6L295.3 1145.8L310.0 1146.7L326.2 1147.3L342.4 1149.7L355.9 1145.8L358.7 1144.6L362.9 1145.8L374.9 1148.6L391.1 1148.7L407.3 1147.3L415.0 1145.8L423.5 1143.9L437.2 1140.6L439.7 1140.1L442.6 1140.6L455.9 1144.5L470.0 1140.6L455.9 1137.3L452.9 1135.4L439.7 1130.8L430.4 1130.2L423.5 1129.2L421.0 1130.2L407.3 1134.4L391.1 1132.2L377.7 1130.2L374.9 1129.5L373.4 1130.2L358.7 1132.8L342.4 1130.3L342.0 1130.2L326.2 1128.8L310.0 1129.7L293.8 1128.2L286.3 1130.2L277.9 1135.4L277.6 1135.5L261.4 1138.0L256.8 1135.4L245.2 1131.7L231.0 1130.2L229.0 1130.0L227.9 1130.2L212.8 1132.3L203.0 1135.4L212.8 1139.5L218.5 1140.6L218.4 1145.8L226.4 1150.9ZM504.5 1141.9L507.0 1140.6L504.5 1139.2L500.0 1140.6ZM472.1 1133.3L474.3 1130.2L472.1 1129.8L469.9 1130.2ZM942.0 1104.7L942.0 1104.3L942.0 1103.3L938.5 1104.3ZM844.8 1100.5L851.7 1099.1L844.8 1095.7L841.7 1099.1ZM877.2 1101.0L893.4 1099.2L909.6 1099.4L910.6 1099.1L917.1 1093.9L909.6 1092.4L893.4 1092.8L889.5 1093.9L877.2 1097.6L871.4 1099.1ZM942.0 1096.5L942.0 1093.9L942.0 1088.7L942.0 1087.5L929.3 1088.7L930.4 1093.9Z" fill="#440154" stroke="#440154" stroke-width="0.6"/>
<path d="M812.4 1322.0L828.6 1322.0L844.8 1322.0L861.0 1322.0L877.2 1322.0L893.4 1322.0L909.6 1322.0L922.3 1322.0L925.7 1316.8L925.8 1316.8L926.0 1316.8L942.0 1319.8L942.0 1316.8L942.0 1311.6L942.0 1306.4L942.0 1301.3L942.0 1297.7L929.4 1301.3L925.8 1302.1L922.7 1301.3L909.6 1296.5L908.2 1296.1L893.4 1293.7L886.3 1296.1L877.2 1299.3L871.5 1301.3L861.0 1305.2L846.9 1301.3L852.0 1296.1L844.8 1295.2L841.7 1296.1L843.4 1301.3L828.6 1304.4L812.4 1306.1L810.3 1306.4L800.5 1311.6L807.9 1316.8L804.3 1322.0ZM892.6 1301.3L893.4 1301.1L893.9 1301.3L893.4 1301.5ZM780.0 1314.0L793.9 1311.6L780.0 1309.3L773.5 1311.6ZM780.0 1297.2L782.2 1296.1L780.0 1295.5L777.7 1296.1ZM942.0 1294.4L942.0 1290.9L942.0 1289.8L936.0 1290.9ZM342.4 1275.8L345.5 1275.3L342.4 1274.0L336.7 1270.2L342.4 1268.9L348.0 1270.2L358.7 1273.1L374.9 1273.5L391.1 1271.1L403.1 1270.2L407.3 1269.9L409.0 1270.2L407.3 1271.0L403.0 1275.3L407.3 1276.0L412.0 1275.3L423.5 1272.3L435.2 1270.2L439.7 1268.5L455.9 1267.8L469.7 1270.2L472.1 1271.1L476.2 1270.2L488.3 1268.1L497.6 1265.0L504.5 1263.7L512.3 1265.0L520.7 1267.2L536.9 1265.1L538.0 1265.0L553.1 1263.5L569.3 1260.3L571.9 1259.8L569.3 1258.9L553.1 1255.0L546.6 1254.6L553.1 1251.1L569.3 1252.5L585.5 1251.6L601.7 1251.4L608.7 1249.4L601.7 1246.6L597.5 1244.2L585.5 1241.2L579.2 1239.1L569.3 1235.0L556.7 1233.9L553.1 1233.3L536.9 1229.5L520.7 1230.6L504.5 1229.0L501.4 1228.7L504.5 1226.1L506.8 1223.5L504.5 1223.2L501.1 1223.5L488.3 1225.9L478.8 1223.5L472.1 1222.5L459.0 1223.5L455.9 1223.7L453.5 1223.5L439.7 1222.7L423.5 1221.5L407.3 1223.0L391.1 1223.1L374.9 1222.1L366.1 1223.5L358.7 1224.8L342.4 1223.6L326.2 1223.9L321.9 1223.5L310.0 1222.3L293.8 1222.0L277.6 1221.5L261.4 1220.9L253.3 1223.5L245.2 1226.6L233.1 1223.5L229.0 1222.0L212.8 1222.7L204.6 1223.5L196.6 1227.0L183.8 1228.7L180.4 1230.5L164.2 1229.8L148.0 1230.2L148.0 1233.9L148.0 1239.1L148.0 1244.2L148.0 1249.4L148.0 1254.6L148.0 1259.8L148.0 1264.8L149.2 1265.0L164.2 1266.0L180.4 1267.6L189.9 1270.2L196.6 1272.2L211.1 1270.2L212.8 1269.7L218.0 1270.2L229.0 1271.7L245.2 1270.2L261.4 1274.2L277.6 1273.7L293.8 1273.2L310.0 1272.5L326.2 1274.2L336.0 1275.3ZM298.1 1259.8L293.8 1258.6L277.6 1257.7L261.4 1258.1L247.0 1254.6L245.2 1254.1L243.6 1254.6L229.0 1257.0L221.0 1254.6L217.4 1249.4L214.4 1244.2L212.8 1243.2L204.4 1239.1L212.8 1238.0L226.5 1233.9L229.0 1232.0L245.2 1232.2L253.3 1233.9L261.4 1235.7L274.3 1233.9L277.6 1233.4L284.9 1233.9L293.8 1235.8L310.0 1235.9L321.9 1233.9L326.2 1232.7L342.4 1233.1L345.4 1233.9L355.9 1239.1L358.7 1240.0L364.5 1239.1L369.0 1233.9L374.9 1232.3L389.7 1233.9L391.1 1234.3L407.3 1235.8L423.5 1236.0L439.7 1236.3L447.1 1239.1L439.7 1241.8L427.3 1244.2L439.7 1245.9L447.9 1244.2L455.9 1242.1L464.5 1239.1L472.1 1236.6L488.3 1238.5L504.5 1236.7L509.5 1239.1L504.5 1241.3L488.3 1242.1L483.7 1244.2L472.1 1247.7L455.9 1246.0L448.3 1249.4L455.9 1252.6L464.3 1254.6L455.9 1256.1L443.6 1254.6L439.7 1253.8L425.4 1249.4L423.5 1246.9L416.2 1249.4L414.0 1254.6L407.3 1255.9L391.1 1255.3L374.9 1256.3L358.7 1255.1L350.4 1259.8L342.4 1262.4L326.2 1263.3L310.0 1262.6ZM528.0 1259.8L536.9 1256.6L539.7 1259.8L536.9 1264.3ZM178.2 1254.6L180.4 1253.9L196.6 1252.2L204.2 1254.6L196.6 1256.6L180.4 1255.2ZM485.0 1254.6L488.3 1252.8L490.0 1254.6L488.3 1255.5ZM551.6 1239.1L553.1 1236.0L554.7 1239.1L553.1 1239.6ZM261.0 1228.7L261.4 1228.5L261.8 1228.7L261.4 1229.0ZM488.3 1275.6L488.9 1275.3L488.3 1274.7L486.9 1275.3ZM601.7 1270.8L605.1 1270.2L601.7 1267.4L597.9 1270.2ZM617.9 1240.7L619.5 1239.1L617.9 1238.6L612.5 1239.1ZM893.4 1208.4L909.6 1208.0L911.9 1208.0L925.8 1206.9L942.0 1205.9L942.0 1202.8L942.0 1198.3L936.2 1197.6L942.0 1195.9L942.0 1192.4L942.0 1187.2L942.0 1186.3L940.5 1187.2L934.4 1192.4L925.8 1195.3L918.0 1192.4L909.6 1190.4L893.8 1192.4L893.4 1192.5L893.1 1192.4L893.4 1192.2L897.8 1187.2L909.6 1182.3L913.3 1182.0L925.8 1181.1L942.0 1181.7L942.0 1176.9L942.0 1171.7L942.0 1170.4L925.8 1168.4L910.2 1171.7L909.6 1171.9L893.4 1174.5L884.9 1171.7L877.2 1169.8L871.2 1171.7L861.0 1175.1L844.8 1174.3L828.6 1174.4L812.4 1176.2L802.2 1176.9L796.2 1179.8L793.6 1176.9L780.0 1175.4L772.2 1176.9L780.0 1181.4L788.2 1182.0L780.0 1182.6L772.8 1187.2L766.3 1192.4L780.0 1194.4L790.7 1197.6L796.2 1199.5L809.3 1197.6L797.4 1192.4L796.2 1190.9L793.9 1187.2L796.2 1184.1L801.8 1187.2L812.4 1188.7L820.3 1192.4L813.9 1197.6L828.6 1201.1L840.6 1197.6L844.8 1196.5L852.1 1197.6L853.4 1202.8L861.0 1203.9L877.2 1205.7L889.3 1208.0ZM876.1 1187.2L869.2 1182.0L877.2 1180.6L885.2 1182.0L878.1 1187.2L877.2 1187.3ZM196.6 1156.4L197.3 1156.1L212.8 1152.2L229.0 1155.1L241.4 1156.1L245.2 1157.2L250.5 1156.1L261.4 1155.2L273.0 1156.1L277.6 1156.6L284.0 1156.1L293.8 1155.1L297.1 1156.1L310.0 1158.1L326.2 1156.8L329.5 1156.1L342.4 1154.6L356.5 1156.1L358.7 1156.7L374.9 1157.2L382.2 1156.1L391.1 1154.6L407.3 1154.1L423.5 1153.8L439.7 1155.4L443.8 1156.1L455.9 1156.9L472.1 1156.6L475.5 1156.1L488.3 1153.3L504.5 1153.9L517.4 1156.1L520.7 1156.6L522.8 1156.1L536.9 1151.1L543.8 1150.9L549.7 1145.8L553.1 1143.6L557.9 1145.8L569.3 1148.0L585.4 1150.9L585.5 1150.9L585.5 1150.9L601.7 1147.5L611.1 1145.8L601.7 1142.0L585.5 1141.8L584.1 1140.6L582.5 1135.4L572.0 1130.2L569.3 1129.9L566.9 1130.2L553.1 1133.2L547.3 1130.2L536.9 1126.6L520.7 1125.9L504.5 1125.6L501.8 1125.0L488.3 1123.7L476.8 1125.0L472.1 1125.3L469.7 1125.0L455.9 1123.3L439.7 1123.1L423.5 1121.8L407.3 1121.2L391.1 1121.4L374.9 1122.2L358.7 1122.5L342.4 1121.0L326.2 1124.4L310.0 1123.2L293.8 1121.6L277.6 1122.6L261.4 1122.9L245.2 1124.1L229.0 1122.8L212.8 1121.7L198.7 1125.0L196.6 1125.4L180.4 1126.1L164.2 1128.1L151.9 1130.2L148.0 1131.1L148.0 1135.4L148.0 1140.6L148.0 1145.8L148.0 1148.2L157.9 1150.9L164.2 1151.9L180.4 1153.1L195.9 1156.1ZM226.4 1150.9L218.4 1145.8L218.5 1140.6L212.8 1139.5L203.0 1135.4L212.8 1132.3L227.9 1130.2L229.0 1130.0L231.0 1130.2L245.2 1131.7L256.8 1135.4L261.4 1138.0L277.6 1135.5L277.9 1135.4L286.3 1130.2L293.8 1128.2L310.0 1129.7L326.2 1128.8L342.0 1130.2L342.4 1130.3L358.7 1132.8L373.4 1130.2L374.9 1129.5L377.7 1130.2L391.1 1132.2L407.3 1134.4L421.0 1130.2L423.5 1129.2L430.4 1130.2L439.7 1130.8L452.9 1135.4L455.9 1137.3L470.0 1140.6L455.9 1144.5L442.6 1140.6L439.7 1140.1L437.2 1140.6L423.5 1143.9L415.0 1145.8L407.3 1147.3L391.1 1148.7L374.9 1148.6L362.9 1145.8L358.7 1144.6L355.9 1145.8L342.4 1149.7L326.2 1147.3L310.0 1146.7L295.3 1145.8L293.8 1145.6L277.6 1144.4L271.8 1145.8L261.4 1149.3L245.2 1146.1L232.3 1150.9L229.0 1151.5ZM500.0 1140.6L504.5 1139.2L507.0 1140.6L504.5 1141.9ZM469.9 1130.2L472.1 1129.8L474.3 1130.2L472.1 1133.3ZM617.9 1135.6L618.7 1135.4L617.9 1135.0L614.9 1135.4ZM150.4 1125.0L148.0 1124.5L148.0 1125.0L148.0 1127.4ZM828.6 1111.2L836.0 1109.5L844.8 1108.2L857.0 1109.5L861.0 1109.8L866.8 1109.5L877.2 1108.9L881.3 1109.5L893.4 1110.6L905.3 1109.5L909.6 1108.8L912.8 1109.5L925.8 1111.4L942.0 1110.9L942.0 1109.5L942.0 1104.7L938.5 1104.3L942.0 1103.3L942.0 1099.1L942.0 1096.5L930.4 1093.9L929.3 1088.7L942.0 1087.5L942.0 1083.6L942.0 1081.8L925.8 1082.1L909.6 1081.1L893.4 1082.3L877.2 1082.8L861.0 1083.0L848.2 1083.6L844.8 1083.7L831.5 1083.6L828.6 1083.5L827.9 1083.6L812.4 1084.8L796.2 1086.0L780.0 1088.7L795.2 1093.9L796.2 1094.8L797.7 1093.9L812.4 1092.3L815.2 1093.9L812.4 1098.5L809.3 1099.1L796.2 1101.9L791.4 1104.3L796.2 1105.1L812.1 1104.3L812.4 1104.0L828.6 1103.9L829.0 1104.3L828.6 1104.8L816.7 1109.5ZM890.8 1104.3L893.4 1103.6L896.3 1104.3L893.4 1106.1ZM841.7 1099.1L844.8 1095.7L851.7 1099.1L844.8 1100.5ZM871.4 1099.1L877.2 1097.6L889.5 1093.9L893.4 1092.8L909.6 1092.4L917.1 1093.9L910.6 1099.1L909.6 1099.4L893.4 1099.2L877.2 1101.0ZM763.8 1099.2L766.2 1099.1L763.8 1098.8L763.5 1099.1ZM763.8 1092.3L779.9 1088.7L763.8 1087.3L759.1 1088.7ZM164.2 1068.5L166.8 1068.0L164.2 1068.0L162.6 1068.0ZM196.6 1069.7L210.6 1068.0L196.6 1068.0L186.7 1068.0ZM261.4 1068.4L277.6 1071.2L293.8 1073.1L310.0 1071.0L326.2 1070.3L342.4 1069.8L358.7 1069.8L374.9 1070.3L391.1 1071.3L407.3 1070.8L423.5 1069.4L439.7 1070.0L455.9 1070.5L464.0 1068.0L455.9 1068.0L439.7 1068.0L423.5 1068.0L407.3 1068.0L391.1 1068.0L374.9 1068.0L358.7 1068.0L342.4 1068.0L326.2 1068.0L310.0 1068.0L293.8 1068.0L277.6 1068.0L261.4 1068.0L254.2 1068.0ZM488.3 1069.9L498.2 1068.0L488.3 1068.0L478.5 1068.0ZM520.7 1069.1L531.0 1068.0L520.7 1068.0L512.0 1068.0Z" fill="#414487" stroke="#414487" stroke-width="0.6"/>
<path d="M666.5 1322.0L682.7 1322.0L698.9 1322.0L715.1 1322.0L731.3 1322.0L747.6 1322.0L763.8 1322.0L780.0 1322.0L796.2 1322.0L804.3 1322.0L807.9 1316.8L800.5 1311.6L810.3 1306.4L812.4 1306.1L828.6 1304.4L843.4 1301.3L841.7 1296.1L844.8 1295.2L852.0 1296.1L846.9 1301.3L861.0 1305.2L871.5 1301.3L877.2 1299.3L886.3 1296.1L893.4 1293.7L908.2 1296.1L909.6 1296.5L922.7 1301.3L925.8 1302.1L929.4 1301.3L942.0 1297.7L942.0 1296.1L942.0 1294.4L936.0 1290.9L942.0 1289.8L942.0 1285.7L942.0 1284.1L931.5 1280.5L925.8 1279.2L919.8 1280.5L912.1 1285.7L909.6 1286.4L898.7 1285.7L893.4 1285.5L877.2 1282.7L865.1 1280.5L861.0 1276.1L857.6 1280.5L844.8 1282.9L828.6 1283.3L812.6 1285.7L812.4 1285.8L797.5 1290.9L796.2 1291.5L793.6 1290.9L780.6 1285.7L780.0 1285.3L774.7 1280.5L763.8 1277.7L747.6 1279.2L731.3 1280.1L719.8 1275.3L717.6 1270.2L718.6 1265.0L720.9 1259.8L715.1 1259.3L714.2 1259.8L709.9 1265.0L698.9 1268.6L688.6 1265.0L682.7 1261.6L680.3 1259.8L682.7 1257.5L690.6 1254.6L683.1 1249.4L682.7 1249.3L670.7 1244.2L676.4 1239.1L682.7 1236.2L693.7 1239.1L696.5 1244.2L698.9 1244.9L699.9 1244.2L702.5 1239.1L698.9 1234.7L697.3 1233.9L698.9 1230.6L699.6 1228.7L698.9 1228.0L696.0 1223.5L698.9 1218.9L701.9 1218.3L698.9 1218.2L682.9 1213.1L698.9 1210.0L715.1 1211.7L719.8 1213.1L724.5 1218.3L731.3 1219.5L747.6 1223.3L758.4 1218.3L763.8 1216.4L767.0 1218.3L780.0 1221.4L785.5 1218.3L796.2 1215.2L810.5 1218.3L812.4 1219.0L815.6 1218.3L828.6 1215.5L839.4 1213.1L844.8 1211.9L856.6 1213.1L861.0 1214.8L877.2 1214.8L893.4 1215.9L909.6 1215.1L925.8 1213.4L942.0 1215.5L942.0 1213.1L942.0 1208.0L942.0 1205.9L925.8 1206.9L911.9 1208.0L909.6 1208.0L893.4 1208.4L889.3 1208.0L877.2 1205.7L861.0 1203.9L853.4 1202.8L852.1 1197.6L844.8 1196.5L840.6 1197.6L828.6 1201.1L813.9 1197.6L820.3 1192.4L812.4 1188.7L801.8 1187.2L796.2 1184.1L793.9 1187.2L796.2 1190.9L797.4 1192.4L809.3 1197.6L796.2 1199.5L790.7 1197.6L780.0 1194.4L766.3 1192.4L772.8 1187.2L780.0 1182.6L788.2 1182.0L780.0 1181.4L772.2 1176.9L780.0 1175.4L793.6 1176.9L796.2 1179.8L802.2 1176.9L812.4 1176.2L828.6 1174.4L844.8 1174.3L861.0 1175.1L871.2 1171.7L877.2 1169.8L884.9 1171.7L893.4 1174.5L909.6 1171.9L910.2 1171.7L925.8 1168.4L942.0 1170.4L942.0 1166.5L942.0 1161.3L942.0 1161.2L925.8 1161.1L909.6 1161.1L905.5 1161.3L893.4 1161.9L877.2 1163.7L861.0 1162.7L844.8 1161.9L830.5 1161.3L828.6 1161.1L821.9 1161.3L812.4 1161.6L796.2 1164.0L780.0 1163.9L767.6 1161.3L763.8 1160.6L747.6 1158.0L744.4 1161.3L731.3 1166.2L730.2 1166.5L715.1 1168.0L698.9 1166.7L698.7 1166.5L698.9 1166.3L715.1 1161.9L716.9 1161.3L731.3 1158.2L744.9 1156.1L731.3 1153.9L715.1 1153.4L702.0 1156.1L698.9 1157.1L695.1 1156.1L693.5 1150.9L693.4 1145.8L682.7 1142.2L674.9 1140.6L682.7 1135.5L683.3 1135.4L684.4 1130.2L698.9 1128.2L708.5 1125.0L710.6 1119.8L715.1 1115.1L731.0 1119.8L731.3 1120.1L731.7 1119.8L747.6 1117.6L756.2 1119.8L763.8 1121.9L780.0 1121.0L785.9 1119.8L786.4 1114.7L796.2 1114.4L812.4 1114.1L814.4 1114.7L823.6 1119.8L828.6 1120.2L831.2 1119.8L844.8 1117.5L861.0 1116.6L877.2 1117.0L893.4 1114.9L909.6 1117.0L925.8 1116.9L942.0 1117.3L942.0 1114.7L942.0 1110.9L925.8 1111.4L912.8 1109.5L909.6 1108.8L905.3 1109.5L893.4 1110.6L881.3 1109.5L877.2 1108.9L866.8 1109.5L861.0 1109.8L857.0 1109.5L844.8 1108.2L836.0 1109.5L828.6 1111.2L816.7 1109.5L828.6 1104.8L829.0 1104.3L828.6 1103.9L812.4 1104.0L812.1 1104.3L796.2 1105.1L791.4 1104.3L796.2 1101.9L809.3 1099.1L812.4 1098.5L815.2 1093.9L812.4 1092.3L797.7 1093.9L796.2 1094.8L795.2 1093.9L780.0 1088.7L796.2 1086.0L812.4 1084.8L827.9 1083.6L828.6 1083.5L831.5 1083.6L844.8 1083.7L848.2 1083.6L861.0 1083.0L877.2 1082.8L893.4 1082.3L909.6 1081.1L925.8 1082.1L942.0 1081.8L942.0 1078.4L942.0 1074.2L925.8 1075.2L909.6 1075.9L893.4 1076.3L877.2 1076.1L861.0 1076.1L844.8 1074.0L828.6 1074.0L812.4 1074.4L810.2 1073.2L796.2 1070.8L783.5 1073.2L780.0 1076.5L763.8 1073.9L750.7 1073.2L747.6 1073.1L731.3 1072.8L715.1 1070.6L698.9 1070.5L687.9 1073.2L682.7 1075.5L670.5 1078.4L666.5 1081.0L661.7 1083.6L666.5 1085.9L682.7 1085.8L694.3 1088.7L689.7 1093.9L683.2 1099.1L689.7 1104.3L698.9 1106.9L715.1 1107.2L722.7 1109.5L715.1 1114.2L698.9 1111.3L682.7 1110.2L668.0 1109.5L666.5 1109.0L650.3 1108.8L634.1 1109.4L631.9 1109.5L634.1 1109.7L646.6 1114.7L650.3 1115.9L656.0 1119.8L650.3 1121.7L634.1 1121.5L628.1 1119.8L620.8 1114.7L617.9 1112.4L601.7 1110.8L585.5 1111.3L573.9 1114.7L573.7 1119.8L569.3 1120.7L556.3 1119.8L559.5 1114.7L553.1 1112.7L536.9 1113.5L520.7 1112.9L505.2 1114.7L504.5 1114.8L488.3 1117.5L472.1 1116.2L455.9 1115.7L439.7 1117.7L423.5 1115.4L407.3 1114.8L391.1 1115.7L374.9 1115.7L358.7 1117.2L342.4 1116.4L326.2 1116.9L310.0 1117.4L293.8 1116.7L277.6 1116.1L261.4 1117.0L245.2 1117.6L229.0 1117.0L217.8 1114.7L212.8 1114.0L207.4 1114.7L196.6 1115.9L180.6 1114.7L180.4 1114.6L180.3 1114.7L164.2 1117.0L148.0 1116.2L148.0 1119.8L148.0 1124.5L150.4 1125.0L148.0 1127.4L148.0 1130.2L148.0 1131.1L151.9 1130.2L164.2 1128.1L180.4 1126.1L196.6 1125.4L198.7 1125.0L212.8 1121.7L229.0 1122.8L245.2 1124.1L261.4 1122.9L277.6 1122.6L293.8 1121.6L310.0 1123.2L326.2 1124.4L342.4 1121.0L358.7 1122.5L374.9 1122.2L391.1 1121.4L407.3 1121.2L423.5 1121.8L439.7 1123.1L455.9 1123.3L469.7 1125.0L472.1 1125.3L476.8 1125.0L488.3 1123.7L501.8 1125.0L504.5 1125.6L520.7 1125.9L536.9 1126.6L547.3 1130.2L553.1 1133.2L566.9 1130.2L569.3 1129.9L572.0 1130.2L582.5 1135.4L584.1 1140.6L585.5 1141.8L601.7 1142.0L611.1 1145.8L601.7 1147.5L585.5 1150.9L585.5 1150.9L585.4 1150.9L569.3 1148.0L557.9 1145.8L553.1 1143.6L549.7 1145.8L543.8 1150.9L536.9 1151.1L522.8 1156.1L520.7 1156.6L517.4 1156.1L504.5 1153.9L488.3 1153.3L475.5 1156.1L472.1 1156.6L455.9 1156.9L443.8 1156.1L439.7 1155.4L423.5 1153.8L407.3 1154.1L391.1 1154.6L382.2 1156.1L374.9 1157.2L358.7 1156.7L356.5 1156.1L342.4 1154.6L329.5 1156.1L326.2 1156.8L310.0 1158.1L297.1 1156.1L293.8 1155.1L284.0 1156.1L277.6 1156.6L273.0 1156.1L261.4 1155.2L250.5 1156.1L245.2 1157.2L241.4 1156.1L229.0 1155.1L212.8 1152.2L197.3 1156.1L196.6 1156.4L195.9 1156.1L180.4 1153.1L164.2 1151.9L157.9 1150.9L148.0 1148.2L148.0 1150.9L148.0 1156.1L148.0 1161.3L148.0 1162.5L164.2 1164.4L180.4 1161.8L196.6 1163.6L204.9 1161.3L212.8 1158.4L227.3 1161.3L229.0 1162.9L245.2 1164.6L261.4 1163.6L277.6 1163.3L293.8 1162.8L310.0 1163.1L326.2 1163.6L342.4 1164.1L358.7 1164.3L374.9 1163.3L391.1 1161.8L407.3 1162.5L423.5 1162.1L439.7 1163.7L454.3 1161.3L455.9 1161.1L459.8 1161.3L472.1 1162.4L488.3 1164.2L504.5 1163.6L520.7 1163.7L536.9 1163.2L553.1 1164.1L569.3 1164.6L585.5 1162.6L601.7 1161.3L617.9 1161.6L634.1 1164.0L650.3 1164.0L657.8 1161.3L656.0 1156.1L666.5 1152.6L676.9 1156.1L682.7 1160.0L685.8 1161.3L682.7 1161.9L666.5 1164.7L660.3 1166.5L666.5 1169.1L677.0 1171.7L682.6 1176.9L682.6 1182.0L666.5 1185.0L661.3 1187.2L666.5 1190.7L670.3 1192.4L666.5 1195.3L664.4 1197.6L666.5 1199.6L669.4 1202.8L666.5 1205.3L650.3 1205.1L642.4 1208.0L634.1 1209.5L619.7 1213.1L617.9 1216.5L609.8 1213.1L615.3 1208.0L601.7 1206.4L586.1 1208.0L599.7 1213.1L594.5 1218.3L585.5 1219.5L580.0 1218.3L573.6 1213.1L569.3 1212.3L553.1 1211.5L536.9 1211.1L520.7 1211.9L515.4 1213.1L504.5 1215.9L489.1 1213.1L488.3 1213.0L487.3 1213.1L472.1 1215.0L455.9 1216.3L439.7 1217.3L423.5 1214.4L407.3 1215.8L391.1 1215.6L374.9 1215.9L358.7 1214.2L350.6 1213.1L342.4 1212.4L336.3 1213.1L326.2 1217.5L314.8 1213.1L310.0 1212.4L303.8 1213.1L293.8 1217.0L277.6 1215.2L261.4 1214.7L245.2 1214.3L229.0 1214.0L216.6 1218.3L212.8 1219.0L209.2 1218.3L196.6 1214.6L180.4 1214.2L165.8 1218.3L164.2 1218.7L157.1 1218.3L148.0 1216.5L148.0 1218.3L148.0 1223.5L148.0 1228.7L148.0 1230.2L164.2 1229.8L180.4 1230.5L183.8 1228.7L196.6 1227.0L204.6 1223.5L212.8 1222.7L229.0 1222.0L233.1 1223.5L245.2 1226.6L253.3 1223.5L261.4 1220.9L277.6 1221.5L293.8 1222.0L310.0 1222.3L321.9 1223.5L326.2 1223.9L342.4 1223.6L358.7 1224.8L366.1 1223.5L374.9 1222.1L391.1 1223.1L407.3 1223.0L423.5 1221.5L439.7 1222.7L453.5 1223.5L455.9 1223.7L459.0 1223.5L472.1 1222.5L478.8 1223.5L488.3 1225.9L501.1 1223.5L504.5 1223.2L506.8 1223.5L504.5 1226.1L501.4 1228.7L504.5 1229.0L520.7 1230.6L536.9 1229.5L553.1 1233.3L556.7 1233.9L569.3 1235.0L579.2 1239.1L585.5 1241.2L597.5 1244.2L601.7 1246.6L608.7 1249.4L601.7 1251.4L585.5 1251.6L569.3 1252.5L553.1 1251.1L546.6 1254.6L553.1 1255.0L569.3 1258.9L571.9 1259.8L569.3 1260.3L553.1 1263.5L538.0 1265.0L536.9 1265.1L520.7 1267.2L512.3 1265.0L504.5 1263.7L497.6 1265.0L488.3 1268.1L476.2 1270.2L472.1 1271.1L469.7 1270.2L455.9 1267.8L439.7 1268.5L435.2 1270.2L423.5 1272.3L412.0 1275.3L407.3 1276.0L403.0 1275.3L407.3 1271.0L409.0 1270.2L407.3 1269.9L403.1 1270.2L391.1 1271.1L374.9 1273.5L358.7 1273.1L348.0 1270.2L342.4 1268.9L336.7 1270.2L342.4 1274.0L345.5 1275.3L342.4 1275.8L336.0 1275.3L326.2 1274.2L310.0 1272.5L293.8 1273.2L277.6 1273.7L261.4 1274.2L245.2 1270.2L229.0 1271.7L218.0 1270.2L212.8 1269.7L211.1 1270.2L196.6 1272.2L189.9 1270.2L180.4 1267.6L164.2 1266.0L149.2 1265.0L148.0 1264.8L148.0 1265.0L148.0 1270.2L148.0 1275.3L148.0 1280.5L148.0 1281.9L164.2 1283.6L172.3 1280.5L180.4 1279.3L193.8 1280.5L196.6 1281.3L204.9 1285.7L212.8 1289.6L220.1 1285.7L229.0 1283.2L245.2 1284.3L261.4 1283.3L267.2 1285.7L277.6 1287.7L293.8 1285.9L294.3 1285.7L310.0 1283.0L326.2 1283.5L342.4 1284.3L358.7 1282.3L374.9 1283.5L391.1 1284.5L406.8 1280.5L407.3 1280.5L407.6 1280.5L423.5 1282.9L438.1 1280.5L439.7 1280.2L441.4 1280.5L455.9 1282.7L465.5 1280.5L472.1 1279.2L477.8 1280.5L483.3 1285.7L488.3 1286.9L504.5 1288.1L519.5 1285.7L520.7 1285.1L536.9 1283.7L553.1 1284.8L556.7 1285.7L569.3 1287.4L585.5 1286.1L593.0 1285.7L601.7 1285.1L617.1 1285.7L608.5 1290.9L617.9 1295.9L621.0 1296.1L630.2 1301.3L634.1 1303.2L648.2 1301.3L641.5 1296.1L634.1 1295.5L625.9 1290.9L634.1 1286.0L636.1 1285.7L634.1 1285.3L617.9 1285.6L614.9 1280.5L617.9 1279.0L634.1 1277.9L650.3 1279.1L659.8 1280.5L658.9 1285.7L661.2 1290.9L666.5 1295.9L666.6 1296.1L666.5 1296.1L653.6 1301.3L661.8 1306.4L658.8 1311.6L666.5 1314.4L676.3 1311.6L682.7 1309.7L692.7 1311.6L697.7 1316.8L682.7 1318.9L666.5 1321.8L666.2 1322.0ZM699.7 1316.8L715.1 1315.0L723.2 1316.8L715.1 1319.3ZM773.5 1311.6L780.0 1309.3L793.9 1311.6L780.0 1314.0ZM713.0 1296.1L715.1 1294.7L721.1 1296.1L715.1 1296.5ZM777.7 1296.1L780.0 1295.5L782.2 1296.1L780.0 1297.2ZM678.3 1285.7L682.7 1284.5L685.1 1285.7L682.7 1288.8ZM711.1 1285.7L715.1 1280.9L720.7 1285.7L715.1 1288.1ZM486.9 1275.3L488.3 1274.7L488.9 1275.3L488.3 1275.6ZM596.3 1275.3L601.7 1274.6L607.8 1275.3L601.7 1276.7ZM678.0 1275.3L682.7 1274.4L686.8 1275.3L682.7 1276.3ZM597.9 1270.2L601.7 1267.4L605.1 1270.2L601.7 1270.8ZM665.2 1254.6L666.5 1254.2L672.0 1254.6L666.5 1255.1ZM612.5 1239.1L617.9 1238.6L619.5 1239.1L617.9 1240.7ZM646.9 1233.9L650.3 1233.0L662.9 1233.9L650.3 1235.4ZM663.6 1228.7L666.5 1227.9L674.6 1228.7L666.5 1232.8ZM641.6 1218.3L646.9 1213.1L650.3 1211.1L666.5 1212.4L680.4 1213.1L668.8 1218.3L666.5 1218.8L650.3 1221.8ZM779.1 1213.1L780.0 1213.1L780.2 1213.1L780.0 1213.3ZM727.7 1208.0L731.3 1206.7L738.0 1208.0L731.3 1209.1ZM678.1 1197.6L682.7 1197.1L684.8 1197.6L682.7 1197.9ZM683.7 1182.0L698.9 1181.8L699.4 1182.0L698.9 1182.5ZM648.7 1145.8L650.3 1145.3L652.2 1145.8L650.3 1146.0ZM614.9 1135.4L617.9 1135.0L618.7 1135.4L617.9 1135.6ZM664.8 1130.2L666.5 1129.2L679.4 1130.2L666.5 1134.2ZM679.1 1125.0L682.7 1122.3L686.6 1125.0L682.7 1129.2ZM660.1 1114.7L666.5 1110.0L668.7 1114.7L666.5 1115.2ZM763.5 1099.1L763.8 1098.8L766.2 1099.1L763.8 1099.2ZM759.1 1088.7L763.8 1087.3L779.9 1088.7L763.8 1092.3ZM697.1 1078.4L698.9 1078.0L699.6 1078.4L698.9 1078.6ZM783.8 1078.4L796.2 1076.6L804.3 1078.4L796.2 1079.9ZM893.4 1301.5L893.9 1301.3L893.4 1301.1L892.6 1301.3ZM796.2 1282.5L806.3 1280.5L796.2 1277.9L787.0 1280.5ZM844.8 1275.6L853.8 1275.3L844.8 1275.2L844.3 1275.3ZM536.9 1264.3L539.7 1259.8L536.9 1256.6L528.0 1259.8ZM763.8 1261.4L764.6 1259.8L763.8 1259.4L759.3 1259.8ZM553.1 1239.6L554.7 1239.1L553.1 1236.0L551.6 1239.1ZM715.1 1225.0L723.5 1223.5L715.1 1219.8L705.7 1223.5ZM650.3 1177.7L656.0 1176.9L650.3 1173.2L639.6 1176.9ZM780.0 1157.5L782.3 1156.1L780.0 1155.5L777.3 1156.1ZM893.4 1106.1L896.3 1104.3L893.4 1103.6L890.8 1104.3ZM650.3 1096.0L666.5 1096.6L673.5 1093.9L666.5 1090.0L656.6 1088.7L650.3 1087.5L649.1 1088.7L643.8 1093.9ZM617.9 1084.2L634.1 1085.6L645.7 1083.6L634.1 1080.9L617.9 1082.0L616.2 1083.6ZM585.5 1078.6L586.6 1078.4L597.8 1073.2L601.7 1071.7L606.9 1073.2L617.9 1076.7L628.5 1073.2L634.1 1071.5L648.6 1073.2L650.3 1075.9L651.6 1073.2L666.5 1070.0L682.7 1068.4L683.4 1068.0L682.7 1068.0L666.5 1068.0L650.3 1068.0L634.1 1068.0L617.9 1068.0L601.7 1068.0L585.5 1068.0L569.3 1068.0L553.1 1068.0L536.9 1068.0L531.0 1068.0L520.7 1069.1L512.0 1068.0L504.5 1068.0L498.2 1068.0L488.3 1069.9L478.5 1068.0L472.1 1068.0L464.0 1068.0L455.9 1070.5L439.7 1070.0L423.5 1069.4L407.3 1070.8L391.1 1071.3L374.9 1070.3L358.7 1069.8L342.4 1069.8L326.2 1070.3L310.0 1071.0L293.8 1073.1L277.6 1071.2L261.4 1068.4L254.2 1068.0L245.2 1068.0L229.0 1068.0L212.8 1068.0L210.6 1068.0L196.6 1069.7L186.7 1068.0L180.4 1068.0L166.8 1068.0L164.2 1068.5L162.6 1068.0L148.0 1068.0L148.0 1073.2L148.0 1076.0L164.2 1077.0L180.4 1074.9L196.0 1073.2L196.6 1073.1L197.1 1073.2L212.8 1078.2L229.0 1078.3L245.0 1073.2L245.2 1073.1L246.2 1073.2L261.4 1074.7L277.6 1076.8L293.8 1076.3L310.0 1076.0L326.2 1073.6L342.4 1075.0L358.7 1075.7L374.9 1074.8L391.1 1076.6L407.3 1075.6L423.5 1075.3L439.7 1074.9L455.9 1075.8L472.1 1075.7L488.3 1077.5L504.5 1075.3L520.7 1073.6L536.9 1077.3L553.1 1073.9L569.3 1074.4L584.8 1078.4Z" fill="#2a788e" stroke="#2a788e" stroke-width="0.6"/>
<path d="M164.2 1317.3L166.6 1316.8L164.2 1315.6L153.0 1311.6L159.2 1306.4L164.2 1302.8L173.1 1301.3L169.0 1296.1L180.4 1294.1L188.7 1296.1L196.6 1300.5L212.8 1296.9L229.0 1301.1L238.7 1296.1L245.2 1294.4L261.4 1292.8L277.2 1296.1L277.6 1296.2L293.8 1299.8L310.0 1296.5L317.5 1296.1L326.2 1295.4L330.4 1296.1L342.4 1297.0L355.9 1296.1L358.7 1295.7L362.5 1296.1L374.9 1297.6L381.0 1296.1L391.1 1294.3L407.0 1296.1L407.3 1296.2L407.7 1296.1L423.5 1294.4L439.7 1292.7L455.9 1295.9L456.6 1296.1L455.9 1296.4L450.3 1301.3L455.9 1304.2L466.8 1301.3L472.1 1300.0L488.3 1297.6L500.6 1301.3L504.5 1303.4L515.4 1306.4L520.7 1307.8L530.2 1311.6L536.9 1313.7L553.1 1315.4L556.7 1316.8L569.3 1320.1L574.1 1322.0L585.5 1322.0L601.7 1322.0L617.9 1322.0L634.1 1322.0L650.3 1322.0L666.2 1322.0L666.5 1321.8L682.7 1318.9L697.7 1316.8L692.7 1311.6L682.7 1309.7L676.3 1311.6L666.5 1314.4L658.8 1311.6L661.8 1306.4L653.6 1301.3L666.5 1296.1L666.6 1296.1L666.5 1295.9L661.2 1290.9L658.9 1285.7L659.8 1280.5L650.3 1279.1L634.1 1277.9L617.9 1279.0L614.9 1280.5L617.9 1285.6L634.1 1285.3L636.1 1285.7L634.1 1286.0L625.9 1290.9L634.1 1295.5L641.5 1296.1L648.2 1301.3L634.1 1303.2L630.2 1301.3L621.0 1296.1L617.9 1295.9L608.5 1290.9L617.1 1285.7L601.7 1285.1L593.0 1285.7L585.5 1286.1L569.3 1287.4L556.7 1285.7L553.1 1284.8L536.9 1283.7L520.7 1285.1L519.5 1285.7L504.5 1288.1L488.3 1286.9L483.3 1285.7L477.8 1280.5L472.1 1279.2L465.5 1280.5L455.9 1282.7L441.4 1280.5L439.7 1280.2L438.1 1280.5L423.5 1282.9L407.6 1280.5L407.3 1280.5L406.8 1280.5L391.1 1284.5L374.9 1283.5L358.7 1282.3L342.4 1284.3L326.2 1283.5L310.0 1283.0L294.3 1285.7L293.8 1285.9L277.6 1287.7L267.2 1285.7L261.4 1283.3L245.2 1284.3L229.0 1283.2L220.1 1285.7L212.8 1289.6L204.9 1285.7L196.6 1281.3L193.8 1280.5L180.4 1279.3L172.3 1280.5L164.2 1283.6L148.0 1281.9L148.0 1285.7L148.0 1290.9L148.0 1296.1L148.0 1298.8L156.9 1301.3L148.0 1302.2L148.0 1306.4L148.0 1311.6L148.0 1316.8L148.0 1317.3ZM583.6 1306.4L585.5 1305.6L588.2 1306.4L585.5 1307.0ZM544.0 1301.3L553.1 1300.5L558.6 1301.3L553.1 1303.0ZM228.9 1290.9L229.0 1290.9L229.1 1290.9L229.0 1291.0ZM536.9 1322.0L547.8 1322.0L536.9 1320.8L533.3 1322.0ZM715.1 1319.3L723.2 1316.8L715.1 1315.0L699.7 1316.8ZM715.1 1296.5L721.1 1296.1L715.1 1294.7L713.0 1296.1ZM796.2 1291.5L797.5 1290.9L812.4 1285.8L812.6 1285.7L828.6 1283.3L844.8 1282.9L857.6 1280.5L861.0 1276.1L865.1 1280.5L877.2 1282.7L893.4 1285.5L898.7 1285.7L909.6 1286.4L912.1 1285.7L919.8 1280.5L925.8 1279.2L931.5 1280.5L942.0 1284.1L942.0 1280.5L942.0 1275.3L942.0 1272.0L929.5 1270.2L925.8 1269.8L909.6 1268.9L893.4 1266.4L887.9 1265.0L877.2 1261.0L861.0 1263.5L849.2 1259.8L844.8 1259.0L828.6 1259.5L826.2 1259.8L812.4 1261.2L797.5 1259.8L796.2 1259.0L780.0 1256.6L776.4 1254.6L780.0 1253.0L796.2 1251.3L802.7 1254.6L812.4 1256.8L816.1 1254.6L821.3 1249.4L812.4 1247.0L798.2 1244.2L802.9 1239.1L803.7 1233.9L812.4 1233.2L828.6 1230.2L841.0 1228.7L844.8 1228.4L850.1 1228.7L861.0 1229.3L877.2 1233.5L880.5 1228.7L893.4 1224.3L906.1 1228.7L909.6 1230.4L915.6 1228.7L925.8 1224.1L935.7 1223.5L942.0 1223.3L942.0 1218.3L942.0 1215.5L925.8 1213.4L909.6 1215.1L893.4 1215.9L877.2 1214.8L861.0 1214.8L856.6 1213.1L844.8 1211.9L839.4 1213.1L828.6 1215.5L815.6 1218.3L812.4 1219.0L810.5 1218.3L796.2 1215.2L785.5 1218.3L780.0 1221.4L767.0 1218.3L763.8 1216.4L758.4 1218.3L747.6 1223.3L731.3 1219.5L724.5 1218.3L719.8 1213.1L715.1 1211.7L698.9 1210.0L682.9 1213.1L698.9 1218.2L701.9 1218.3L698.9 1218.9L696.0 1223.5L698.9 1228.0L699.6 1228.7L698.9 1230.6L697.3 1233.9L698.9 1234.7L702.5 1239.1L699.9 1244.2L698.9 1244.9L696.5 1244.2L693.7 1239.1L682.7 1236.2L676.4 1239.1L670.7 1244.2L682.7 1249.3L683.1 1249.4L690.6 1254.6L682.7 1257.5L680.3 1259.8L682.7 1261.6L688.6 1265.0L698.9 1268.6L709.9 1265.0L714.2 1259.8L715.1 1259.3L720.9 1259.8L718.6 1265.0L717.6 1270.2L719.8 1275.3L731.3 1280.1L747.6 1279.2L763.8 1277.7L774.7 1280.5L780.0 1285.3L780.6 1285.7L793.6 1290.9ZM787.0 1280.5L796.2 1277.9L806.3 1280.5L796.2 1282.5ZM844.3 1275.3L844.8 1275.2L853.8 1275.3L844.8 1275.6ZM759.3 1259.8L763.8 1259.4L764.6 1259.8L763.8 1261.4ZM778.1 1239.1L780.0 1239.0L780.9 1239.1L780.0 1239.4ZM705.7 1223.5L715.1 1219.8L723.5 1223.5L715.1 1225.0ZM859.4 1223.5L861.0 1223.1L863.6 1223.5L861.0 1226.0ZM682.7 1288.8L685.1 1285.7L682.7 1284.5L678.3 1285.7ZM715.1 1288.1L720.7 1285.7L715.1 1280.9L711.1 1285.7ZM601.7 1276.7L607.8 1275.3L601.7 1274.6L596.3 1275.3ZM682.7 1276.3L686.8 1275.3L682.7 1274.4L678.0 1275.3ZM666.5 1255.1L672.0 1254.6L666.5 1254.2L665.2 1254.6ZM650.3 1235.4L662.9 1233.9L650.3 1233.0L646.9 1233.9ZM666.5 1232.8L674.6 1228.7L666.5 1227.9L663.6 1228.7ZM164.2 1218.7L165.8 1218.3L180.4 1214.2L196.6 1214.6L209.2 1218.3L212.8 1219.0L216.6 1218.3L229.0 1214.0L245.2 1214.3L261.4 1214.7L277.6 1215.2L293.8 1217.0L303.8 1213.1L310.0 1212.4L314.8 1213.1L326.2 1217.5L336.3 1213.1L342.4 1212.4L350.6 1213.1L358.7 1214.2L374.9 1215.9L391.1 1215.6L407.3 1215.8L423.5 1214.4L439.7 1217.3L455.9 1216.3L472.1 1215.0L487.3 1213.1L488.3 1213.0L489.1 1213.1L504.5 1215.9L515.4 1213.1L520.7 1211.9L536.9 1211.1L553.1 1211.5L569.3 1212.3L573.6 1213.1L580.0 1218.3L585.5 1219.5L594.5 1218.3L599.7 1213.1L586.1 1208.0L601.7 1206.4L615.3 1208.0L609.8 1213.1L617.9 1216.5L619.7 1213.1L634.1 1209.5L642.4 1208.0L650.3 1205.1L666.5 1205.3L669.4 1202.8L666.5 1199.6L664.4 1197.6L666.5 1195.3L670.3 1192.4L666.5 1190.7L661.3 1187.2L666.5 1185.0L682.6 1182.0L682.6 1176.9L677.0 1171.7L666.5 1169.1L660.3 1166.5L666.5 1164.7L682.7 1161.9L685.8 1161.3L682.7 1160.0L676.9 1156.1L666.5 1152.6L656.0 1156.1L657.8 1161.3L650.3 1164.0L634.1 1164.0L617.9 1161.6L601.7 1161.3L585.5 1162.6L569.3 1164.6L553.1 1164.1L536.9 1163.2L520.7 1163.7L504.5 1163.6L488.3 1164.2L472.1 1162.4L459.8 1161.3L455.9 1161.1L454.3 1161.3L439.7 1163.7L423.5 1162.1L407.3 1162.5L391.1 1161.8L374.9 1163.3L358.7 1164.3L342.4 1164.1L326.2 1163.6L310.0 1163.1L293.8 1162.8L277.6 1163.3L261.4 1163.6L245.2 1164.6L229.0 1162.9L227.3 1161.3L212.8 1158.4L204.9 1161.3L196.6 1163.6L180.4 1161.8L164.2 1164.4L148.0 1162.5L148.0 1166.5L148.0 1171.7L148.0 1176.9L148.0 1182.0L148.0 1183.2L151.6 1182.0L159.1 1176.9L164.2 1173.7L176.5 1176.9L180.4 1177.6L188.0 1176.9L189.6 1171.7L196.6 1169.9L206.9 1171.7L212.8 1172.4L218.8 1171.7L229.0 1170.7L245.2 1170.0L258.7 1171.7L261.4 1172.0L262.4 1171.7L277.6 1168.6L293.8 1170.0L310.0 1170.4L326.2 1171.3L342.4 1170.3L358.7 1168.9L372.6 1171.7L374.9 1172.4L378.1 1171.7L391.1 1168.8L400.9 1166.5L407.3 1165.8L418.1 1166.5L423.5 1167.1L439.1 1171.7L439.7 1172.0L443.4 1171.7L455.9 1171.1L472.1 1170.2L476.2 1171.7L472.1 1174.8L469.1 1176.9L472.1 1178.2L486.7 1176.9L488.3 1176.7L503.7 1171.7L504.5 1171.5L505.1 1171.7L507.2 1176.9L520.7 1180.8L536.9 1178.3L547.2 1176.9L553.1 1176.2L569.3 1173.4L573.8 1176.9L583.1 1182.0L569.3 1183.8L553.1 1187.0L536.9 1187.2L536.6 1187.2L536.9 1187.3L551.0 1192.4L538.6 1197.6L536.9 1198.0L520.7 1200.1L504.5 1202.0L488.3 1201.5L472.1 1202.0L468.7 1202.8L455.9 1206.2L439.7 1205.0L423.5 1206.8L407.3 1206.6L397.8 1208.0L391.1 1208.8L380.8 1208.0L374.9 1207.6L366.5 1208.0L358.7 1208.3L342.4 1209.1L330.5 1208.0L326.2 1207.3L310.0 1207.6L308.9 1208.0L293.8 1210.3L283.2 1208.0L277.6 1205.4L261.6 1202.8L261.4 1202.8L261.0 1202.8L245.2 1205.4L229.0 1206.6L217.4 1202.8L212.8 1201.5L196.6 1202.2L191.3 1202.8L180.4 1204.4L164.2 1202.9L161.7 1202.8L156.5 1197.6L148.0 1195.8L148.0 1197.6L148.0 1202.8L148.0 1208.0L148.0 1213.1L148.0 1216.5L157.1 1218.3ZM639.6 1176.9L650.3 1173.2L656.0 1176.9L650.3 1177.7ZM650.3 1221.8L666.5 1218.8L668.8 1218.3L680.4 1213.1L666.5 1212.4L650.3 1211.1L646.9 1213.1L641.6 1218.3ZM780.0 1213.3L780.2 1213.1L780.0 1213.1L779.1 1213.1ZM731.3 1209.1L738.0 1208.0L731.3 1206.7L727.7 1208.0ZM682.7 1197.9L684.8 1197.6L682.7 1197.1L678.1 1197.6ZM698.9 1182.5L699.4 1182.0L698.9 1181.8L683.7 1182.0ZM698.9 1166.7L715.1 1168.0L730.2 1166.5L731.3 1166.2L744.4 1161.3L747.6 1158.0L763.8 1160.6L767.6 1161.3L780.0 1163.9L796.2 1164.0L812.4 1161.6L821.9 1161.3L828.6 1161.1L830.5 1161.3L844.8 1161.9L861.0 1162.7L877.2 1163.7L893.4 1161.9L905.5 1161.3L909.6 1161.1L925.8 1161.1L942.0 1161.2L942.0 1156.1L942.0 1154.0L925.8 1153.4L910.2 1150.9L909.6 1150.8L908.9 1150.9L893.4 1152.5L877.2 1154.2L861.0 1151.8L844.8 1152.8L834.8 1150.9L832.7 1145.8L828.6 1142.1L812.4 1143.1L797.9 1140.6L796.2 1139.1L780.0 1136.1L777.7 1135.4L780.0 1134.7L796.2 1133.9L805.5 1130.2L808.2 1125.0L812.4 1124.6L828.6 1125.0L829.1 1125.0L839.3 1130.2L844.8 1131.1L854.1 1130.2L861.0 1128.9L877.2 1126.7L886.0 1125.0L893.4 1123.4L909.6 1124.5L925.8 1123.2L942.0 1123.9L942.0 1119.8L942.0 1117.3L925.8 1116.9L909.6 1117.0L893.4 1114.9L877.2 1117.0L861.0 1116.6L844.8 1117.5L831.2 1119.8L828.6 1120.2L823.6 1119.8L814.4 1114.7L812.4 1114.1L796.2 1114.4L786.4 1114.7L785.9 1119.8L780.0 1121.0L763.8 1121.9L756.2 1119.8L747.6 1117.6L731.7 1119.8L731.3 1120.1L731.0 1119.8L715.1 1115.1L710.6 1119.8L708.5 1125.0L698.9 1128.2L684.4 1130.2L683.3 1135.4L682.7 1135.5L674.9 1140.6L682.7 1142.2L693.4 1145.8L693.5 1150.9L695.1 1156.1L698.9 1157.1L702.0 1156.1L715.1 1153.4L731.3 1153.9L744.9 1156.1L731.3 1158.2L716.9 1161.3L715.1 1161.9L698.9 1166.3L698.7 1166.5ZM777.3 1156.1L780.0 1155.5L782.3 1156.1L780.0 1157.5ZM650.3 1146.0L652.2 1145.8L650.3 1145.3L648.7 1145.8ZM666.5 1134.2L679.4 1130.2L666.5 1129.2L664.8 1130.2ZM909.6 1130.8L911.0 1130.2L909.6 1127.8L906.2 1130.2ZM682.7 1129.2L686.6 1125.0L682.7 1122.3L679.1 1125.0ZM569.3 1120.7L573.7 1119.8L573.9 1114.7L585.5 1111.3L601.7 1110.8L617.9 1112.4L620.8 1114.7L628.1 1119.8L634.1 1121.5L650.3 1121.7L656.0 1119.8L650.3 1115.9L646.6 1114.7L634.1 1109.7L631.9 1109.5L634.1 1109.4L650.3 1108.8L666.5 1109.0L668.0 1109.5L682.7 1110.2L698.9 1111.3L715.1 1114.2L722.7 1109.5L715.1 1107.2L698.9 1106.9L689.7 1104.3L683.2 1099.1L689.7 1093.9L694.3 1088.7L682.7 1085.8L666.5 1085.9L661.7 1083.6L666.5 1081.0L670.5 1078.4L682.7 1075.5L687.9 1073.2L698.9 1070.5L715.1 1070.6L731.3 1072.8L747.6 1073.1L750.7 1073.2L763.8 1073.9L780.0 1076.5L783.5 1073.2L796.2 1070.8L810.2 1073.2L812.4 1074.4L828.6 1074.0L844.8 1074.0L861.0 1076.1L877.2 1076.1L893.4 1076.3L909.6 1075.9L925.8 1075.2L942.0 1074.2L942.0 1073.2L942.0 1068.0L935.0 1068.0L925.8 1069.7L915.1 1068.0L909.6 1068.0L893.4 1068.0L877.2 1068.0L862.3 1068.0L861.0 1068.3L859.0 1068.0L844.8 1068.0L828.6 1068.0L812.4 1068.0L796.2 1068.0L780.0 1068.0L763.8 1068.0L747.6 1068.0L731.3 1068.0L715.1 1068.0L698.9 1068.0L683.4 1068.0L682.7 1068.4L666.5 1070.0L651.6 1073.2L650.3 1075.9L648.6 1073.2L634.1 1071.5L628.5 1073.2L617.9 1076.7L606.9 1073.2L601.7 1071.7L597.8 1073.2L586.6 1078.4L585.5 1078.6L584.8 1078.4L569.3 1074.4L553.1 1073.9L536.9 1077.3L520.7 1073.6L504.5 1075.3L488.3 1077.5L472.1 1075.7L455.9 1075.8L439.7 1074.9L423.5 1075.3L407.3 1075.6L391.1 1076.6L374.9 1074.8L358.7 1075.7L342.4 1075.0L326.2 1073.6L310.0 1076.0L293.8 1076.3L277.6 1076.8L261.4 1074.7L246.2 1073.2L245.2 1073.1L245.0 1073.2L229.0 1078.3L212.8 1078.2L197.1 1073.2L196.6 1073.1L196.0 1073.2L180.4 1074.9L164.2 1077.0L148.0 1076.0L148.0 1078.4L148.0 1083.6L148.0 1086.1L164.2 1086.0L180.4 1085.1L191.4 1083.6L196.6 1082.9L203.7 1083.6L212.8 1084.8L229.0 1083.9L230.7 1083.6L245.2 1080.6L261.4 1083.0L277.6 1082.3L293.8 1081.0L307.0 1083.6L310.0 1084.0L315.3 1083.6L326.2 1082.5L342.4 1080.1L358.7 1081.4L374.9 1079.4L391.1 1081.3L407.3 1081.8L418.0 1083.6L423.5 1084.2L426.7 1083.6L439.7 1081.4L454.3 1083.6L455.9 1084.2L458.8 1083.6L472.1 1081.7L488.3 1082.8L504.5 1080.7L514.0 1083.6L520.7 1085.8L536.9 1087.4L553.1 1085.7L569.3 1087.7L572.5 1088.7L569.3 1090.1L560.6 1093.9L561.1 1099.1L553.1 1102.3L543.5 1104.3L536.9 1106.7L520.7 1105.5L504.5 1107.0L488.3 1106.0L473.6 1109.5L472.1 1109.9L464.4 1109.5L455.9 1108.9L451.3 1109.5L439.7 1111.1L423.5 1110.3L407.3 1109.6L391.1 1111.2L382.7 1109.5L374.9 1108.0L366.0 1109.5L358.7 1111.4L342.6 1109.5L342.4 1109.5L342.3 1109.5L326.2 1110.8L310.0 1110.4L293.8 1109.9L277.6 1111.9L261.4 1111.1L245.8 1109.5L245.2 1109.4L245.0 1109.5L229.0 1112.0L212.8 1109.7L196.6 1110.0L191.5 1109.5L180.4 1107.0L164.2 1105.7L157.0 1104.3L151.9 1099.1L148.0 1097.2L148.0 1099.1L148.0 1104.3L148.0 1108.7L149.1 1109.5L148.0 1109.7L148.0 1114.7L148.0 1116.2L164.2 1117.0L180.3 1114.7L180.4 1114.6L180.6 1114.7L196.6 1115.9L207.4 1114.7L212.8 1114.0L217.8 1114.7L229.0 1117.0L245.2 1117.6L261.4 1117.0L277.6 1116.1L293.8 1116.7L310.0 1117.4L326.2 1116.9L342.4 1116.4L358.7 1117.2L374.9 1115.7L391.1 1115.7L407.3 1114.8L423.5 1115.4L439.7 1117.7L455.9 1115.7L472.1 1116.2L488.3 1117.5L504.5 1114.8L505.2 1114.7L520.7 1112.9L536.9 1113.5L553.1 1112.7L559.5 1114.7L556.3 1119.8ZM580.9 1099.1L585.5 1097.6L590.7 1099.1L585.5 1100.5ZM643.8 1093.9L649.1 1088.7L650.3 1087.5L656.6 1088.7L666.5 1090.0L673.5 1093.9L666.5 1096.6L650.3 1096.0ZM598.7 1088.7L601.7 1088.0L603.8 1088.7L601.7 1089.7ZM616.2 1083.6L617.9 1082.0L634.1 1080.9L645.7 1083.6L634.1 1085.6L617.9 1084.2ZM666.5 1115.2L668.7 1114.7L666.5 1110.0L660.1 1114.7ZM536.9 1100.9L540.0 1099.1L536.9 1095.3L534.9 1099.1ZM520.7 1094.2L529.1 1093.9L520.7 1093.6L520.2 1093.9ZM698.9 1078.6L699.6 1078.4L698.9 1078.0L697.1 1078.4ZM796.2 1079.9L804.3 1078.4L796.2 1076.6L783.8 1078.4Z" fill="#22a884" stroke="#22a884" stroke-width="0.6"/>
<path d="M164.2 1322.0L180.4 1322.0L196.6 1322.0L212.8 1322.0L229.0 1322.0L233.4 1322.0L240.0 1316.8L245.2 1316.1L257.6 1311.6L261.4 1311.3L266.7 1311.6L277.6 1312.6L293.8 1314.6L309.3 1316.8L310.0 1317.2L311.9 1316.8L317.6 1311.6L326.2 1308.7L337.7 1311.6L342.4 1313.9L355.4 1311.6L358.7 1311.3L374.9 1310.6L391.1 1309.1L401.4 1311.6L405.6 1316.8L391.2 1322.0L407.3 1322.0L418.4 1322.0L423.5 1318.3L426.6 1322.0L439.7 1322.0L455.9 1322.0L472.1 1322.0L488.3 1322.0L504.5 1322.0L520.7 1322.0L533.3 1322.0L536.9 1320.8L547.8 1322.0L553.1 1322.0L569.3 1322.0L574.1 1322.0L569.3 1320.1L556.7 1316.8L553.1 1315.4L536.9 1313.7L530.2 1311.6L520.7 1307.8L515.4 1306.4L504.5 1303.4L500.6 1301.3L488.3 1297.6L472.1 1300.0L466.8 1301.3L455.9 1304.2L450.3 1301.3L455.9 1296.4L456.6 1296.1L455.9 1295.9L439.7 1292.7L423.5 1294.4L407.7 1296.1L407.3 1296.2L407.0 1296.1L391.1 1294.3L381.0 1296.1L374.9 1297.6L362.5 1296.1L358.7 1295.7L355.9 1296.1L342.4 1297.0L330.4 1296.1L326.2 1295.4L317.5 1296.1L310.0 1296.5L293.8 1299.8L277.6 1296.2L277.2 1296.1L261.4 1292.8L245.2 1294.4L238.7 1296.1L229.0 1301.1L212.8 1296.9L196.6 1300.5L188.7 1296.1L180.4 1294.1L169.0 1296.1L173.1 1301.3L164.2 1302.8L159.2 1306.4L153.0 1311.6L164.2 1315.6L166.6 1316.8L164.2 1317.3L148.0 1317.3L148.0 1322.0ZM452.4 1311.6L455.9 1311.0L458.4 1311.6L455.9 1313.5ZM342.1 1301.3L342.4 1301.2L342.9 1301.3L342.4 1301.6ZM261.4 1322.0L277.6 1322.0L287.5 1322.0L277.6 1320.5L261.4 1318.8L260.4 1322.0ZM374.9 1322.0L387.9 1322.0L374.9 1321.9L374.4 1322.0ZM585.5 1307.0L588.2 1306.4L585.5 1305.6L583.6 1306.4ZM156.9 1301.3L148.0 1298.8L148.0 1301.3L148.0 1302.2ZM553.1 1303.0L558.6 1301.3L553.1 1300.5L544.0 1301.3ZM229.0 1291.0L229.1 1290.9L229.0 1290.9L228.9 1290.9ZM942.0 1272.0L942.0 1270.2L942.0 1265.0L942.0 1259.8L942.0 1254.6L942.0 1249.4L942.0 1248.6L925.8 1246.4L922.3 1244.2L925.8 1243.3L941.2 1239.1L942.0 1238.7L942.0 1233.9L942.0 1228.7L942.0 1223.5L942.0 1223.3L935.7 1223.5L925.8 1224.1L915.6 1228.7L909.6 1230.4L906.1 1228.7L893.4 1224.3L880.5 1228.7L877.2 1233.5L861.0 1229.3L850.1 1228.7L844.8 1228.4L841.0 1228.7L828.6 1230.2L812.4 1233.2L803.7 1233.9L802.9 1239.1L798.2 1244.2L812.4 1247.0L821.3 1249.4L816.1 1254.6L812.4 1256.8L802.7 1254.6L796.2 1251.3L780.0 1253.0L776.4 1254.6L780.0 1256.6L796.2 1259.0L797.5 1259.8L812.4 1261.2L826.2 1259.8L828.6 1259.5L844.8 1259.0L849.2 1259.8L861.0 1263.5L877.2 1261.0L887.9 1265.0L893.4 1266.4L909.6 1268.9L925.8 1269.8L929.5 1270.2ZM890.4 1254.6L893.4 1251.1L896.7 1254.6L893.4 1255.9ZM896.4 1249.4L909.6 1247.8L918.3 1249.4L909.6 1251.2ZM780.0 1239.4L780.9 1239.1L780.0 1239.0L778.1 1239.1ZM861.0 1226.0L863.6 1223.5L861.0 1223.1L859.4 1223.5ZM293.8 1210.3L308.9 1208.0L310.0 1207.6L326.2 1207.3L330.5 1208.0L342.4 1209.1L358.7 1208.3L366.5 1208.0L374.9 1207.6L380.8 1208.0L391.1 1208.8L397.8 1208.0L407.3 1206.6L423.5 1206.8L439.7 1205.0L455.9 1206.2L468.7 1202.8L472.1 1202.0L488.3 1201.5L504.5 1202.0L520.7 1200.1L536.9 1198.0L538.6 1197.6L551.0 1192.4L536.9 1187.3L536.6 1187.2L536.9 1187.2L553.1 1187.0L569.3 1183.8L583.1 1182.0L573.8 1176.9L569.3 1173.4L553.1 1176.2L547.2 1176.9L536.9 1178.3L520.7 1180.8L507.2 1176.9L505.1 1171.7L504.5 1171.5L503.7 1171.7L488.3 1176.7L486.7 1176.9L472.1 1178.2L469.1 1176.9L472.1 1174.8L476.2 1171.7L472.1 1170.2L455.9 1171.1L443.4 1171.7L439.7 1172.0L439.1 1171.7L423.5 1167.1L418.1 1166.5L407.3 1165.8L400.9 1166.5L391.1 1168.8L378.1 1171.7L374.9 1172.4L372.6 1171.7L358.7 1168.9L342.4 1170.3L326.2 1171.3L310.0 1170.4L293.8 1170.0L277.6 1168.6L262.4 1171.7L261.4 1172.0L258.7 1171.7L245.2 1170.0L229.0 1170.7L218.8 1171.7L212.8 1172.4L206.9 1171.7L196.6 1169.9L189.6 1171.7L188.0 1176.9L180.4 1177.6L176.5 1176.9L164.2 1173.7L159.1 1176.9L151.6 1182.0L148.0 1183.2L148.0 1187.2L148.0 1192.4L148.0 1195.8L156.5 1197.6L161.7 1202.8L164.2 1202.9L180.4 1204.4L191.3 1202.8L196.6 1202.2L212.8 1201.5L217.4 1202.8L229.0 1206.6L245.2 1205.4L261.0 1202.8L261.4 1202.8L261.6 1202.8L277.6 1205.4L283.2 1208.0ZM290.1 1197.6L280.4 1192.4L277.6 1192.0L275.4 1192.4L261.4 1194.8L254.8 1192.4L245.2 1190.6L229.0 1190.6L221.5 1187.2L229.0 1185.0L245.2 1183.4L257.9 1182.0L261.4 1180.9L277.6 1180.4L293.8 1179.5L308.4 1182.0L310.0 1182.4L326.2 1183.8L342.4 1183.3L354.3 1182.0L358.7 1180.8L374.9 1181.9L391.1 1180.0L407.3 1180.5L423.5 1179.7L434.2 1182.0L434.7 1187.2L439.7 1189.3L455.9 1188.8L470.8 1192.4L455.9 1196.2L439.7 1193.4L423.5 1193.1L407.3 1193.1L401.1 1192.4L407.3 1191.3L417.6 1187.2L407.3 1184.4L391.9 1187.2L391.1 1187.8L374.9 1189.8L368.1 1192.4L374.9 1194.2L390.7 1197.6L374.9 1201.1L363.6 1197.6L358.7 1195.7L352.4 1197.6L342.4 1200.0L326.2 1200.9L318.8 1197.6L310.0 1195.4L298.0 1197.6L293.8 1198.4ZM451.3 1182.0L455.9 1181.1L458.1 1182.0L455.9 1183.6ZM340.6 1176.9L342.4 1176.6L346.0 1176.9L342.4 1178.2ZM844.8 1152.8L861.0 1151.8L877.2 1154.2L893.4 1152.5L908.9 1150.9L909.6 1150.8L910.2 1150.9L925.8 1153.4L942.0 1154.0L942.0 1150.9L942.0 1145.8L942.0 1140.6L942.0 1135.4L942.0 1130.2L942.0 1125.0L942.0 1123.9L925.8 1123.2L909.6 1124.5L893.4 1123.4L886.0 1125.0L877.2 1126.7L861.0 1128.9L854.1 1130.2L844.8 1131.1L839.3 1130.2L829.1 1125.0L828.6 1125.0L812.4 1124.6L808.2 1125.0L805.5 1130.2L796.2 1133.9L780.0 1134.7L777.7 1135.4L780.0 1136.1L796.2 1139.1L797.9 1140.6L812.4 1143.1L828.6 1142.1L832.7 1145.8L834.8 1150.9ZM906.8 1140.6L909.6 1139.7L921.0 1135.4L925.8 1132.9L936.4 1135.4L932.1 1140.6L925.8 1142.2L909.6 1141.3ZM906.2 1130.2L909.6 1127.8L911.0 1130.2L909.6 1130.8ZM149.1 1109.5L148.0 1108.7L148.0 1109.5L148.0 1109.7ZM196.6 1110.0L212.8 1109.7L229.0 1112.0L245.0 1109.5L245.2 1109.4L245.8 1109.5L261.4 1111.1L277.6 1111.9L293.8 1109.9L310.0 1110.4L326.2 1110.8L342.3 1109.5L342.4 1109.5L342.6 1109.5L358.7 1111.4L366.0 1109.5L374.9 1108.0L382.7 1109.5L391.1 1111.2L407.3 1109.6L423.5 1110.3L439.7 1111.1L451.3 1109.5L455.9 1108.9L464.4 1109.5L472.1 1109.9L473.6 1109.5L488.3 1106.0L504.5 1107.0L520.7 1105.5L536.9 1106.7L543.5 1104.3L553.1 1102.3L561.1 1099.1L560.6 1093.9L569.3 1090.1L572.5 1088.7L569.3 1087.7L553.1 1085.7L536.9 1087.4L520.7 1085.8L514.0 1083.6L504.5 1080.7L488.3 1082.8L472.1 1081.7L458.8 1083.6L455.9 1084.2L454.3 1083.6L439.7 1081.4L426.7 1083.6L423.5 1084.2L418.0 1083.6L407.3 1081.8L391.1 1081.3L374.9 1079.4L358.7 1081.4L342.4 1080.1L326.2 1082.5L315.3 1083.6L310.0 1084.0L307.0 1083.6L293.8 1081.0L277.6 1082.3L261.4 1083.0L245.2 1080.6L230.7 1083.6L229.0 1083.9L212.8 1084.8L203.7 1083.6L196.6 1082.9L191.4 1083.6L180.4 1085.1L164.2 1086.0L148.0 1086.1L148.0 1088.7L148.0 1093.9L148.0 1097.2L151.9 1099.1L157.0 1104.3L164.2 1105.7L180.4 1107.0L191.5 1109.5ZM258.2 1104.3L255.5 1099.1L245.2 1096.7L235.5 1099.1L229.0 1100.7L218.5 1099.1L212.8 1096.3L204.6 1093.9L212.8 1093.1L229.0 1093.1L245.2 1090.3L259.9 1093.9L261.4 1094.8L274.6 1099.1L266.6 1104.3L261.4 1105.1ZM342.0 1104.3L329.0 1099.1L326.2 1097.5L321.2 1099.1L310.0 1101.4L293.8 1101.4L279.4 1099.1L288.6 1093.9L293.8 1092.0L310.0 1091.1L313.4 1088.7L326.2 1087.1L338.7 1088.7L342.4 1090.5L358.7 1091.5L374.0 1088.7L374.9 1088.4L375.4 1088.7L391.1 1091.8L403.2 1088.7L407.3 1087.7L417.0 1088.7L423.5 1091.5L439.7 1092.8L444.7 1093.9L455.9 1095.0L472.1 1097.4L480.5 1099.1L472.1 1100.1L455.9 1101.1L439.7 1099.2L428.7 1099.1L423.5 1098.6L422.5 1099.1L415.5 1104.3L407.3 1104.5L406.2 1104.3L399.1 1099.1L391.1 1097.5L374.9 1096.6L369.3 1099.1L374.9 1104.0L375.2 1104.3L374.9 1104.3L373.5 1104.3L358.7 1102.9L344.0 1104.3L342.4 1104.4ZM534.9 1099.1L536.9 1095.3L540.0 1099.1L536.9 1100.9ZM501.2 1093.9L504.5 1093.5L505.3 1093.9L504.5 1094.2ZM520.2 1093.9L520.7 1093.6L529.1 1093.9L520.7 1094.2ZM196.1 1088.7L196.6 1088.7L197.0 1088.7L196.6 1089.3ZM585.5 1100.5L590.7 1099.1L585.5 1097.6L580.9 1099.1ZM601.7 1089.7L603.8 1088.7L601.7 1088.0L598.7 1088.7ZM861.0 1068.3L862.3 1068.0L861.0 1068.0L859.0 1068.0ZM925.8 1069.7L935.0 1068.0L925.8 1068.0L915.1 1068.0Z" fill="#7ad151" stroke="#7ad151" stroke-width="0.6"/>
<path d="M245.2 1322.0L260.4 1322.0L261.4 1318.8L277.6 1320.5L287.5 1322.0L293.8 1322.0L310.0 1322.0L326.2 1322.0L342.4 1322.0L358.7 1322.0L374.4 1322.0L374.9 1321.9L387.9 1322.0L391.1 1322.0L391.2 1322.0L405.6 1316.8L401.4 1311.6L391.1 1309.1L374.9 1310.6L358.7 1311.3L355.4 1311.6L342.4 1313.9L337.7 1311.6L326.2 1308.7L317.6 1311.6L311.9 1316.8L310.0 1317.2L309.3 1316.8L293.8 1314.6L277.6 1312.6L266.7 1311.6L261.4 1311.3L257.6 1311.6L245.2 1316.1L240.0 1316.8L233.4 1322.0ZM423.5 1322.0L426.6 1322.0L423.5 1318.3L418.4 1322.0ZM455.9 1313.5L458.4 1311.6L455.9 1311.0L452.4 1311.6ZM342.4 1301.6L342.9 1301.3L342.4 1301.2L342.1 1301.3ZM893.4 1255.9L896.7 1254.6L893.4 1251.1L890.4 1254.6ZM909.6 1251.2L918.3 1249.4L909.6 1247.8L896.4 1249.4ZM925.8 1246.4L942.0 1248.6L942.0 1244.2L942.0 1239.1L942.0 1238.7L941.2 1239.1L925.8 1243.3L922.3 1244.2ZM293.8 1198.4L298.0 1197.6L310.0 1195.4L318.8 1197.6L326.2 1200.9L342.4 1200.0L352.4 1197.6L358.7 1195.7L363.6 1197.6L374.9 1201.1L390.7 1197.6L374.9 1194.2L368.1 1192.4L374.9 1189.8L391.1 1187.8L391.9 1187.2L407.3 1184.4L417.6 1187.2L407.3 1191.3L401.1 1192.4L407.3 1193.1L423.5 1193.1L439.7 1193.4L455.9 1196.2L470.8 1192.4L455.9 1188.8L439.7 1189.3L434.7 1187.2L434.2 1182.0L423.5 1179.7L407.3 1180.5L391.1 1180.0L374.9 1181.9L358.7 1180.8L354.3 1182.0L342.4 1183.3L326.2 1183.8L310.0 1182.4L308.4 1182.0L293.8 1179.5L277.6 1180.4L261.4 1180.9L257.9 1182.0L245.2 1183.4L229.0 1185.0L221.5 1187.2L229.0 1190.6L245.2 1190.6L254.8 1192.4L261.4 1194.8L275.4 1192.4L277.6 1192.0L280.4 1192.4L290.1 1197.6ZM455.9 1183.6L458.1 1182.0L455.9 1181.1L451.3 1182.0ZM342.4 1178.2L346.0 1176.9L342.4 1176.6L340.6 1176.9ZM909.6 1141.3L925.8 1142.2L932.1 1140.6L936.4 1135.4L925.8 1132.9L921.0 1135.4L909.6 1139.7L906.8 1140.6ZM261.4 1105.1L266.6 1104.3L274.6 1099.1L261.4 1094.8L259.9 1093.9L245.2 1090.3L229.0 1093.1L212.8 1093.1L204.6 1093.9L212.8 1096.3L218.5 1099.1L229.0 1100.7L235.5 1099.1L245.2 1096.7L255.5 1099.1L258.2 1104.3ZM342.4 1104.4L344.0 1104.3L358.7 1102.9L373.5 1104.3L374.9 1104.3L375.2 1104.3L374.9 1104.0L369.3 1099.1L374.9 1096.6L391.1 1097.5L399.1 1099.1L406.2 1104.3L407.3 1104.5L415.5 1104.3L422.5 1099.1L423.5 1098.6L428.7 1099.1L439.7 1099.2L455.9 1101.1L472.1 1100.1L480.5 1099.1L472.1 1097.4L455.9 1095.0L444.7 1093.9L439.7 1092.8L423.5 1091.5L417.0 1088.7L407.3 1087.7L403.2 1088.7L391.1 1091.8L375.4 1088.7L374.9 1088.4L374.0 1088.7L358.7 1091.5L342.4 1090.5L338.7 1088.7L326.2 1087.1L313.4 1088.7L310.0 1091.1L293.8 1092.0L288.6 1093.9L279.4 1099.1L293.8 1101.4L310.0 1101.4L321.2 1099.1L326.2 1097.5L329.0 1099.1L342.0 1104.3ZM504.5 1094.2L505.3 1093.9L504.5 1093.5L501.2 1093.9ZM196.6 1089.3L197.0 1088.7L196.6 1088.7L196.1 1088.7Z" fill="#fde725" stroke="#fde725" stroke-width="0.6"/>
<path d="M922.3 1322.0L925.7 1316.8L925.8 1316.8L926.0 1316.8L942.0 1319.8M942.0 1198.3L936.2 1197.6L942.0 1195.9M942.0 1186.3L940.5 1187.2L934.4 1192.4L925.8 1195.3L918.0 1192.4L909.6 1190.4L893.8 1192.4L893.4 1192.5L893.1 1192.4L893.4 1192.2L897.8 1187.2L909.6 1182.3L913.3 1182.0L925.8 1181.1L942.0 1181.7M942.0 1104.7L938.5 1104.3L942.0 1103.3M942.0 1096.5L930.4 1093.9L929.3 1088.7L942.0 1087.5M310.0 1262.6L298.1 1259.8L293.8 1258.6L277.6 1257.7L261.4 1258.1L247.0 1254.6L245.2 1254.1L243.6 1254.6L229.0 1257.0L221.0 1254.6L217.4 1249.4L214.4 1244.2L212.8 1243.2L204.4 1239.1L212.8 1238.0L226.5 1233.9L229.0 1232.0L245.2 1232.2L253.3 1233.9L261.4 1235.7L274.3 1233.9L277.6 1233.4L284.9 1233.9L293.8 1235.8L310.0 1235.9L321.9 1233.9L326.2 1232.7L342.4 1233.1L345.4 1233.9L355.9 1239.1L358.7 1240.0L364.5 1239.1L369.0 1233.9L374.9 1232.3L389.7 1233.9L391.1 1234.3L407.3 1235.8L423.5 1236.0L439.7 1236.3L447.1 1239.1L439.7 1241.8L427.3 1244.2L439.7 1245.9L447.9 1244.2L455.9 1242.1L464.5 1239.1L472.1 1236.6L488.3 1238.5L504.5 1236.7L509.5 1239.1L504.5 1241.3L488.3 1242.1L483.7 1244.2L472.1 1247.7L455.9 1246.0L448.3 1249.4L455.9 1252.6L464.3 1254.6L455.9 1256.1L443.6 1254.6L439.7 1253.8L425.4 1249.4L423.5 1246.9L416.2 1249.4L414.0 1254.6L407.3 1255.9L391.1 1255.3L374.9 1256.3L358.7 1255.1L350.4 1259.8L342.4 1262.4L326.2 1263.3L310.0 1262.6M180.4 1255.2L178.2 1254.6L180.4 1253.9L196.6 1252.2L204.2 1254.6L196.6 1256.6ZM488.3 1255.5L485.0 1254.6L488.3 1252.8L490.0 1254.6ZM261.4 1229.0L261.0 1228.7L261.4 1228.5L261.8 1228.7ZM877.2 1187.3L876.1 1187.2L869.2 1182.0L877.2 1180.6L885.2 1182.0L878.1 1187.2ZM229.0 1151.5L226.4 1150.9L218.4 1145.8L218.5 1140.6L212.8 1139.5L203.0 1135.4L212.8 1132.3L227.9 1130.2L229.0 1130.0L231.0 1130.2L245.2 1131.7L256.8 1135.4L261.4 1138.0L277.6 1135.5L277.9 1135.4L286.3 1130.2L293.8 1128.2L310.0 1129.7L326.2 1128.8L342.0 1130.2L342.4 1130.3L358.7 1132.8L373.4 1130.2L374.9 1129.5L377.7 1130.2L391.1 1132.2L407.3 1134.4L421.0 1130.2L423.5 1129.2L430.4 1130.2L439.7 1130.8L452.9 1135.4L455.9 1137.3L470.0 1140.6L455.9 1144.5L442.6 1140.6L439.7 1140.1L437.2 1140.6L423.5 1143.9L415.0 1145.8L407.3 1147.3L391.1 1148.7L374.9 1148.6L362.9 1145.8L358.7 1144.6L355.9 1145.8L342.4 1149.7L326.2 1147.3L310.0 1146.7L295.3 1145.8L293.8 1145.6L277.6 1144.4L271.8 1145.8L261.4 1149.3L245.2 1146.1L232.3 1150.9ZM504.5 1141.9L500.0 1140.6L504.5 1139.2L507.0 1140.6ZM472.1 1133.3L469.9 1130.2L472.1 1129.8L474.3 1130.2L472.1 1133.3M844.8 1100.5L841.7 1099.1L844.8 1095.7L851.7 1099.1ZM877.2 1101.0L871.4 1099.1L877.2 1097.6L889.5 1093.9L893.4 1092.8L909.6 1092.4L917.1 1093.9L910.6 1099.1L909.6 1099.4L893.4 1099.2ZM804.3 1322.0L807.9 1316.8L800.5 1311.6L810.3 1306.4L812.4 1306.1L828.6 1304.4L843.4 1301.3L841.7 1296.1L844.8 1295.2L852.0 1296.1L846.9 1301.3L861.0 1305.2L871.5 1301.3L877.2 1299.3L886.3 1296.1L893.4 1293.7L908.2 1296.1L909.6 1296.5L922.7 1301.3L925.8 1302.1L929.4 1301.3L942.0 1297.7M942.0 1294.4L936.0 1290.9L942.0 1289.8M148.0 1230.2L164.2 1229.8L180.4 1230.5L183.8 1228.7L196.6 1227.0L204.6 1223.5L212.8 1222.7L229.0 1222.0L233.1 1223.5L245.2 1226.6L253.3 1223.5L261.4 1220.9L277.6 1221.5L293.8 1222.0L310.0 1222.3L321.9 1223.5L326.2 1223.9L342.4 1223.6L358.7 1224.8L366.1 1223.5L374.9 1222.1L391.1 1223.1L407.3 1223.0L423.5 1221.5L439.7 1222.7L453.5 1223.5L455.9 1223.7L459.0 1223.5L472.1 1222.5L478.8 1223.5L488.3 1225.9L501.1 1223.5L504.5 1223.2L506.8 1223.5L504.5 1226.1L501.4 1228.7L504.5 1229.0L520.7 1230.6L536.9 1229.5L553.1 1233.3L556.7 1233.9L569.3 1235.0L579.2 1239.1L585.5 1241.2L597.5 1244.2L601.7 1246.6L608.7 1249.4L601.7 1251.4L585.5 1251.6L569.3 1252.5L553.1 1251.1L546.6 1254.6L553.1 1255.0L569.3 1258.9L571.9 1259.8L569.3 1260.3L553.1 1263.5L538.0 1265.0L536.9 1265.1L520.7 1267.2L512.3 1265.0L504.5 1263.7L497.6 1265.0L488.3 1268.1L476.2 1270.2L472.1 1271.1L469.7 1270.2L455.9 1267.8L439.7 1268.5L435.2 1270.2L423.5 1272.3L412.0 1275.3L407.3 1276.0L403.0 1275.3L407.3 1271.0L409.0 1270.2L407.3 1269.9L403.1 1270.2L391.1 1271.1L374.9 1273.5L358.7 1273.1L348.0 1270.2L342.4 1268.9L336.7 1270.2L342.4 1274.0L345.5 1275.3L342.4 1275.8L336.0 1275.3L326.2 1274.2L310.0 1272.5L293.8 1273.2L277.6 1273.7L261.4 1274.2L245.2 1270.2L229.0 1271.7L218.0 1270.2L212.8 1269.7L211.1 1270.2L196.6 1272.2L189.9 1270.2L180.4 1267.6L164.2 1266.0L149.2 1265.0L148.0 1264.8M942.0 1205.9L925.8 1206.9L911.9 1208.0L909.6 1208.0L893.4 1208.4L889.3 1208.0L877.2 1205.7L861.0 1203.9L853.4 1202.8L852.1 1197.6L844.8 1196.5L840.6 1197.6L828.6 1201.1L813.9 1197.6L820.3 1192.4L812.4 1188.7L801.8 1187.2L796.2 1184.1L793.9 1187.2L796.2 1190.9L797.4 1192.4L809.3 1197.6L796.2 1199.5L790.7 1197.6L780.0 1194.4L766.3 1192.4L772.8 1187.2L780.0 1182.6L788.2 1182.0L780.0 1181.4L772.2 1176.9L780.0 1175.4L793.6 1176.9L796.2 1179.8L802.2 1176.9L812.4 1176.2L828.6 1174.4L844.8 1174.3L861.0 1175.1L871.2 1171.7L877.2 1169.8L884.9 1171.7L893.4 1174.5L909.6 1171.9L910.2 1171.7L925.8 1168.4L942.0 1170.4M148.0 1131.1L151.9 1130.2L164.2 1128.1L180.4 1126.1L196.6 1125.4L198.7 1125.0L212.8 1121.7L229.0 1122.8L245.2 1124.1L261.4 1122.9L277.6 1122.6L293.8 1121.6L310.0 1123.2L326.2 1124.4L342.4 1121.0L358.7 1122.5L374.9 1122.2L391.1 1121.4L407.3 1121.2L423.5 1121.8L439.7 1123.1L455.9 1123.3L469.7 1125.0L472.1 1125.3L476.8 1125.0L488.3 1123.7L501.8 1125.0L504.5 1125.6L520.7 1125.9L536.9 1126.6L547.3 1130.2L553.1 1133.2L566.9 1130.2L569.3 1129.9L572.0 1130.2L582.5 1135.4L584.1 1140.6L585.5 1141.8L601.7 1142.0L611.1 1145.8L601.7 1147.5L585.5 1150.9L585.5 1150.9L585.4 1150.9L569.3 1148.0L557.9 1145.8L553.1 1143.6L549.7 1145.8L543.8 1150.9L536.9 1151.1L522.8 1156.1L520.7 1156.6L517.4 1156.1L504.5 1153.9L488.3 1153.3L475.5 1156.1L472.1 1156.6L455.9 1156.9L443.8 1156.1L439.7 1155.4L423.5 1153.8L407.3 1154.1L391.1 1154.6L382.2 1156.1L374.9 1157.2L358.7 1156.7L356.5 1156.1L342.4 1154.6L329.5 1156.1L326.2 1156.8L310.0 1158.1L297.1 1156.1L293.8 1155.1L284.0 1156.1L277.6 1156.6L273.0 1156.1L261.4 1155.2L250.5 1156.1L245.2 1157.2L241.4 1156.1L229.0 1155.1L212.8 1152.2L197.3 1156.1L196.6 1156.4L195.9 1156.1L180.4 1153.1L164.2 1151.9L157.9 1150.9L148.0 1148.2M148.0 1124.5L150.4 1125.0L148.0 1127.4M942.0 1110.9L925.8 1111.4L912.8 1109.5L909.6 1108.8L905.3 1109.5L893.4 1110.6L881.3 1109.5L877.2 1108.9L866.8 1109.5L861.0 1109.8L857.0 1109.5L844.8 1108.2L836.0 1109.5L828.6 1111.2L816.7 1109.5L828.6 1104.8L829.0 1104.3L828.6 1103.9L812.4 1104.0L812.1 1104.3L796.2 1105.1L791.4 1104.3L796.2 1101.9L809.3 1099.1L812.4 1098.5L815.2 1093.9L812.4 1092.3L797.7 1093.9L796.2 1094.8L795.2 1093.9L780.0 1088.7L796.2 1086.0L812.4 1084.8L827.9 1083.6L828.6 1083.5L831.5 1083.6L844.8 1083.7L848.2 1083.6L861.0 1083.0L877.2 1082.8L893.4 1082.3L909.6 1081.1L925.8 1082.1L942.0 1081.8M166.8 1068.0L164.2 1068.5L162.6 1068.0M210.6 1068.0L196.6 1069.7L186.7 1068.0M464.0 1068.0L455.9 1070.5L439.7 1070.0L423.5 1069.4L407.3 1070.8L391.1 1071.3L374.9 1070.3L358.7 1069.8L342.4 1069.8L326.2 1070.3L310.0 1071.0L293.8 1073.1L277.6 1071.2L261.4 1068.4L254.2 1068.0M498.2 1068.0L488.3 1069.9L478.5 1068.0M531.0 1068.0L520.7 1069.1L512.0 1068.0M780.0 1314.0L773.5 1311.6L780.0 1309.3L793.9 1311.6ZM893.4 1301.5L893.9 1301.3L893.4 1301.1L892.6 1301.3ZM780.0 1297.2L777.7 1296.1L780.0 1295.5L782.2 1296.1ZM488.3 1275.6L486.9 1275.3L488.3 1274.7L488.9 1275.3L488.3 1275.6M601.7 1270.8L597.9 1270.2L601.7 1267.4L605.1 1270.2ZM536.9 1264.3L539.7 1259.8L536.9 1256.6L528.0 1259.8ZM553.1 1239.6L554.7 1239.1L553.1 1236.0L551.6 1239.1ZM617.9 1240.7L612.5 1239.1L617.9 1238.6L619.5 1239.1ZM617.9 1135.6L614.9 1135.4L617.9 1135.0L618.7 1135.4ZM893.4 1106.1L896.3 1104.3L893.4 1103.6L890.8 1104.3ZM763.8 1099.2L763.5 1099.1L763.8 1098.8L766.2 1099.1L763.8 1099.2M763.8 1092.3L759.1 1088.7L763.8 1087.3L779.9 1088.7ZM666.2 1322.0L666.5 1321.8L682.7 1318.9L697.7 1316.8L692.7 1311.6L682.7 1309.7L676.3 1311.6L666.5 1314.4L658.8 1311.6L661.8 1306.4L653.6 1301.3L666.5 1296.1L666.6 1296.1L666.5 1295.9L661.2 1290.9L658.9 1285.7L659.8 1280.5L650.3 1279.1L634.1 1277.9L617.9 1279.0L614.9 1280.5L617.9 1285.6L634.1 1285.3L636.1 1285.7L634.1 1286.0L625.9 1290.9L634.1 1295.5L641.5 1296.1L648.2 1301.3L634.1 1303.2L630.2 1301.3L621.0 1296.1L617.9 1295.9L608.5 1290.9L617.1 1285.7L601.7 1285.1L593.0 1285.7L585.5 1286.1L569.3 1287.4L556.7 1285.7L553.1 1284.8L536.9 1283.7L520.7 1285.1L519.5 1285.7L504.5 1288.1L488.3 1286.9L483.3 1285.7L477.8 1280.5L472.1 1279.2L465.5 1280.5L455.9 1282.7L441.4 1280.5L439.7 1280.2L438.1 1280.5L423.5 1282.9L407.6 1280.5L407.3 1280.5L406.8 1280.5L391.1 1284.5L374.9 1283.5L358.7 1282.3L342.4 1284.3L326.2 1283.5L310.0 1283.0L294.3 1285.7L293.8 1285.9L277.6 1287.7L267.2 1285.7L261.4 1283.3L245.2 1284.3L229.0 1283.2L220.1 1285.7L212.8 1289.6L204.9 1285.7L196.6 1281.3L193.8 1280.5L180.4 1279.3L172.3 1280.5L164.2 1283.6L148.0 1281.9M148.0 1216.5L157.1 1218.3L164.2 1218.7L165.8 1218.3L180.4 1214.2L196.6 1214.6L209.2 1218.3L212.8 1219.0L216.6 1218.3L229.0 1214.0L245.2 1214.3L261.4 1214.7L277.6 1215.2L293.8 1217.0L303.8 1213.1L310.0 1212.4L314.8 1213.1L326.2 1217.5L336.3 1213.1L342.4 1212.4L350.6 1213.1L358.7 1214.2L374.9 1215.9L391.1 1215.6L407.3 1215.8L423.5 1214.4L439.7 1217.3L455.9 1216.3L472.1 1215.0L487.3 1213.1L488.3 1213.0L489.1 1213.1L504.5 1215.9L515.4 1213.1L520.7 1211.9L536.9 1211.1L553.1 1211.5L569.3 1212.3L573.6 1213.1L580.0 1218.3L585.5 1219.5L594.5 1218.3L599.7 1213.1L586.1 1208.0L601.7 1206.4L615.3 1208.0L609.8 1213.1L617.9 1216.5L619.7 1213.1L634.1 1209.5L642.4 1208.0L650.3 1205.1L666.5 1205.3L669.4 1202.8L666.5 1199.6L664.4 1197.6L666.5 1195.3L670.3 1192.4L666.5 1190.7L661.3 1187.2L666.5 1185.0L682.6 1182.0L682.6 1176.9L677.0 1171.7L666.5 1169.1L660.3 1166.5L666.5 1164.7L682.7 1161.9L685.8 1161.3L682.7 1160.0L676.9 1156.1L666.5 1152.6L656.0 1156.1L657.8 1161.3L650.3 1164.0L634.1 1164.0L617.9 1161.6L601.7 1161.3L585.5 1162.6L569.3 1164.6L553.1 1164.1L536.9 1163.2L520.7 1163.7L504.5 1163.6L488.3 1164.2L472.1 1162.4L459.8 1161.3L455.9 1161.1L454.3 1161.3L439.7 1163.7L423.5 1162.1L407.3 1162.5L391.1 1161.8L374.9 1163.3L358.7 1164.3L342.4 1164.1L326.2 1163.6L310.0 1163.1L293.8 1162.8L277.6 1163.3L261.4 1163.6L245.2 1164.6L229.0 1162.9L227.3 1161.3L212.8 1158.4L204.9 1161.3L196.6 1163.6L180.4 1161.8L164.2 1164.4L148.0 1162.5M942.0 1215.5L925.8 1213.4L909.6 1215.1L893.4 1215.9L877.2 1214.8L861.0 1214.8L856.6 1213.1L844.8 1211.9L839.4 1213.1L828.6 1215.5L815.6 1218.3L812.4 1219.0L810.5 1218.3L796.2 1215.2L785.5 1218.3L780.0 1221.4L767.0 1218.3L763.8 1216.4L758.4 1218.3L747.6 1223.3L731.3 1219.5L724.5 1218.3L719.8 1213.1L715.1 1211.7L698.9 1210.0L682.9 1213.1L698.9 1218.2L701.9 1218.3L698.9 1218.9L696.0 1223.5L698.9 1228.0L699.6 1228.7L698.9 1230.6L697.3 1233.9L698.9 1234.7L702.5 1239.1L699.9 1244.2L698.9 1244.9L696.5 1244.2L693.7 1239.1L682.7 1236.2L676.4 1239.1L670.7 1244.2L682.7 1249.3L683.1 1249.4L690.6 1254.6L682.7 1257.5L680.3 1259.8L682.7 1261.6L688.6 1265.0L698.9 1268.6L709.9 1265.0L714.2 1259.8L715.1 1259.3L720.9 1259.8L718.6 1265.0L717.6 1270.2L719.8 1275.3L731.3 1280.1L747.6 1279.2L763.8 1277.7L774.7 1280.5L780.0 1285.3L780.6 1285.7L793.6 1290.9L796.2 1291.5L797.5 1290.9L812.4 1285.8L812.6 1285.7L828.6 1283.3L844.8 1282.9L857.6 1280.5L861.0 1276.1L865.1 1280.5L877.2 1282.7L893.4 1285.5L898.7 1285.7L909.6 1286.4L912.1 1285.7L919.8 1280.5L925.8 1279.2L931.5 1280.5L942.0 1284.1M148.0 1116.2L164.2 1117.0L180.3 1114.7L180.4 1114.6L180.6 1114.7L196.6 1115.9L207.4 1114.7L212.8 1114.0L217.8 1114.7L229.0 1117.0L245.2 1117.6L261.4 1117.0L277.6 1116.1L293.8 1116.7L310.0 1117.4L326.2 1116.9L342.4 1116.4L358.7 1117.2L374.9 1115.7L391.1 1115.7L407.3 1114.8L423.5 1115.4L439.7 1117.7L455.9 1115.7L472.1 1116.2L488.3 1117.5L504.5 1114.8L505.2 1114.7L520.7 1112.9L536.9 1113.5L553.1 1112.7L559.5 1114.7L556.3 1119.8L569.3 1120.7L573.7 1119.8L573.9 1114.7L585.5 1111.3L601.7 1110.8L617.9 1112.4L620.8 1114.7L628.1 1119.8L634.1 1121.5L650.3 1121.7L656.0 1119.8L650.3 1115.9L646.6 1114.7L634.1 1109.7L631.9 1109.5L634.1 1109.4L650.3 1108.8L666.5 1109.0L668.0 1109.5L682.7 1110.2L698.9 1111.3L715.1 1114.2L722.7 1109.5L715.1 1107.2L698.9 1106.9L689.7 1104.3L683.2 1099.1L689.7 1093.9L694.3 1088.7L682.7 1085.8L666.5 1085.9L661.7 1083.6L666.5 1081.0L670.5 1078.4L682.7 1075.5L687.9 1073.2L698.9 1070.5L715.1 1070.6L731.3 1072.8L747.6 1073.1L750.7 1073.2L763.8 1073.9L780.0 1076.5L783.5 1073.2L796.2 1070.8L810.2 1073.2L812.4 1074.4L828.6 1074.0L844.8 1074.0L861.0 1076.1L877.2 1076.1L893.4 1076.3L909.6 1075.9L925.8 1075.2L942.0 1074.2M942.0 1117.3L925.8 1116.9L909.6 1117.0L893.4 1114.9L877.2 1117.0L861.0 1116.6L844.8 1117.5L831.2 1119.8L828.6 1120.2L823.6 1119.8L814.4 1114.7L812.4 1114.1L796.2 1114.4L786.4 1114.7L785.9 1119.8L780.0 1121.0L763.8 1121.9L756.2 1119.8L747.6 1117.6L731.7 1119.8L731.3 1120.1L731.0 1119.8L715.1 1115.1L710.6 1119.8L708.5 1125.0L698.9 1128.2L684.4 1130.2L683.3 1135.4L682.7 1135.5L674.9 1140.6L682.7 1142.2L693.4 1145.8L693.5 1150.9L695.1 1156.1L698.9 1157.1L702.0 1156.1L715.1 1153.4L731.3 1153.9L744.9 1156.1L731.3 1158.2L716.9 1161.3L715.1 1161.9L698.9 1166.3L698.7 1166.5L698.9 1166.7L715.1 1168.0L730.2 1166.5L731.3 1166.2L744.4 1161.3L747.6 1158.0L763.8 1160.6L767.6 1161.3L780.0 1163.9L796.2 1164.0L812.4 1161.6L821.9 1161.3L828.6 1161.1L830.5 1161.3L844.8 1161.9L861.0 1162.7L877.2 1163.7L893.4 1161.9L905.5 1161.3L909.6 1161.1L925.8 1161.1L942.0 1161.2M683.4 1068.0L682.7 1068.4L666.5 1070.0L651.6 1073.2L650.3 1075.9L648.6 1073.2L634.1 1071.5L628.5 1073.2L617.9 1076.7L606.9 1073.2L601.7 1071.7L597.8 1073.2L586.6 1078.4L585.5 1078.6L584.8 1078.4L569.3 1074.4L553.1 1073.9L536.9 1077.3L520.7 1073.6L504.5 1075.3L488.3 1077.5L472.1 1075.7L455.9 1075.8L439.7 1074.9L423.5 1075.3L407.3 1075.6L391.1 1076.6L374.9 1074.8L358.7 1075.7L342.4 1075.0L326.2 1073.6L310.0 1076.0L293.8 1076.3L277.6 1076.8L261.4 1074.7L246.2 1073.2L245.2 1073.1L245.0 1073.2L229.0 1078.3L212.8 1078.2L197.1 1073.2L196.6 1073.1L196.0 1073.2L180.4 1074.9L164.2 1077.0L148.0 1076.0M715.1 1319.3L723.2 1316.8L715.1 1315.0L699.7 1316.8ZM715.1 1296.5L721.1 1296.1L715.1 1294.7L713.0 1296.1ZM682.7 1288.8L685.1 1285.7L682.7 1284.5L678.3 1285.7ZM715.1 1288.1L720.7 1285.7L715.1 1280.9L711.1 1285.7ZM796.2 1282.5L787.0 1280.5L796.2 1277.9L806.3 1280.5L796.2 1282.5M601.7 1276.7L607.8 1275.3L601.7 1274.6L596.3 1275.3ZM682.7 1276.3L686.8 1275.3L682.7 1274.4L678.0 1275.3ZM844.8 1275.6L844.3 1275.3L844.8 1275.2L853.8 1275.3L844.8 1275.6M763.8 1261.4L759.3 1259.8L763.8 1259.4L764.6 1259.8ZM666.5 1255.1L672.0 1254.6L666.5 1254.2L665.2 1254.6ZM650.3 1235.4L662.9 1233.9L650.3 1233.0L646.9 1233.9ZM666.5 1232.8L674.6 1228.7L666.5 1227.9L663.6 1228.7ZM715.1 1225.0L705.7 1223.5L715.1 1219.8L723.5 1223.5L715.1 1225.0M650.3 1221.8L666.5 1218.8L668.8 1218.3L680.4 1213.1L666.5 1212.4L650.3 1211.1L646.9 1213.1L641.6 1218.3ZM780.0 1213.3L780.2 1213.1L780.0 1213.1L779.1 1213.1ZM731.3 1209.1L738.0 1208.0L731.3 1206.7L727.7 1208.0ZM682.7 1197.9L684.8 1197.6L682.7 1197.1L678.1 1197.6ZM698.9 1182.5L699.4 1182.0L698.9 1181.8L683.7 1182.0ZM650.3 1177.7L639.6 1176.9L650.3 1173.2L656.0 1176.9L650.3 1177.7M780.0 1157.5L777.3 1156.1L780.0 1155.5L782.3 1156.1ZM650.3 1146.0L652.2 1145.8L650.3 1145.3L648.7 1145.8ZM666.5 1134.2L679.4 1130.2L666.5 1129.2L664.8 1130.2ZM682.7 1129.2L686.6 1125.0L682.7 1122.3L679.1 1125.0ZM666.5 1115.2L668.7 1114.7L666.5 1110.0L660.1 1114.7ZM650.3 1096.0L643.8 1093.9L649.1 1088.7L650.3 1087.5L656.6 1088.7L666.5 1090.0L673.5 1093.9L666.5 1096.6L650.3 1096.0M617.9 1084.2L616.2 1083.6L617.9 1082.0L634.1 1080.9L645.7 1083.6L634.1 1085.6ZM698.9 1078.6L699.6 1078.4L698.9 1078.0L697.1 1078.4ZM796.2 1079.9L804.3 1078.4L796.2 1076.6L783.8 1078.4ZM533.3 1322.0L536.9 1320.8L547.8 1322.0M574.1 1322.0L569.3 1320.1L556.7 1316.8L553.1 1315.4L536.9 1313.7L530.2 1311.6L520.7 1307.8L515.4 1306.4L504.5 1303.4L500.6 1301.3L488.3 1297.6L472.1 1300.0L466.8 1301.3L455.9 1304.2L450.3 1301.3L455.9 1296.4L456.6 1296.1L455.9 1295.9L439.7 1292.7L423.5 1294.4L407.7 1296.1L407.3 1296.2L407.0 1296.1L391.1 1294.3L381.0 1296.1L374.9 1297.6L362.5 1296.1L358.7 1295.7L355.9 1296.1L342.4 1297.0L330.4 1296.1L326.2 1295.4L317.5 1296.1L310.0 1296.5L293.8 1299.8L277.6 1296.2L277.2 1296.1L261.4 1292.8L245.2 1294.4L238.7 1296.1L229.0 1301.1L212.8 1296.9L196.6 1300.5L188.7 1296.1L180.4 1294.1L169.0 1296.1L173.1 1301.3L164.2 1302.8L159.2 1306.4L153.0 1311.6L164.2 1315.6L166.6 1316.8L164.2 1317.3L148.0 1317.3M148.0 1302.2L156.9 1301.3L148.0 1298.8M942.0 1223.3L935.7 1223.5L925.8 1224.1L915.6 1228.7L909.6 1230.4L906.1 1228.7L893.4 1224.3L880.5 1228.7L877.2 1233.5L861.0 1229.3L850.1 1228.7L844.8 1228.4L841.0 1228.7L828.6 1230.2L812.4 1233.2L803.7 1233.9L802.9 1239.1L798.2 1244.2L812.4 1247.0L821.3 1249.4L816.1 1254.6L812.4 1256.8L802.7 1254.6L796.2 1251.3L780.0 1253.0L776.4 1254.6L780.0 1256.6L796.2 1259.0L797.5 1259.8L812.4 1261.2L826.2 1259.8L828.6 1259.5L844.8 1259.0L849.2 1259.8L861.0 1263.5L877.2 1261.0L887.9 1265.0L893.4 1266.4L909.6 1268.9L925.8 1269.8L929.5 1270.2L942.0 1272.0M148.0 1195.8L156.5 1197.6L161.7 1202.8L164.2 1202.9L180.4 1204.4L191.3 1202.8L196.6 1202.2L212.8 1201.5L217.4 1202.8L229.0 1206.6L245.2 1205.4L261.0 1202.8L261.4 1202.8L261.6 1202.8L277.6 1205.4L283.2 1208.0L293.8 1210.3L308.9 1208.0L310.0 1207.6L326.2 1207.3L330.5 1208.0L342.4 1209.1L358.7 1208.3L366.5 1208.0L374.9 1207.6L380.8 1208.0L391.1 1208.8L397.8 1208.0L407.3 1206.6L423.5 1206.8L439.7 1205.0L455.9 1206.2L468.7 1202.8L472.1 1202.0L488.3 1201.5L504.5 1202.0L520.7 1200.1L536.9 1198.0L538.6 1197.6L551.0 1192.4L536.9 1187.3L536.6 1187.2L536.9 1187.2L553.1 1187.0L569.3 1183.8L583.1 1182.0L573.8 1176.9L569.3 1173.4L553.1 1176.2L547.2 1176.9L536.9 1178.3L520.7 1180.8L507.2 1176.9L505.1 1171.7L504.5 1171.5L503.7 1171.7L488.3 1176.7L486.7 1176.9L472.1 1178.2L469.1 1176.9L472.1 1174.8L476.2 1171.7L472.1 1170.2L455.9 1171.1L443.4 1171.7L439.7 1172.0L439.1 1171.7L423.5 1167.1L418.1 1166.5L407.3 1165.8L400.9 1166.5L391.1 1168.8L378.1 1171.7L374.9 1172.4L372.6 1171.7L358.7 1168.9L342.4 1170.3L326.2 1171.3L310.0 1170.4L293.8 1170.0L277.6 1168.6L262.4 1171.7L261.4 1172.0L258.7 1171.7L245.2 1170.0L229.0 1170.7L218.8 1171.7L212.8 1172.4L206.9 1171.7L196.6 1169.9L189.6 1171.7L188.0 1176.9L180.4 1177.6L176.5 1176.9L164.2 1173.7L159.1 1176.9L151.6 1182.0L148.0 1183.2M942.0 1123.9L925.8 1123.2L909.6 1124.5L893.4 1123.4L886.0 1125.0L877.2 1126.7L861.0 1128.9L854.1 1130.2L844.8 1131.1L839.3 1130.2L829.1 1125.0L828.6 1125.0L812.4 1124.6L808.2 1125.0L805.5 1130.2L796.2 1133.9L780.0 1134.7L777.7 1135.4L780.0 1136.1L796.2 1139.1L797.9 1140.6L812.4 1143.1L828.6 1142.1L832.7 1145.8L834.8 1150.9L844.8 1152.8L861.0 1151.8L877.2 1154.2L893.4 1152.5L908.9 1150.9L909.6 1150.8L910.2 1150.9L925.8 1153.4L942.0 1154.0M148.0 1109.7L149.1 1109.5L148.0 1108.7M148.0 1097.2L151.9 1099.1L157.0 1104.3L164.2 1105.7L180.4 1107.0L191.5 1109.5L196.6 1110.0L212.8 1109.7L229.0 1112.0L245.0 1109.5L245.2 1109.4L245.8 1109.5L261.4 1111.1L277.6 1111.9L293.8 1109.9L310.0 1110.4L326.2 1110.8L342.3 1109.5L342.4 1109.5L342.6 1109.5L358.7 1111.4L366.0 1109.5L374.9 1108.0L382.7 1109.5L391.1 1111.2L407.3 1109.6L423.5 1110.3L439.7 1111.1L451.3 1109.5L455.9 1108.9L464.4 1109.5L472.1 1109.9L473.6 1109.5L488.3 1106.0L504.5 1107.0L520.7 1105.5L536.9 1106.7L543.5 1104.3L553.1 1102.3L561.1 1099.1L560.6 1093.9L569.3 1090.1L572.5 1088.7L569.3 1087.7L553.1 1085.7L536.9 1087.4L520.7 1085.8L514.0 1083.6L504.5 1080.7L488.3 1082.8L472.1 1081.7L458.8 1083.6L455.9 1084.2L454.3 1083.6L439.7 1081.4L426.7 1083.6L423.5 1084.2L418.0 1083.6L407.3 1081.8L391.1 1081.3L374.9 1079.4L358.7 1081.4L342.4 1080.1L326.2 1082.5L315.3 1083.6L310.0 1084.0L307.0 1083.6L293.8 1081.0L277.6 1082.3L261.4 1083.0L245.2 1080.6L230.7 1083.6L229.0 1083.9L212.8 1084.8L203.7 1083.6L196.6 1082.9L191.4 1083.6L180.4 1085.1L164.2 1086.0L148.0 1086.1M859.0 1068.0L861.0 1068.3L862.3 1068.0M915.1 1068.0L925.8 1069.7L935.0 1068.0M585.5 1307.0L588.2 1306.4L585.5 1305.6L583.6 1306.4ZM553.1 1303.0L558.6 1301.3L553.1 1300.5L544.0 1301.3ZM229.0 1291.0L229.1 1290.9L229.0 1290.9L228.9 1290.9ZM780.0 1239.4L780.9 1239.1L780.0 1239.0L778.1 1239.1ZM861.0 1226.0L863.6 1223.5L861.0 1223.1L859.4 1223.5ZM909.6 1130.8L906.2 1130.2L909.6 1127.8L911.0 1130.2L909.6 1130.8M536.9 1100.9L534.9 1099.1L536.9 1095.3L540.0 1099.1L536.9 1100.9M585.5 1100.5L590.7 1099.1L585.5 1097.6L580.9 1099.1ZM520.7 1094.2L520.2 1093.9L520.7 1093.6L529.1 1093.9ZM601.7 1089.7L603.8 1088.7L601.7 1088.0L598.7 1088.7ZM260.4 1322.0L261.4 1318.8L277.6 1320.5L287.5 1322.0M374.4 1322.0L374.9 1321.9L387.9 1322.0M391.2 1322.0L405.6 1316.8L401.4 1311.6L391.1 1309.1L374.9 1310.6L358.7 1311.3L355.4 1311.6L342.4 1313.9L337.7 1311.6L326.2 1308.7L317.6 1311.6L311.9 1316.8L310.0 1317.2L309.3 1316.8L293.8 1314.6L277.6 1312.6L266.7 1311.6L261.4 1311.3L257.6 1311.6L245.2 1316.1L240.0 1316.8L233.4 1322.0M426.6 1322.0L423.5 1318.3L418.4 1322.0M942.0 1238.7L941.2 1239.1L925.8 1243.3L922.3 1244.2L925.8 1246.4L942.0 1248.6M455.9 1313.5L458.4 1311.6L455.9 1311.0L452.4 1311.6ZM342.4 1301.6L342.9 1301.3L342.4 1301.2L342.1 1301.3ZM893.4 1255.9L896.7 1254.6L893.4 1251.1L890.4 1254.6ZM909.6 1251.2L918.3 1249.4L909.6 1247.8L896.4 1249.4ZM293.8 1198.4L298.0 1197.6L310.0 1195.4L318.8 1197.6L326.2 1200.9L342.4 1200.0L352.4 1197.6L358.7 1195.7L363.6 1197.6L374.9 1201.1L390.7 1197.6L374.9 1194.2L368.1 1192.4L374.9 1189.8L391.1 1187.8L391.9 1187.2L407.3 1184.4L417.6 1187.2L407.3 1191.3L401.1 1192.4L407.3 1193.1L423.5 1193.1L439.7 1193.4L455.9 1196.2L470.8 1192.4L455.9 1188.8L439.7 1189.3L434.7 1187.2L434.2 1182.0L423.5 1179.7L407.3 1180.5L391.1 1180.0L374.9 1181.9L358.7 1180.8L354.3 1182.0L342.4 1183.3L326.2 1183.8L310.0 1182.4L308.4 1182.0L293.8 1179.5L277.6 1180.4L261.4 1180.9L257.9 1182.0L245.2 1183.4L229.0 1185.0L221.5 1187.2L229.0 1190.6L245.2 1190.6L254.8 1192.4L261.4 1194.8L275.4 1192.4L277.6 1192.0L280.4 1192.4L290.1 1197.6ZM455.9 1183.6L458.1 1182.0L455.9 1181.1L451.3 1182.0ZM342.4 1178.2L346.0 1176.9L342.4 1176.6L340.6 1176.9ZM909.6 1141.3L925.8 1142.2L932.1 1140.6L936.4 1135.4L925.8 1132.9L921.0 1135.4L909.6 1139.7L906.8 1140.6ZM261.4 1105.1L266.6 1104.3L274.6 1099.1L261.4 1094.8L259.9 1093.9L245.2 1090.3L229.0 1093.1L212.8 1093.1L204.6 1093.9L212.8 1096.3L218.5 1099.1L229.0 1100.7L235.5 1099.1L245.2 1096.7L255.5 1099.1L258.2 1104.3ZM342.4 1104.4L344.0 1104.3L358.7 1102.9L373.5 1104.3L374.9 1104.3L375.2 1104.3L374.9 1104.0L369.3 1099.1L374.9 1096.6L391.1 1097.5L399.1 1099.1L406.2 1104.3L407.3 1104.5L415.5 1104.3L422.5 1099.1L423.5 1098.6L428.7 1099.1L439.7 1099.2L455.9 1101.1L472.1 1100.1L480.5 1099.1L472.1 1097.4L455.9 1095.0L444.7 1093.9L439.7 1092.8L423.5 1091.5L417.0 1088.7L407.3 1087.7L403.2 1088.7L391.1 1091.8L375.4 1088.7L374.9 1088.4L374.0 1088.7L358.7 1091.5L342.4 1090.5L338.7 1088.7L326.2 1087.1L313.4 1088.7L310.0 1091.1L293.8 1092.0L288.6 1093.9L279.4 1099.1L293.8 1101.4L310.0 1101.4L321.2 1099.1L326.2 1097.5L329.0 1099.1L342.0 1104.3ZM504.5 1094.2L505.3 1093.9L504.5 1093.5L501.2 1093.9ZM196.6 1089.3L197.0 1088.7L196.6 1088.7L196.1 1088.7Z" fill="none" stroke="#000" stroke-width="2" stroke-linejoin="round"/>
</g>
<rect x="148" y="778" width="794" height="254" fill="none" stroke="#000" stroke-width="2"/>
<rect x="148" y="1068" width="794" height="254" fill="none" stroke="#000" stroke-width="2"/>
<line x1="137" y1="962.73" x2="148" y2="962.73" stroke="#000" stroke-width="2"/>
<text transform="translate(128 972.5) scale(1 1.05)" font-size="28" text-anchor="end" font-weight="normal" >2</text>
<line x1="137" y1="870.36" x2="148" y2="870.36" stroke="#000" stroke-width="2"/>
<text transform="translate(128 880.2) scale(1 1.05)" font-size="28" text-anchor="end" font-weight="normal" >4</text>
<line x1="137" y1="778.00" x2="148" y2="778.00" stroke="#000" stroke-width="2"/>
<text transform="translate(128 787.8) scale(1 1.05)" font-size="28" text-anchor="end" font-weight="normal" >6</text>
<line x1="137" y1="1252.73" x2="148" y2="1252.73" stroke="#000" stroke-width="2"/>
<text transform="translate(128 1262.5) scale(1 1.05)" font-size="28" text-anchor="end" font-weight="normal" >2</text>
<line x1="137" y1="1160.36" x2="148" y2="1160.36" stroke="#000" stroke-width="2"/>
<text transform="translate(128 1170.2) scale(1 1.05)" font-size="28" text-anchor="end" font-weight="normal" >4</text>
<line x1="137" y1="1068.00" x2="148" y2="1068.00" stroke="#000" stroke-width="2"/>
<text transform="translate(128 1077.8) scale(1 1.05)" font-size="28" text-anchor="end" font-weight="normal" >6</text>
<line x1="364.55" y1="1322" x2="364.55" y2="1333" stroke="#000" stroke-width="2"/>
<text transform="translate(364.5 1364.3) scale(1 1.05)" font-size="28" text-anchor="middle" font-weight="normal" >2</text>
<line x1="653.27" y1="1322" x2="653.27" y2="1333" stroke="#000" stroke-width="2"/>
<text transform="translate(653.3 1364.3) scale(1 1.05)" font-size="28" text-anchor="middle" font-weight="normal" >4</text>
<line x1="942.00" y1="1322" x2="942.00" y2="1333" stroke="#000" stroke-width="2"/>
<text transform="translate(942.0 1364.3) scale(1 1.05)" font-size="28" text-anchor="middle" font-weight="normal" >6</text>
<text transform="translate(545 764.2) scale(1 1.0)" font-size="28" text-anchor="middle" font-weight="bold" >Histological analysis</text>
<rect x="978" y="1231.33" width="24" height="90.97" fill="#440154"/>
<rect x="978" y="1140.67" width="24" height="90.97" fill="#414487"/>
<rect x="978" y="1050.00" width="24" height="90.97" fill="#2a788e"/>
<rect x="978" y="959.33" width="24" height="90.97" fill="#22a884"/>
<rect x="978" y="868.67" width="24" height="90.97" fill="#7ad151"/>
<rect x="978" y="778.00" width="24" height="90.97" fill="#fde725"/>
<rect x="978" y="778" width="24" height="544" fill="none" stroke="#000" stroke-width="2"/>
<line x1="1002" y1="1276.67" x2="1013" y2="1276.67" stroke="#000" stroke-width="2"/>
<text transform="translate(1020 1286.7) scale(1 1.05)" font-size="28" text-anchor="start" font-weight="normal" >1</text>
<line x1="1002" y1="1186.00" x2="1013" y2="1186.00" stroke="#000" stroke-width="2"/>
<text transform="translate(1020 1196.0) scale(1 1.05)" font-size="28" text-anchor="start" font-weight="normal" >2</text>
<line x1="1002" y1="1095.33" x2="1013" y2="1095.33" stroke="#000" stroke-width="2"/>
<text transform="translate(1020 1105.3) scale(1 1.05)" font-size="28" text-anchor="start" font-weight="normal" >3</text>
<line x1="1002" y1="1004.67" x2="1013" y2="1004.67" stroke="#000" stroke-width="2"/>
<text transform="translate(1020 1014.7) scale(1 1.05)" font-size="28" text-anchor="start" font-weight="normal" >4</text>
<line x1="1002" y1="914.00" x2="1013" y2="914.00" stroke="#000" stroke-width="2"/>
<text transform="translate(1020 924.0) scale(1 1.05)" font-size="28" text-anchor="start" font-weight="normal" >5</text>
<line x1="1002" y1="823.33" x2="1013" y2="823.33" stroke="#000" stroke-width="2"/>
<text transform="translate(1020 833.3) scale(1 1.05)" font-size="28" text-anchor="start" font-weight="normal" >6</text>
<text transform="translate(1072.3 1050) rotate(-90)" font-size="28" text-anchor="middle">cell group</text>
</svg>
</body></html>
